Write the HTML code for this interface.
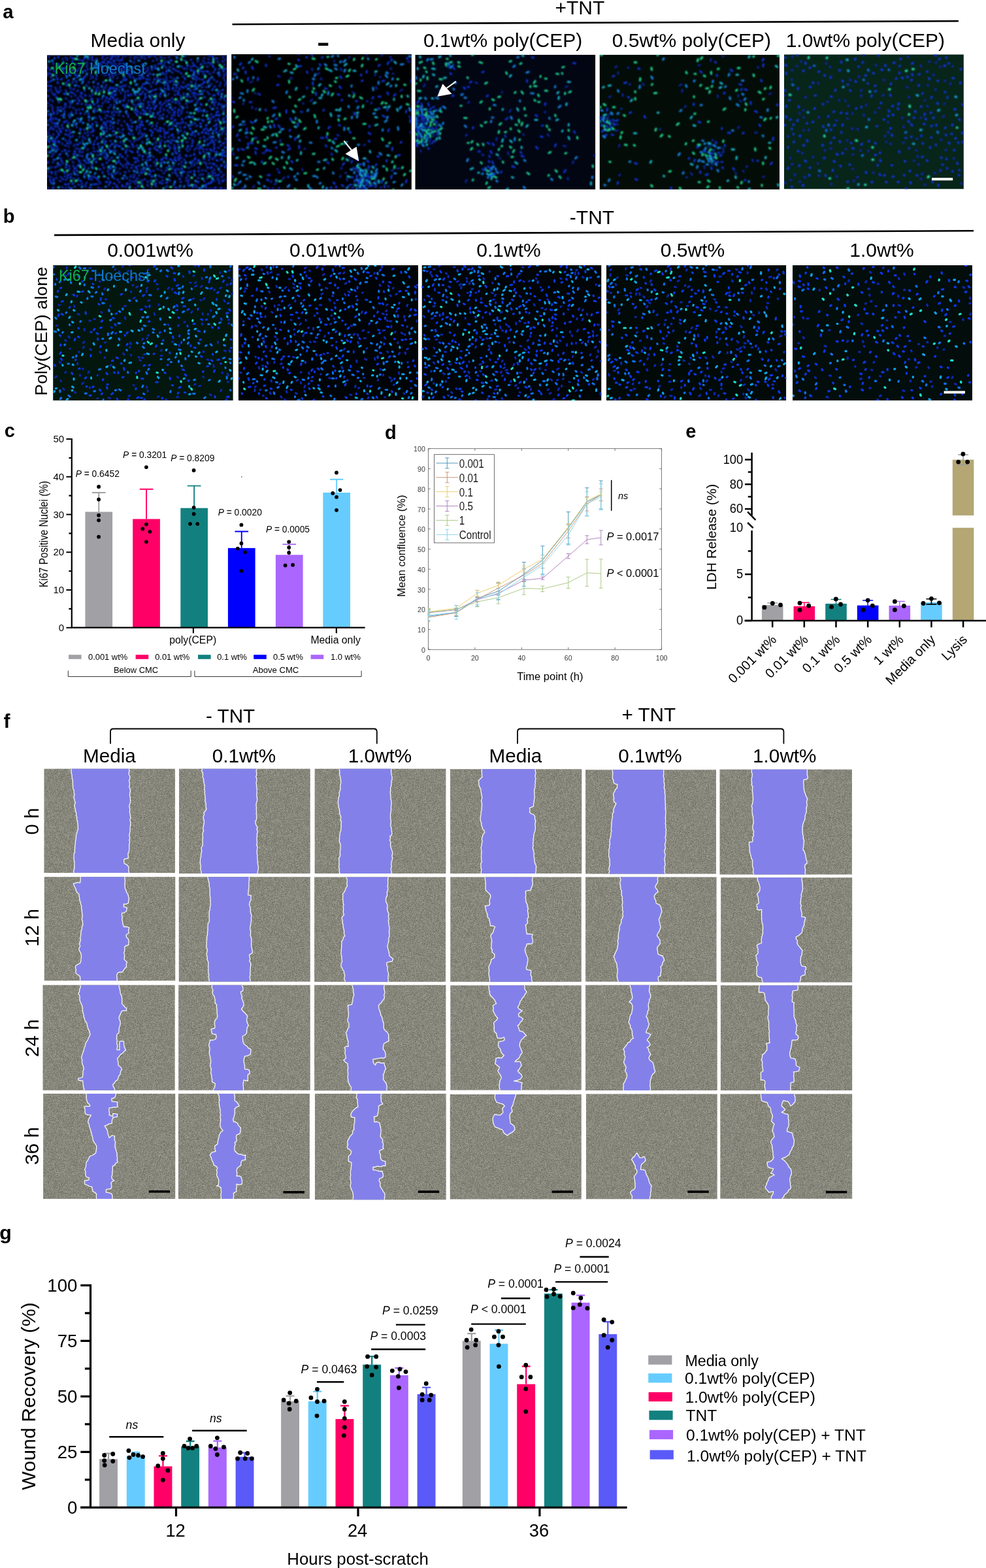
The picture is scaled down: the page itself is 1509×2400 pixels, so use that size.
<!DOCTYPE html>
<html lang="en"><head><meta charset="utf-8"><title>Figure</title>
<style>
html,body{margin:0;padding:0;background:#fff;}
body{width:1509px;height:2400px;overflow:hidden;}
svg{display:block;font-family:"Liberation Sans", Arial, Helvetica, sans-serif;fill:#000;}
</style></head><body>
<svg width="1509" height="2400" viewBox="0 0 1509 2400">
<defs>
<filter id="bl" x="-5%" y="-5%" width="110%" height="110%"><feGaussianBlur stdDeviation="0.85"/></filter><filter id="bl2" x="-5%" y="-5%" width="110%" height="110%"><feGaussianBlur stdDeviation="0.72"/></filter>
<clipPath id="mc0"><rect x="72" y="84.3" width="275.3" height="205.6"/></clipPath>
<clipPath id="mc1"><rect x="354.1" y="83" width="275.8" height="207.3"/></clipPath>
<clipPath id="mc2"><rect x="635.3" y="83.7" width="276" height="206.2"/></clipPath>
<clipPath id="mc3"><rect x="917.5" y="83.7" width="275.6" height="206.2"/></clipPath>
<clipPath id="mc4"><rect x="1199.9" y="83.3" width="275" height="206.2"/></clipPath>
<clipPath id="mc10"><rect x="81.1" y="405.9" width="275.7" height="207"/></clipPath>
<clipPath id="mc11"><rect x="364.7" y="405.9" width="275.3" height="207"/></clipPath>
<clipPath id="mc12"><rect x="645.5" y="405.9" width="275" height="207"/></clipPath>
<clipPath id="mc13"><rect x="928" y="405.9" width="275.3" height="207"/></clipPath>
<clipPath id="mc14"><rect x="1213" y="405.9" width="275.1" height="207"/></clipPath>
<filter id="nz" x="0" y="0" width="100%" height="100%" color-interpolation-filters="sRGB"><feTurbulence type="fractalNoise" baseFrequency="1.7" numOctaves="1" seed="3" result="t"/><feColorMatrix in="t" type="matrix" values="2.4 0 0 0 -0.7  2.4 0 0 0 -0.7  2.4 0 0 0 -0.74  0 0 0 0 1"/></filter>
<clipPath id="fc"><rect x="67.51" y="1176.68" width="200.4" height="159.2"/><rect x="274.04" y="1176.68" width="200.68" height="160.32"/><rect x="481.68" y="1176.68" width="200.68" height="160.32"/><rect x="689.04" y="1177.24" width="201.23" height="159.76"/><rect x="896.12" y="1178.35" width="199.84" height="159.2"/><rect x="1101.53" y="1177.79" width="202.35" height="160.6"/><rect x="67.79" y="1342.24" width="200.4" height="158.65"/><rect x="273.76" y="1342.24" width="200.95" height="160.32"/><rect x="481.12" y="1342.51" width="200.95" height="160.32"/><rect x="689.31" y="1342.51" width="200.4" height="160.32"/><rect x="896.12" y="1342.51" width="200.4" height="160.04"/><rect x="1103.2" y="1343.35" width="200.95" height="160.04"/><rect x="65.57" y="1507.79" width="202.07" height="160.87"/><rect x="273.2" y="1507.79" width="201.51" height="160.87"/><rect x="481.12" y="1507.79" width="201.23" height="161.43"/><rect x="689.31" y="1508.35" width="200.4" height="160.04"/><rect x="896.12" y="1507.79" width="201.51" height="161.15"/><rect x="1102.92" y="1508.35" width="201.23" height="160.6"/><rect x="66.12" y="1673.91" width="202.07" height="161.15"/><rect x="272.92" y="1673.91" width="200.95" height="161.15"/><rect x="481.96" y="1673.91" width="200.68" height="162.27"/><rect x="688.76" y="1675.02" width="200.95" height="160.6"/><rect x="896.96" y="1674.46" width="200.68" height="160.87"/><rect x="1102.37" y="1674.46" width="201.79" height="160.32"/></clipPath>
</defs>
<g id="p_ab">
<text x="4.2" y="28.2" font-size="29.3" font-weight="bold">a</text>
<text x="887.3" y="21.5" font-size="30" text-anchor="middle">+TNT</text>
<line x1="355.5" y1="37.2" x2="1467" y2="32.2" stroke="#000" stroke-width="2.6" />
<text x="211" y="72" font-size="30" text-anchor="middle">Media only</text>
<text transform="translate(494.7 76.7) scale(1.62 1)" font-size="37" font-weight="bold" text-anchor="middle">-</text>
<text x="769.6" y="72" font-size="30" text-anchor="middle">0.1wt% poly(CEP)</text>
<text x="1058.4" y="72" font-size="30" text-anchor="middle">0.5wt% poly(CEP)</text>
<text x="1324.4" y="72" font-size="30" text-anchor="middle">1.0wt% poly(CEP)</text>
<g clip-path="url(#mc0)">
<rect x="72" y="84.3" width="275.3" height="205.6" fill="#000308" />
<g filter="url(#bl)" stroke-linecap="round" fill="none" stroke-width="3.1">
<path d="M322.6 218.4l-1.3 .6M345.4 289.3l-2 .8M103.2 90.6l-.8 1.5M160.8 220.2l-.8 .7M147.6 281.4l1.7 .8M261.2 117.4l.5 1.1M179.2 91l-.7 .5M291.8 91.4l1.2 .4M310.7 266.5l-.2 1.1M176 230.3l1.8 .6M231.7 105.8l1.4 1.4M96.3 249.5l-.3 1.2M141.7 207.5l1 .1M263.5 257.2l-.3 1.7M141.6 251.5l-1.3 1.6M324.4 262.5l.4 1.6M254.9 260.8l-1.5 .8M309.7 133l-.9 .8M145.1 215.6l-.2 1.4M236.7 211.5l-1.2 .5M315.1 195.6l1.4 1.8M80.5 197.4l1.6 1.1M100.2 150.6l1.6 .6M150.8 276.3l-.4 .7M86.8 272.1l-1.1 .6M165.5 164.7l1.1 .6M211.6 213.2l-2 1.2M177.9 113.7l-2 .6M168.7 215.5l1 .4M299.6 127.1l-.3 1.3M250.9 157.5l1.7 .2M105.8 174.4l-.6 1.5M139.6 202.1l-.8 .7M340 203l-.3 2.4M198.5 116.7l.8 2.1M158.5 212.5l-.7 2M108.7 217.7l-.9 1.8M148.8 133.8l1.6 .5M198.3 215.4l.8 1.1M338.6 222.2l-1.4 .9M285.8 163.9l1 .6M91.8 138.8l1.5 .2M270.6 133.6l-1.1 1.1M285.2 179.7l-1.5 1.1M225.3 283l1.3 1.5M236.3 100.5l2.4 .3M290.6 211.2l-.9 .2M111.6 207.6l-1.1 1.7M237.5 253.1l1.2 1.3M75.8 106.5l1.4 1.1M122.1 209.3l-.7 .4M282.8 201.2l-.7 1.9M253.6 102.3l.9 1.6M157.2 156.7l0 1.9M254.6 121.7l.4 1.4M211.9 203.4l.1 1.7M161.1 133.1l.2 1.9M180 119.1l-.3 .8M238 197.2l-1.9 .5M261.8 214.3l1.7 .7M191.1 145.2l0 .8M331.3 268.6l-1.9 .4M272.7 172l-.4 1.4M319.6 95.7l-1.7 .8M194.1 229.4l-.9 .4M108 163.2l-2 .6M203.9 252.5l-2.3 .3M162.3 106.1l.8 .8M280 126l1 .9M153.6 288.7l1.2 0M308.7 121.5l1.9 .5M184.7 217.1l-.9 1M302.3 156.7l-1.5 1M159.3 256.2l-.5 1.6M122.7 98l-1.7 1.2M200.1 108.3l.6 .7M310.1 128.5l-1.2 .4M293.5 125.2l-1.7 .5M324.6 242.6l1.5 1.4M216.2 203.6l.4 1.1M163.8 201.1l-1.4 .1M243.9 146.9l1.4 .7M112.3 164.7l.1 1.1M114.1 221.5l-1 1.8M302.9 272.2l1.1 .3M166.1 265.4l.8 1.8M139.2 114.5l-.2 1M277 268.6l1.4 .8M240.4 90.2l0 1.9M228.9 160.3l-1.7 1.3M177.2 256.4l.1 1M79.4 161.2l-2.3 .1M79.7 187.4l.1 1.3M180.7 287.9l.7 .8M77.5 222.5l.2 .9M292.4 191.3l1.4 .3M275.7 278.4l2.1 .3M142.9 226.6l.9 .2M339.8 165.1l-.6 1.1M286.1 105l-.2 .9M179.6 171.6l-1.1 .3M122.6 146.2l.2 1.2M272.2 138.8l.6 1.1M232.6 145.1l1.3 1.4M312.5 277l.1 .8M301.2 226.3l-1.1 .2M188.7 96.3l0 2M121.1 167.4l0 .9M267.2 120.2l-1.8 .3M117.5 267l1.4 1.1M311.1 113.8l2 .9M332.3 164.7l.4 1.8M218.5 139.8l-.2 2.3M135.5 173.6l.1 2.4M295.9 146.4l1.5 .7M188.6 130.7l-1.2 1.2M108.1 243.6l-1 .7M284.6 85.2l-1.8 1M252 135l1.2 1.4M224.5 244.8l.7 1.4M199.6 86.6l0 .9M103.4 271.8l.7 .4M207.4 152.7l.6 .8M184.8 142l.1 1.1M315.9 234.5l-1.6 .4M323.1 181.6l-1.1 1.4M306.9 266.6l-.8 1.6M177 98.1l-1.8 .6M194.5 159l-1.4 1.7M193.8 255.2l.4 2.1M249.4 196.8l.9 .7M249.4 276.1l-1.4 .5M215.1 87.7l2 .9M182.5 138.2l.3 .8M174.8 159.8l-.1 1.9M218 280.8l-1.1 .6M238.9 143.6l-1.2 .1M313.9 248.3l-2.3 .2M326.6 275.6l1.6 1.5M120.4 273l-1 1M259.7 171.8l-.9 .9M145.1 179.3l1.6 1.7M171.6 113.1l-.1 .9M285.4 228l-.7 .5M96.2 90.1l-.3 1M274.7 250.5l-1.4 1.6M144.1 270.5l1.6 1.3M307.3 168.5l.8 1.6M331.6 253.5l-.7 1.3M273.4 239.3l-1 1.9M229.9 254l.9 .3M171.5 171.3l-.4 2.1M152.3 138.4l1.1 .2M177.2 221.7l2.1 .2M213.8 199.5l.5 .9M111.6 142l1.1 1.2M301.8 93.7l1.4 .5M156.5 87.7l.3 2.1M322.6 96.4l-.1 2.2M336 193.3l1 .6M225.2 277.5l1.7 1.4M221 204.5l-1.5 1.6M105 286l1.4 1.5M245.4 164.3l0 2.1M288.3 279.6l-.7 .4M253.2 204.6l-1.1 1.5M187.8 86.2l.5 .8M216.2 275.9l1.5 .7M207.8 100.6l-.7 .9M210 258.7l.5 1.4M312.1 148.4l1.8 .7M264.5 155.9l-1.4 .1M228 127.3l.8 1.2M135.5 154.5l-.9 .4M248.8 160.6l-1.7 .6M135.2 206.3l-1.4 1.8M93.5 164.1l-1.1 .2M78.3 194.1l.9 1.2M288.3 256.7l1.3 .1M188.8 253.2l.1 2.2M95.2 190.8l-.5 2.1M251.8 98.6l-1.2 1.1M317.7 212.4l-.3 1.7M83.6 192.7l1 1.8M226.5 107.4l.1 1M112 187.8l.6 1.4M177.2 265.8l-1.6 .5M192.5 251.4l1 .2M205.2 267.1l.9 .7M277.2 199.5l-.6 1M254.2 117.8l.8 .4M288 263.4l-.5 .8M210.1 87.1l.5 .7M92.9 271.2l1.1 .8M158.2 111.6l-1.4 1.5M293.9 214.6l1.9 .3M213.4 153.9l1.1 .3M122.1 238.3l.8 .1M71.5 161.9l1.6 1.8M107.4 209l-.1 2.3M172.4 287l-.1 2.1M113.4 261.8l-1.1 .5M295.4 218.1l-1.6 1.1M341.1 199.8l1.6 .8M329.1 264.3l-1.2 .8M160.9 180.2l.9 .8M234.3 260.9l1.2 .8M128 252.2l1.1 1.3M184.4 250.4l1.4 1.7M190.6 149.3l1.3 .5M86.3 100.8l1.6 1.5M250.5 166.5l.3 2.3M107 258l-1.3 1.4M126 214.6l.1 1.7M202.6 205.1l1.2 .7M200.8 268.7l-1.3 2M255.2 284.4l-.1 2.4M304.4 120.4l.9 .6M195.5 138.6l.5 1.8M278 247.4l.5 .6M312.8 96.2l1 .7M131.8 248.5l.9 1.2M347.1 217.4l-1 .2M142.3 117.1l.2 1.5M80.6 153.6l0 1.6M83.7 255.5l.7 1.2M319 204.6l1.3 1.1M126.3 238.2l0 1.8M330.7 184l-1.7 1.1M79 255.8l-.9 .6M240.5 258.9l2.3 .3M90.9 276.8l2.1 .8M167.7 244.5l-1 1.4M293.9 254.1l-.8 .1M183.6 202.2l-1 .1M235 138.1l-1.7 .4M174 273l1.2 .6M106 154.6l0 1.4M274.5 135.2l.8 1.9M164.3 88.1l-.8 .8M219.7 261.1l1.6 1.3M89.7 228.5l-2.1 .1M72.8 184.3l.3 2.1M119.8 131.5l1.3 1M206.9 287.8l1.2 .8M200.4 144.1l.9 1.4M203.6 224.4l.5 .9M173.4 206.5l1.6 .3M188.1 177.4l1 .9M210.2 241.7l-.1 1.2M203.5 159.8l2 0M132 130.2l1.3 1.4M181.7 278.6l1.7 .6M313.1 138.6l-2.1 .8M264.1 245.1l-.4 2M150.5 286.8l-.2 1.1M347.4 199l-.3 1.3M81.1 181.7l0 1.6M84 227.1l-.7 .4M210.5 120.8l-1.6 .3M99 169.8l-.2 1.6M185.3 191.9l1.2 .3M121 104.4l-.1 1M305.6 165.1l-1.9 .2M263.9 98.9l1.3 .4M269.1 144.8l-1.8 .5M260.8 102.6l-1.6 .5M273.5 289l.4 .7M265.3 210.1l.9 .3M258.1 143.5l-.1 1.2M134.1 105.1l.2 1.7M263.9 186.7l1.3 .1M294.2 142.1l.2 1M129.1 265.9l1.3 .2M247.5 214.6l-.2 .9M192.7 242.6l-1.2 1.3M281.8 243.8l.8 1.6M115.1 145.3l.5 1.2M169.2 160.4l-.1 1.8M200.8 183.1l-.9 1.4M263.5 123.6l1.8 1.6M107.8 86.7l.5 1.1M202.2 256.9l-2 .1M184.1 97.7l-2.2 .2M314.4 287.4l1.7 0M275.4 194.3l.8 .9M205.3 88.5l1.2 1.8M278.9 252.9l0 1.1M283.4 92.3l-.7 .8M237.9 217.9l1.2 .5M299.1 117.2l2.1 .6M146.4 186.6l1.7 1.1M100.1 214.1l.7 1.1M180.1 151.3l-1.8 .2M210.7 245.5l1.7 1.3M311.5 231.3l-.3 .9M250.6 121.1l-.6 .6M129.8 203.4l.4 1M140.6 195l1.3 1.8M100.8 138.1l.2 1.7M246.2 121.1l-2.1 1.1M132.6 159.4l-1.5 1.3M85.6 115l1.1 1.9M74.6 85.2l.4 2.3M192.4 285.8l-1 .4M180 188l.5 .9M122.7 250.1l1.5 .3M243.7 181.2l.2 1.5M315.2 228.7l1.9 .4M328.6 221.3l-1.3 1.4M92 242.1l1.8 .7M119.3 138.2l-1.4 1.8M163.2 194.8l.3 2.3M207.8 280.8l-.9 .4M101 126.5l1.1 .2M88.4 169.3l-1.1 .3M294 246l1.6 1.3M112.4 107.7l-1.4 1.6M276.8 146.3l-.3 1.3M117 242.5l1.9 1M167.8 116.7l.8 1.9M255.9 177.8l-.5 1.2M212.3 115.2l2.2 .4M289.1 274.8l-.2 1.6M176.1 85.2l.5 2M340.9 92.8l-.2 2.1M156.6 233.7l2 1.1M245.1 169.6l.4 1.3M315.8 250.5l-.7 1.5M319.7 265.2l-.9 1.6M223.6 109.5l-1.3 1.2M192.3 130.2l-.8 2M346.1 251.4l1.3 1.7M183.9 265.4l-.1 .8M175.1 175.6l-1.6 1.2M231.7 151.4l-1.1 0M279.4 218.8l-1.5 1.3M266.7 221.7l-.2 .9M343.9 194.6l.4 1.9M235.9 226.3l1.5 1.8M126.7 232.3l-.4 1.1M264.1 264.5l.8 0M224.5 138.2l.6 .9M73.5 287.2l.3 .8M302.1 102.9l-1 .3M171.1 265l-.7 2.1M139.3 119.6l-.7 .8M237.7 85.6l-.4 1.7M198.2 230.3l.9 .6M281.1 142.8l0 2.3M84.4 134.2l1.2 .8M292.3 237.6l-1.3 1.1M285.6 217.4l1.4 .2M240.8 199.2l.9 1.9M302.1 153l2.2 .2M90.5 196.5l1.4 1.2M319.6 143.6l1.1 .6M135.9 183.2l.7 1.7M165.8 260.5l-1.1 1.9M342.5 118.5l-.5 1.2M284.6 272.1l1.3 .2M337.4 126.4l.2 1M275.8 236.5l-.9 1.2M239.1 285.1l-.3 .8M133.1 279.2l-1.4 1.8M327.7 110l-1.1 1M290.4 147.5l.6 .9M99.1 222.5l2.2 .8M96.6 196l-.8 1.2M98.9 270.1l1 .2M100.9 287.7l-.1 1.4M327.2 121.4l.6 1M147.2 119.7l0 2.1M264.1 191.2l2.2 0M111.3 247.4l1.2 1.7M71.9 98.8l.9 .4M89.4 155.6l1.3 1.7M182.4 175.8l-.7 .4M212.8 211.2l2.2 .2M271 267.8l1 1.9M323.8 174.6l-1.1 1.6M332.9 94l.9 1.2M259.4 197.8l-.5 .7M191.1 110.6l1.3 .1M332.1 124.4l-.6 .9M73 137.6l.8 1.9M164.9 185.7l-1.6 .5M121.8 218.5l1.2 .7M95.5 231.6l-.8 .3M251.7 130.4l.9 0M221 153l-1.1 .8M100.6 87.4l0 1M196.3 224.2l1.4 .9M298.6 207.7l-.8 .4M218 244.4l1.3 .2M149 237.1l.8 .8M344.9 232l-.3 1.2M156.8 192.4l-1.7 .2M219.7 158.7l-.4 1.6M284.5 276.3l1.2 .6M190.6 185.3l-.5 .9M327.2 229.9l-.3 1.9M187.4 203.6l.5 1M325.6 267.8l-2 .9M345.6 160.7l1.8 1M292 262.3l-.6 1M245.3 134.6l0 2.2M166.5 282.1l.3 1.7M333.4 272.3l-.7 2.2M246.5 233.2l-2.1 .2M95.7 166.3l2 .2M169 95.8l1.7 .2M343.5 151.4l-.8 .7M116 172.8l1 .5M111.7 254l1 .5M139.8 270l1.2 .1M277.6 131.9l-1.2 .2M206.2 171.3l.9 1.5M267.8 164.6l.6 1.2M197.2 153.6l-.6 .9M220.6 89.6l1.8 .5M79.9 239.1l-1.2 .2M225.6 239.9l2 1.3M116.1 227l1.8 .5M99.5 162.4l.9 1.8M238.9 273.6l.8 2.2M160.2 170.6l-.6 1.6M92.1 132.9l-.3 1.8M109.3 266.2l-.9 .3M195 238.2l.6 1M130.4 211.7l-.2 1.2M273.6 202.2l-1.4 1.7M320.3 112.8l1.7 0M303.6 261.3l.4 1.4M220.4 288.6l-.3 1.8M306.8 108.7l2.3 .6M312.7 109.3l-1.1 .6M308.7 226.7l1.9 1.4M76.9 112.6l1.6 .7M149.5 106.6l-1.6 .4M292.5 102l-.5 .7M234.8 93.1l-1.1 .3M205.7 94.7l-1.7 1.1M296.6 137.4l1.7 .1M105.2 224.3l.1 .9M213.3 267.9l-.3 1.1M294 153.6l.3 1.5M146.8 242.5l.9 0M94.9 176.5l-1.4 .4M225.4 103.9l1.2 .2M88.7 254.1l-1.9 .8M218.1 163.2l1.6 .8M342.3 114.8l1.5 .4M190.4 105l.2 1.8M306.6 211l-.4 .9M173.2 230.3l-.5 .8M344.2 130.7l.4 .9M297.5 228.9l.3 .9M280.3 116.5l-.3 .8M72.5 111.1l1.8 .9M231 131.7l.5 1.4M132.7 95.1l.6 1.7M251.4 264.8l-1.5 .2M329.1 240.8l-.8 .4M102.5 130.3l-.9 .6M312.4 88.1l-.1 1.4M148.5 89.8l-1.6 1.1M106.1 281.2l-2.2 .8M302.2 192.4l-2.2 .4M321.6 162.4l-.4 1.2M222.2 274l-1.8 .8M149.5 169.1l-1.7 1.1M81.4 96.2l.4 1.9M275.1 157.6l-1.4 1.3M267.3 175.7l.2 .9M267.4 240.5l.8 1.4M240 223.3l-1.9 .7M252.2 88.6l-.7 .6M262.7 176.2l1.3 1.1M290.3 228l.8 .1M172.9 193.6l.3 2.2M284.8 147.5l1.7 .9M168 83.9l.3 1.2M109.7 158l-2.2 .9M247.7 271.3l1.3 0M262.9 110.4l1.2 .9M313.1 243.3l-1.8 .5M327.9 259.5l-.5 1M130.3 283.4l.6 2.3M342.8 168.5l-.7 1.7M119.7 282.3l1.4 1.1M338.6 271l1.6 .2M268.4 229.3l-.8 2.2M339 159.8l.1 2.1M189.7 219.2l-.9 1.2M215.8 172.9l-1.2 1.1M272.2 258.2l1.6 1.6M228.2 112.5l2.2 .4M161.4 153.4l0 2.2M170 178.5l-1.3 .1M105.4 205.8l-.5 1.5M201.7 113.9l-2.2 .2M253 93.8l-.5 1.5M181.8 92.2l1.6 1M320.3 250l1.6 .3M255.8 256.7l-1.3 .9M318.5 90.1l.9 .8M197.7 132.6l.8 .7M208 276l-.5 1.6M241.8 97.7l2.3 .1M125.7 102.8l-1.5 .2M125.5 148.7l.8 2.1M243.1 268.5l1.4 1.9M216 259.6l1 .3M247.8 227.5l-1.2 .9M86.6 200.2l1 1.5M188.8 197.5l-1.1 1.3M134.3 90.3l2 .8M205.1 215.1l.6 1.4M133.7 100.2l-1 1.8M292.3 138.3l-1.5 .8M337.1 262.8l2.1 .8M140.6 273.6l-.2 1.9M233.9 192.5l-1.5 1.2M164.2 248.3l-1.4 1.3M321 288.5l.9 1.3M136.9 146.7l1.2 .6M129.9 256.6l-.7 .5M135.8 125.4l-.1 1.4M298.7 282.8l-2 1.1M209.8 222.4l-1.2 1.1M347.2 274.1l-.9 .8M217.7 217.4l.9 1M153.2 278.9l0 2.1M141.3 144l.1 1.1M159.4 195.7l-1.1 0M213 253.1l-.1 1.4M335.2 276.2l1 .4M304.4 144l-1.8 1.3M126.8 208.3l.3 2M314.5 260.9l1 .9M335 210.4l1.2 1.5M106.2 231.1l-1.8 .2M268.2 83.8l.2 1.7M241.8 119.4l-2 .4M266.1 214.7l1 .6M169.8 252.8l.7 .9M251.8 200.4l-.4 1.9M229.2 121l-.3 1.3M257.2 168.8l-1.7 .3M235.1 158.8l-.3 1.9M276.1 241.4l1.6 .3M277.1 161.8l-1 .8M197 102.2l-.8 .4M180.8 184.4l1.7 .1M342.6 267.5l-1.1 .6M95.5 219.7l-.3 .9M299.5 149.5l-.6 1.3M336.4 151.6l.5 .8M73.1 269.2l1.1 .9M86.5 110.8l.9 .3M300.4 248.7l1.6 1.1M175.8 170.2l-1.2 .5M272.2 154.2l1 .6M116.8 193.8l.8 1.1M80.2 168.5l.6 1.4M125.5 280.5l-.4 1.7M194.8 246.9l-.2 1M272.5 125.8l.6 1.4M80.7 248.3l.6 .5M85 266.9l.6 .6M310.1 288.2l-.3 2.1M90.7 261l-.8 1.3M294.8 96l1 1.4M80.7 235.4l1.5 .7M336.6 130.6l-.5 1.3M336.9 199.6l-1.1 .9M101.6 184.5l.7 .7M234.5 239.7l.6 .8M327.2 192.5l.2 1M172.8 108.8l-1.1 1.5M190.4 263.3l2.1 .5M258.4 208.9l-.3 1.3M100 112.6l-.1 2M240.6 187.8l0 .8M76.3 207.1l1.1 .8M159.9 91.8l1.5 0M277.5 172l.4 2.1M222.6 170l-1.6 1.5M268.7 107.8l1.3 .4M346.2 111.7l.6 2.3M228.5 169.5l1.9 1.4M204.2 118l.7 2M154.2 208.6l.3 2.1M297 251.1l.9 1.9M329.5 131.8l-2 1.3M310.3 260.4l-1.2 .5M162.7 176.2l2 1M191.5 139.7l.1 1.9M77.4 136.7l.8 .8M169.4 222.4l-.7 1.6M81.6 205.1l.1 1.3M223.6 234.3l0 1.5M231.7 286.7l.1 1.2M311.7 208.9l1.3 1.9M116.1 167.7l.5 1.8M335 139.5l.8 .3M77 151.8l-.1 1.2M317.2 140.5l1 .2M104.3 238.2l-.4 1M76.7 196.7l-1.2 2M258.7 191.4l-.8 1.8M156.4 150.4l-.6 1.1M341.1 86.5l.6 2.1M259.3 275l1.2 1.7M303.2 256.5l1.9 .3M181.4 197.3l-1.1 .3M315.2 133.1l.9 .3M279.1 168.5l-1.4 1.4M266 254.3l-.9 .2M112.8 273l.7 .5M111 125.5l-.1 1.6M211 273.2l-1.4 .4M209.1 196.9l-.1 2.2M123.1 91.9l-2.3 .1M345.7 90.6l-1.1 1.4M118.6 149.7l.9 0M347 84.8l-.2 1.2M244.2 177.2l1.4 .4M154.6 162.5l1.6 .2M268.5 138.9l-1.1 .3M179.9 262.9l-.5 1.2M192 164.2l-.8 1M232.5 155.6l-.4 .9M300.7 121l-.8 1.9M300.9 285.3l-.6 1.6M323.4 128.7l-.6 1M302.1 221.3l.6 1.1M135.7 257.2l-.4 .9M162.8 129.7l-.2 .9M326 200.2l1.4 .3M276.4 111.3l1.7 1.5M244.8 207.3l1.3 2M343.7 98.6l-.4 .7M193 84.3l-.8 1.5M249.8 174.4l-.2 2.3M183.8 258.1l-.8 .3M298.7 188.4l-1.7 1M275.7 188.3l-.2 1.3M263.5 150l-.8 1.9M79.5 141.2l.4 1M134.7 201.7l-.7 .7M345.5 154.4l1.4 1M234.7 125.5l-1 1.5M284 188.6l1.3 .1M96 109.1l2 .6M85.8 137.9l1.2 1.1M251.7 189.5l.2 1.2M176.8 106.2l-1.4 1.5M251.4 209.5l1.2 1.5M253.9 154l1.9 .9M106 253.6l-.1 .9M171.9 241.1l-1.5 .7M95.6 274.4l2.1 .1M249.3 280.9l-1.9 .1M343.6 122.8l1.2 .9M266.1 128.5l-.3 1.4M125.1 158.4l0 1.6M325.6 288.8l1.1 .6M214.7 194.6l-1.3 1.1M155.7 170.1l-1 1.8M120.9 228.3l1.6 .3M161.5 115.1l-.7 .4M196.3 177.4l.4 2.1M91.7 251.7l.7 1.9M316.7 272.3l.4 .8M329.5 213.9l.8 1.1M327.8 159.7l.5 2.2M277.6 101.7l1.5 .7M74.3 263l-.7 .7M231.7 276.1l-1.4 .3M157.9 136.3l.5 .8M140.9 91.7l2 .8M197.5 261.2l.1 1.3M85.7 212.8l-2.3 .6M194.5 174.1l1.1 .7M287.1 230.9l.8 1M330.4 155.9l-1.4 1.3M168.7 191.1l.3 1.5M199 275.7l-.5 .6M152.2 178.1l.9 1.3M255.2 126.9l1.5 1.7M206.3 83.9l.7 2.2M202.9 277.8l1.5 .1M295.9 286l-1 1.6M334.6 279.7l1.5 1.5M212.9 183.6l-.7 .6M88.3 172.7l-.8 1.6M239.3 191.8l.4 1.7M317 170.6l-1 .5M284.5 158.6l1.3 .5M250.9 241.4l-1.4 .3M305.7 226.9l-1.5 1.5M113.6 136.2l-2 .5M77.5 178.6l1.4 1.2M95.4 286.1l1 1.3M253.1 113.7l1.3 0M235.3 248.2l.7 .9M273.6 109.1l-1.1 .4M293.7 115.9l-.2 2.4M143.5 131.9l.4 1.9M159.3 239.4l.6 1.4M286.8 268.4l2.1 .8M199.2 280.1l-1 1.9M130.1 173l-.1 1.5M108.9 147.2l.4 1.2M168 197l.9 .3M172.7 116.8l.7 2.3M245.7 125.4l1 1.1M162.1 98.8l1.3 .2M208.9 162.7l-1.8 .4M311.3 93.1l-.9 .1M145.3 231.6l-2.2 0M218.7 208.4l-2.2 .9M101.8 275l-.9 .6M107.3 134.6l.6 1.2M145.5 165.7l-.7 1.4M115.5 153.3l-1.9 .6M107 198.9l-1.3 .7M285.7 171.7l1.6 .3M156.7 105.5l.2 .8M105.4 215.1l1.2 .1M74 202.2l-.7 2.3M128.5 197.9l.4 .9M319.3 153.4l.2 1M179 274.3l1.6 1.1M78.3 271.1l-1 .2M105.6 187.9l-1.4 1.1M72.7 232.1l0 1.2M176.5 152.9l-1.5 1.8M80.8 164.2l-.5 1.8M134.8 228.8l-.9 .7M184.4 111.8l-1.5 1.2M272.7 221.3l.7 1.4M317.8 101.9l-1.3 .2M320.1 244.3l-1 .8M259.2 86.4l-1.3 1M247.6 260.7l-1 .3M88.4 192.3l-.3 2M129.2 137.2l.4 2.3M82.2 108.2l1.2 1M85.7 262.7l-.9 .9M115.6 124.4l1.9 1.2M333.6 226l1.5 .4M151.9 224.4l-.2 2.3M78.6 117.9l-1.1 .2" stroke="#0a25a8"/>
<path d="M186.6 239.4l1.1 1.1M229.6 261l.7 1.5M80 215.3l1.4 1.1M328 226l.2 1M143.6 159.2l.7 1M260.9 91.6l1.8 1.1M264.8 134.4l-.7 1.9M99.4 186.6l-1.7 .4M344.9 254.4l-.7 2.2M108.8 202.9l-.9 .4M138.7 287.1l-1.9 .2M173.2 149.9l.3 .7M338.9 288.1l-2.1 .2M328.4 145.8l-2.3 .4M209.2 174.7l.7 1.8M82.4 172.6l-.1 1.7M239.6 244.1l-.2 1.7M292 106.9l.9 1.3M123.5 173.3l-.7 .9M324.8 214.2l-1.1 .9M282.2 104.8l-.6 .7M245 218.3l.5 2.2M229.4 86.9l-2.1 0M159.4 187.4l-.8 1.3M228.1 174.3l.9 .8M213 106.2l.3 1.7M229.1 189.9l-.6 .7M297.4 142.2l1.7 1.1M336.1 114.2l-.8 2.2M331.5 190l-1 2.1M136.7 247.7l-.8 1.5M237 164.9l-.6 2.3M251.6 141.2l1 .5M303 278.1l.5 .8M283.2 193.9l-1 1.2M345.9 204.9l2.1 1M331.4 89l.6 .5M149.5 151.8l.5 1.3M273.2 176.9l.9 .2M202.9 187.3l-.4 .8M127.5 120.3l-.3 2.3M219 128.8l2.1 0M162.6 149.1l.9 .8M331 202.4l.8 1M184 236.2l-1.2 .8M333.6 170.9l-2.1 1.1M81.9 244.3l2 .3M117.9 221.2l1.4 .4M73.3 247.5l-.4 2.2M119 181.2l.9 .8M292 205.6l1.7 .9M280 262.6l2.2 .5M218.4 238.6l-.1 1.6M245.2 156.4l-.7 2.1M214.8 189.9l-.7 1.4M88.4 164.6l.3 1.1M245.6 87.4l1.3 0M273.8 243.7l.2 1.1M232 206.6l-.3 1M236.4 121l-.5 .8M325.7 136.7l-.9 1M331.5 196.2l-1 2.1M169.8 147l1.5 .5M130.1 117.4l-1.3 .6M326.1 250.4l1.9 1.2M115.8 257.3l-2.1 .8M287.8 223.4l-.7 1.5M344.6 238.2l1.1 .8M237.3 104.6l1.8 .4M135.5 272.6l1 1.6M242.1 172.1l-.9 2.1M335.2 158.7l-.7 1.2M306.1 223.9l1.2 .2M284.7 131.7l-.3 1M336.2 175.7l-1.7 1.1M244.9 278.8l-.4 .8M294.5 201.6l1.2 2M197 204l1.4 1.4M227.3 156l-1 .7M225.7 115.5l1.2 .9M347.7 177.3l-1 1.8M247.1 248.8l-1 .6M257.1 131.7l.5 1.2M101.3 256l-.8 .3M320.7 120.6l-.4 2M221.3 84.4l.6 .8M166.7 228.5l1.5 1.4M161.9 216.1l-.7 1.5M325.6 85.8l-.2 1.5M165.2 272.6l.6 1.1M246.6 143l-1.4 .7M268.8 234l2.1 .5M268.3 183.4l-1.2 .3M112 280.9l-1.1 .3M149.3 156l-.5 1.2M106 178.8l1.3 .9M88.5 97.7l1.3 .9M130.5 145.4l.3 1.2M258 222.9l-1 .3M99.6 103.9l-.3 1M107 106.1l.7 1.1M98.2 143.4l1.2 .8M307.4 159.2l1.2 1.5M238.5 280.7l-1.3 1.9M108 141.1l.8 .2M121.1 245.8l.1 1.4M201 193.6l.8 .4M194.1 189.9l1.3 .8M139.8 97.1l.5 1M238.7 151.4l1 .6M75.1 216.1l.2 1.7M226.1 165.3l-1.3 .1M342.4 181l-.7 2.1M174.3 280.7l.9 .4M190.9 101.4l-1.5 1.1M233.2 270l-1.2 .4M338.8 237.8l2.2 .3M98.9 229.6l1 1.2M73.4 125.7l-2.1 .2M282.9 119.6l.2 1.7M84.2 144.3l-2.1 .8M154.6 182.1l1 1.6M321.8 228.5l1.4 1.9M118 158.5l1.5 .1M195.9 145.7l1.7 .6M196.8 250.2l.6 .9M168.6 151.3l-1.3 .3M196.3 193.6l.5 .7M287.7 129.6l1.3 .8M202.1 220l.9 1.8M100.1 205.6l1 .5M106.5 110.2l-.7 2.1M147.4 137.2l.4 2.1M143.4 199.5l-1.2 1.7M272.4 142.5l.8 2M264.4 205.8l-1.9 1.5M82.2 273.9l-.5 2.3M316.1 191.5l-.9 .3M99.2 158.6l1.4 1M84.3 216.9l.3 1.9M228.1 266.2l1.5 1.1M310 201.9l-.7 1.3M164 170.3l2 .9M323.9 277.3l-.4 2.3M239.8 229.1l1.7 1.4M229.8 227.4l-1.4 1.8M229.5 199.3l1.4 .4M209.8 193.3l.5 .8M222.3 143.5l-.2 1.3M324.3 255.9l-2 1.1M339.6 233.9l1.8 .4M188.2 160.8l1.5 1.1M196.9 197.5l2.1 .4M141.1 86.4l-.3 2.2M128.4 245.4l1.8 .3M143.8 220.6l-1 1.2M187.6 283.2l-.4 2.3M166 155.7l-.6 .7M72.8 114.9l-1.5 1M148.2 115.3l-.2 .8M299 242.2l-1 1.9M279.6 133.9l1.5 .2M72.2 102.6l1.1 1.5M147.5 247.5l-.5 1M109.4 171.9l0 1.1M120.6 153.3l.9 1.2M244.7 195.8l1 .4M246.4 244.2l2 .4M104.3 123.3l1 0M210.2 170.2l1 .4M259 153.3l-.2 1M297.5 235.7l-.4 1.4M78.4 123.6l-.9 .8M187.2 90.7l-1.3 1.2M211.9 284.4l-.9 .6M219.3 174.5l1.6 .3M206.8 144.3l.8 1M178.5 209l.2 1M311.8 198.3l1.1 .2M118 116.6l.2 1.8M111.7 89.1l.2 1.5M115 112.5l.1 2.2M104.8 267.3l-1.3 1M255.2 161.7l-.5 .8M195.8 112.3l.1 1.5M247.3 96.7l-1 .5M172 85.6l-.3 1.7M218.7 98.5l-1.2 .2M115.8 97.7l-.4 .7M77.2 131.3l1.2 .8M89.9 204.6l.3 2.2M331.4 245.3l1.5 .6M87.4 223.8l-.6 1M268.5 157l.9 .2M186.1 105.1l-1.2 .4M284.2 237.7l1.8 1.3M329.5 105.7l-.4 .9M302.6 168.6l1.1 2M128.8 88.6l.6 1M158.3 125.8l-.6 .7M166.7 137.6l-.8 2.2M130.1 108l.7 .5M224.5 121.5l.7 .5M150 127.5l.1 1.8M307.4 189l-.9 .4M168.6 133.7l.1 1.9M261 218.3l1 .5M341.3 137.3l-1 .9M114 231.2l1 .7M269.4 287.2l-.6 1.2M157.6 84.2l1 1M238.9 136.9l-1.2 .3M192.4 232.4l-.1 1.7M120.1 252.5l-1.3 1.6M268.8 259.1l-.7 2.2M174.6 200.3l-1.8 .9M73.8 131.5l-1.4 .2M239.9 127.5l-1 .9M254.4 241l.4 1.9M339.6 252.5l-1.3 1.6M117.8 108.2l.9 .4M278.4 182.1l.2 .9M189.5 118.3l1 .1M218.3 118.9l1.8 .4M331.6 175.8l-1.4 .7M291.4 155.4l-1.7 .6M213.6 119.5l1.3 1.8M347.2 186.2l-1.3 .2M92.4 200.6l1.2 1.8M114.4 235l-1.8 1.2M344.9 212.2l1.3 .5M102.7 97.8l.3 2M178.6 284.1l-.1 1.7M194.5 280.2l-.4 2.2M123.8 141.8l1.6 1.7M305.3 233l1.2 2.1M103 218.7l1.1 1.1M88.8 86l.5 1.7M108.3 270.8l-.3 1.1M126.6 92.7l-.6 .8M156.6 251.5l.6 1.2M277.5 257.8l.9 1.4M325.8 179.1l1.3 0M325.6 100.4l.9 2M215.7 144.2l-2.2 .3M259.8 124.5l.3 1M254.4 279.4l1.4 0M261.1 243.9l-.9 0M326.4 217.4l.9 .9M117.5 261l.4 .7M208.1 248l-1.5 .2M308.1 98l-.9 .9M126.3 166.6l.2 1.4M334.3 182l.1 2.2M161.8 189.8l-.2 2.2M181.5 223.7l2.4 .4M171.3 220.3l1.9 .2M270.3 188.6l1.7 .6M148.6 210.4l-.3 2.2M314.5 202.9l1.1 1.2M148 273l.3 1M265.7 282.5l.6 1M94.6 120.6l-1.1 1M215.6 264l2 .5M172.1 124l.1 1.6M316.4 109.4l2.1 .1M152.8 258.8l.5 .9M76.8 182.1l.2 2.2M342.5 219.2l-1.3 .4M298.1 100.3l-2.2 .7M318.3 199.6l1.2 .5M274.9 273.3l.5 .9M81.9 287l-1.3 1.8M288.1 100.3l-1.5 .6M181.8 245.9l0 2M172.2 134.8l2.2 .2M78.7 263l.7 2.2M319.8 84.7l1.4 .7M234.2 83.9l-1.1 .9M315.6 282.2l-1.1 2.1M319.2 239.3l1.8 1.3M178.9 135.7l-1 .5M219.5 105l1.4 .1M194 272.2l.6 .7M253 216.8l-.5 .9M341.4 107.7l.8 1.8M256.9 202.9l-2.1 .4M296.7 108.5l.8 2.2M320.7 280.4l-1.7 .5M88.2 141.3l1.8 .2M269 264.5l.2 1M313.2 125.4l-1.3 1.2M305.1 245.3l-2 .3M99.3 281.9l1.4 .5M208.7 254.9l-.9 1.9M257.1 136.3l1.5 .6M86.1 148.3l-.1 1.2M288.1 283.7l1.9 .8M267.7 244.8l1.8 1.5M98.7 263.2l.2 2.1M294.1 222.9l-.9 1M224.9 252.1l.2 2.2M174.5 92.3l-.3 2M317.3 255.8l1 1M236.1 178.9l1.4 .5M322 210l-.9 .6M342 275.9l-1.5 1.7M123.6 185.6l-1.6 .8M239.7 161.7l-1.1 1.3M141.8 189.7l-1.1 1.1M264.8 105.3l1.3 .3M333.4 142.3l.8 2.2M343.9 225.6l1.8 .3M218.1 191.2l.6 .6M73.4 213.4l-.8 .5M262.9 167.7l1.5 .2M83.5 88.3l0 1.3M205.1 241.6l1.9 1.2M74.4 175.5l-.8 .1M336.1 104.9l-.5 .9M170.5 89.9l-1.2 .6M162.2 242.1l.5 1.1M172 99.7l-.8 .8M101 199l.5 1.1M76.5 275.1l.3 .8M201.6 232.2l1.3 .9M181.7 84.8l-.8 2.1M223.2 148.1l-1 1.5M141.1 150.8l-1.9 1.2M162.2 234.4l.7 .9M85.2 181l.8 1.2M244.5 199.6l1.6 1M267.5 171l-1.4 1.8M138 160.8l-1.6 .2M163.9 278.5l-1.7 .1M166.3 94.3l-1.3 1.7M130 223.8l-.4 2.3M150.8 162.1l-.6 .9M290.2 196.1l1.6 1.7M346.6 126.8l-.9 .9M156.9 94.9l2 .8M306.2 104.7l-1.3 .9M184.5 133l-1.4 .2M177.2 144.4l-1.9 1.4M153.5 96.9l.6 2M280 186.8l-.9 .8M193.5 121.2l-.7 1.5M122.7 197.2l.7 2.1M110.5 94.7l1.1 .5M339.9 243.6l-2 .7M94 245.8l.5 .9M138.7 234.5l1.3 1.2M263.1 181.1l-1.2 .4M121.7 232l.7 .8M230.1 165.8l1.5 0M260.3 225.8l-.6 2.1M169.8 257.6l-.9 .8M87.7 209.4l-.8 .4M345.5 105.1l-1.4 .5M149.5 231l.7 1M295.6 178.8l-.9 .9M87.6 120.4l.7 1.1M268.2 225.7l-1.6 1.3M122 276.4l2.1 .7M249.5 111.4l-.1 1.7M180 101.8l-1.4 .3M190.1 153.6l-1.8 .5M92.3 235.8l-1.7 1.6M87.9 126.4l1.1 .6M78.1 278.8l.6 2M328 151.8l.9 .3M331.7 232.6l-1.1 .2M168.6 278.3l.1 1.7M150.4 219.4l-.8 1.8M218 168.3l1.5 .2M168.5 185.5l1.8 1.6M274.2 167.5l-1 1.4M303.4 204.1l.8 1.5M263.9 196.7l-1.2 .9M296.9 261.6l1.3 .7M230.8 244.1l-2 .9M205.2 271.2l-1.1 .1M172 141.5l-.2 1.5M212.8 237.4l1.1 .4M216.1 185.6l1.3 1.5M309.4 183.7l2.1 1.1M89 216.4l2.1 1.2M83.7 188.4l.5 1M114.1 285.3l.9 .4M72 146.5l2.2 .8M156.9 263.8l.4 .9M330 286.8l-.1 1.4M221.1 135.3l1.4 .7M188.6 122.5l1.4 0M72.4 156.4l.7 1.7M167.5 113l-1.2 .9M334.7 267.2l-.8 .7M221.1 197.1l1.3 .1M318.5 220.4l-.8 1.9M233 202.1l.7 .7M80 226.1l-.8 .6M211.6 159l-.2 1.4M217.2 132.3l-.4 2M254.9 108.4l0 1.7M303.2 111.6l.2 1.8M210.7 231.1l0 2.3M143.7 282l1.6 .1" stroke="#0a34e4"/>
<path d="M216.1 158.7l-1.1 .3M158.4 146.5l-1.1 1M185.8 125.6l-1 .3M101.6 250.8l-.2 1.5M209.8 263.5l.6 .6M318.3 124.2l-.5 2.2M273.5 210.3l-.3 1.3M273.9 230.4l.3 .9M226.1 185l-1.7 .7M299 276.5l.9 1.1M204.5 110l1.3 .9M97 211.9l-1 .7M143.2 169.5l.4 2M134.4 235.9l-1.2 1.7M342.3 186.2l.3 1.4M324.8 209.1l1.8 .6M174.8 164.6l-.6 .9M230.5 140l-2.1 1.2M310.5 176.2l-.1 .8M96.3 104.6l-1.3 1.4M251 248.4l1.6 .5M156.3 101.4l-.3 1.2M334.5 257.9l.3 1.7M218 113.4l-1.1 2M193.8 98l-1.6 .4M235.5 113.6l-1 .8M187.5 136.2l.3 2M133.1 112.7l-.5 1.6M157.2 200.4l1.5 .7M342.7 162.4l-.3 1.3M312.9 215.3l.3 1.1M174.8 187.4l-1.5 1.3M143.8 243.3l-.5 1.7M223.5 126.3l1.6 .7M178.6 156l.4 2M234.8 173.2l-.6 1.1M338.6 148l.8 .8M109.8 288.5l-1.8 1.3M126.2 109.4l.3 1.9M101.5 234.7l.4 .8M304.8 288.4l1.8 .1M82.7 121.7l-1.2 .2M256.8 215.8l.8 .5M135.6 179.1l1.4 0M258.8 253.8l1 .5M107.5 115.3l-1.1 .2M326.5 166.8l-2.3 .1M88.4 187.9l-.8 1.4M296.4 120.2l-.9 0M297.2 266.5l.8 2.1M88.4 249.3l0 1.2M211.6 92.7l1.7 .1M160.9 230.2l-1.1 .6M267.8 277.5l-.5 2.3M91.7 169l2 1.1M146 264.8l-.8 1.1M324.5 117.9l-.7 .6M325.2 155.1l-.6 2.1M281.9 284.9l-.1 1M300 135l1.7 .6M247.8 181.1l1.6 .3M149.9 102.5l-1 .5M233.8 220.7l-1.1 .1M204.7 261.5l1.5 .8M189.9 268.9l1.1 .1M184.4 170.5l-1.2 .7M85.8 231l-.8 1.3M186.8 272.9l2 .3M217.1 83.9l.1 .9M288.8 178.5l2.2 .7M284.8 248.6l-.9 1M193.3 169.9l-.7 2M277.1 150.8l.6 1.4M336.6 216.7l-1.3 .2M231.6 101.7l1 1.4M78.1 174.3l-.1 1.6M231 238.3l-2 .1M236.7 154.1l-.6 2.2M137.3 243.5l-1.9 .8M325.3 203.9l.7 .6M77.2 231.8l-1.1 1.6M290.6 248.5l1.8 1.3M172.7 181.4l.2 1M289.1 135.7l-1.6 .2M312.3 168.3l-.3 1.9M276 284.5l-.6 .8M138 193.4l-.8 2M98.2 179.7l-.9 .1M126.7 125.2l-1 2.2M187.1 227.7l1.3 .4M174.6 139.5l2.1 .1M72.7 191.2l1.2 0M90.7 183.3l-.1 1.2M127.8 188l-.9 .1M288.5 191.8l1 .2M307.7 193.5l-.6 .6M117.5 188.8l-1.3 1.5M199.3 92.8l.7 .8M296.7 112.7l-.4 2.3M102.3 116.6l-.2 1.8M207.9 167.2l-.9 .5M98.4 174.7l-.6 1.3M342.7 247.3l.4 .9M257.4 94.6l1.6 1.6M268.8 193l.9 .2M155.6 131.6l.3 1.2M335.1 110.8l-1.6 1.4M279.3 164.3l1.2 .8M186.9 109.3l-1.3 .3M138.3 217.1l-.7 1.5M125.8 285.7l-.9 1M80.6 92.7l-1.5 .3M258.3 107.3l1.2 1.1M175.8 224.7l-.3 .8M118.4 236.9l-.4 1.4M177.9 248.9l-.1 1.2M298.9 131.4l-2.3 .8M270.7 87.6l.2 1.4M144.7 101.1l.5 .9M226.7 212.9l-1.9 1M129 269.7l.4 1.8M114 265.4l.3 1.3M271 119.2l1.1 .2M304.3 182.4l-1.9 .9M322.7 196.8l-.2 1.7M320 131.2l-.4 1.8M82.6 279.8l-.5 1.8M171.9 269l.2 1.7M113.8 120.3l-1.5 1M305.8 130.5l-2.1 1.1M116.1 130.5l-1.6 .6M261.4 164.3l-1.6 .2M258.4 159.4l1.8 .7M183.4 209.3l1.5 1.3M339.7 143.4l-.4 1.4M139.8 282.8l-1 0M132.8 239.6l.3 2.1M156.7 225.1l-.4 2.4M164 237.5l.8 1.9M164.2 208.7l-1.7 .3M319 180.8l-.9 1.6M220.7 257l-1 .3M209.9 129.3l-2.1 .5M264 235.4l-.1 .8M73.8 169.7l-1.3 1.4M162 285.6l-.7 .5M153.6 236.1l.8 .3M195.9 107.1l-1.1 .9M269.1 129.6l1.4 .5M309.5 143.7l-2.3 .3M140.8 256.1l1.1 1.2M340.5 229.7l1.1 0M143.3 125.3l-.6 .8M228.5 146.7l1 1.7M183.6 154.9l-.3 1.7M201.3 199.5l-.2 .8" stroke="#0c6ae8"/>
<path d="M179.5 166.1l1 .5M207.2 140l-1.3 1.7M135 268l1.4 1.7M151 270.2l.3 1M271.3 197.9l.8 1.6M202.1 153.8l-.1 2.3M252.1 145.1l1 2.1M212.5 135.4l1.3 1.5M109.8 191.5l1.1 .9M247.9 138.1l1.5 1.6M309.4 273.4l1.2 .4M218.1 251.4l-.4 1.4M110.6 154.6l.3 .8M342 173.5l-.1 1.2M189.6 207.4l-1.8 1.4M168.2 121.7l.2 2.1M292.1 186l.7 1.5M222.5 96.9l.7 .7M173.7 254.5l-.1 1.5M258.8 267.6l.6 1.6M97.1 95.6l-1 1.1M324.5 273l1.1 .1M331.9 137.3l-1.1 .7M136.9 134.7l-.5 .8M82 220.8l1.5 1.8M192.3 212.3l1.7 .8M88.7 241.8l-1 .9M248.3 102.2l-.6 1.7M320.7 186.7l-1.3 1.3M214 226.4l-2.1 .6M225.1 218.6l-.5 1.7M113.1 202l-1.1 .1M300 200.6l-.8 .4M114.8 184.1l-1.9 1.5M274.9 225.9l-1.2 .3M124.1 121.1l-1.9 1.1M140.5 137.9l.2 2.1M102.9 143.2l1.3 1.2M174.5 260.3l-.3 2.2M198.7 286.1l-.5 2M306.9 139.3l-1.4 .1M121.5 114.9l.1 1.4M134.9 86.9l-2 .1M124.8 181l-1.2 1.8M166.8 254.9l-.9 1.1M142.1 180.6l-.6 1.8M177.9 130.2l1.9 .1M146.8 97.4l1.8 1.4M90.3 286.8l-1.2 .1M155.3 195.6l-.9 1.6M74.7 93.7l.5 .8M345.5 146.5l-1.1 1.2M250.6 288.1l-1 .8M246.7 252.9l-.2 2M280.2 207.4l-1.1 0M167.3 206.7l1.7 .9M169.8 232.1l-1.4 1.4M227 258.6l-2.4 .4M302.9 88.9l-.3 .9M148.3 191.9l0 .9M326.9 90.1l-.7 1.7M134.4 190l.1 1.5M276.5 264l1.4 .8M252.2 125.5l-1.6 1.3M334.9 205.9l-.6 1.4M312.6 222l-1.9 .3M117.6 214.2l-1.1 .2M292.4 173.1l-1.1 .1M319 234.5l1.4 1.3M79.5 211.1l-2.1 .9M71.5 209.1l1.1 .1M81.3 230.1l-.8 .1M136.7 212.6l-.3 2.3M222.8 249l.6 .9M311 284.2l-1.4 .9M207.8 186.4l-1.1 .6M130.3 83.6l.4 2.4M331.6 236.6l-1.5 .6M242 104.8l.6 2.1M257.4 248.4l-.6 .6M159 269.8l1.1 .3M270.3 216.2l2.1 .7M211.4 139.5l-1.5 1.3M238.1 267.8l-.9 1.6M73.8 257.1l-.1 1.6M156.2 216.8l-.3 1.3M245.2 113.1l-.4 1.2M242.3 123.9l-1.2 .5M298.2 160.8l1 .3M218.6 226.9l-.3 2.3M159.2 204l-1.3 1.4M148.5 93.6l-1.4 1.2M203.5 136.4l.6 2.1M264.9 249.9l1.2 .1M224.4 207.3l-.7 1.4M128 219.8l1.1 1.6M206.5 123.2l-.1 2M336.6 235.7l-1 1M245.2 223.7l-1.5 1.2M138.5 263.3l-1 .4M176.1 215.5l1 1.1M121.3 203.8l.9 .2M179.2 241.1l1.7 0M286.6 144l1.1 .2M273.9 101.4l-2.1 .5M174.6 234.4l1.3 1.4M133.8 219.5l-1.3 .3M165.5 102.2l1.2 1.6M300.7 166.5l-1.6 1.6M118.9 84.1l-.7 1.5M201.7 103.3l-1.5 .1M133 261.5l-.3 1.8M229.3 233.5l-.8 1M111.3 176.2l-1.7 .1M255 274.1l1.4 .8M134 169.7l-1.1 .7" stroke="#12a8e8"/>
<path d="M231.7 187.8l1 .2M194.8 163.3l2.2 .6M92.2 151.1l1.5 1.8M262 286.2l-1.4 .1M269.2 124l.5 .8M224 265.5l-1.4 .9M138.6 163.7l.6 1.5M269.5 151.7l-1.5 .5M115.5 90.1l2.3 .3M317.1 176.3l-.9 1.3M190.4 215l-.9 .7M175.3 246.2l-2.1 .5M277.3 90l.4 1.7M297.7 182.5l1.8 0M154 243l-1.4 .1M146.6 109.8l-.2 2.2M72.8 238.2l-.6 .9M310.1 102.2l-1.4 1.5M134.2 164.6l1.6 .7M146.7 257.2l1.3 1.6M316.3 159.5l-.6 .9M285.6 95.4l.1 1.5M293.6 130.7l-.4 1.5M142.3 237.6l-.3 2.3M154.4 204.3l-.1 1.1M232.3 280.9l.2 1.5M114.1 240.3l-2.1 1M94.2 259.5l1.7 1.6M153.7 229.8l.7 1.4M241.2 114.4l-.4 .8M102.2 246.5l.8 1M340.2 196.7l-.9 .2M269.1 94.3l1.9 .3M293.9 282.8l-.7 .6M314.6 116.7l-.8 1.7M306.5 249.2l.4 1.7M133.7 195.8l-.4 1.4M146.3 142.4l.1 1.4M282.3 210.4l1.7 1.4M81.5 114.6l-.3 .9M260 258.6l-1 .8M152.1 142.9l-.8 1.6M117.2 276.5l-1.7 .6M280.7 149.5l.8 .3M192.5 222.8l.5 1.3M201.3 165.7l.6 1.8M319.5 270.2l2.1 .1M286.8 204.1l-.2 1.4M242 212.2l-.5 2M213.7 179.6l1 .5M128.5 133.8l.3 1.1M289.5 116.3l-1.5 .2M168.4 142.2l-1.8 1.2M152.3 167.3l1 1.1M102.8 261.1l.1 1M159.3 140.3l-.3 1.3M188.7 113.7l.4 1.2M139.8 104.6l1.7 .7M112.9 102.8l.2 1.7M285.9 112l-1.2 1M257.4 185.9l-2.1 .6M261.6 188.2l-1 1.6M221.4 230.9l-.9 1.8M109.5 276.7l-.9 .3M163.3 223.2l.7 1.7M293.1 271.7l.7 .6M247.7 92.8l-.9 .3M257.1 230.6l.2 .8M228.4 217.5l1.2 1M200 125.7l.2 2.1M140.3 247.5l.1 .8M216.8 285.1l1.2 .7M163 123l-1.4 .3M241.2 249.7l-.8 .8M103.3 192.5l.7 1.8M305.6 216.8l-.5 1.4M122.9 254.3l.6 2M326.7 94.6l-.1 1M122.1 263.5l2 .1M96.3 127.6l.8 .8M211.9 149.7l-1.3 .3M254 236.5l.5 .7M204.1 210.9l1.9 .3M127.5 259.7l-.7 .9M214.5 162.7l.1 1M282.5 254.8l.8 .8M128.3 97.2l-1.2 1.3M215.3 222.6l1 1.6M296.9 173.1l1 .2M339.1 102.1l1 1.5M211.8 279l2 .5M302.8 108.1l-.2 .9M106 129.4l.2 1.5M224.2 174.7l.7 .4M335.9 99.4l1.2 .9M238.3 147.3l-1.7 .9M337 186.8l.8 2.1M178.5 202.9l-.8 .8M130.4 153.4l1 1.8M141.4 155.2l.1 1M79.4 104.1l1.7 0M308.2 150.3l-1.8 .1M279.8 214.4l-1.8 1.4M285.3 153.6l1.2 .7M232.7 177.7l-2.1 .9M235.3 276.5l-.6 1.2M90.9 102.6l.7 .7M278.6 85.5l1 .5M252.2 222.8l0 1M312.9 238.3l-1.1 1.9M322.4 150.6l1.3 .8M73.7 224.4l-.7 .9M88.6 151.4l.8 .6M126 226.3l.7 .8M279.6 223.3l-.2 .8" stroke="#24e4b4"/>
</g></g>
<g clip-path="url(#mc1)">
<rect x="354.1" y="83" width="275.8" height="207.3" fill="#000102" />
<g filter="url(#bl)" stroke-linecap="round" fill="none" stroke-width="3">
<path d="M550 265.8l-.5 2.4M515.8 206.4l3.1 1.2M563.6 278.2l-2.6 1.1M462.6 258.6l0 1.6M429.3 214l-.5 2.7M411.7 84.7l1 2.1M530 264.3l-1.7 .6M425.3 116.1l3.2 1.4M375.2 190.4l-2.1 1M561.3 82.8l-.1 1.5M575.1 133.1l2.1 2.6M545.1 258.4l2.7 1.7M444.3 119.2l2.6 1M597.9 103.9l.4 2.1M356 234.4l1.9 2.8M424.1 258.2l.9 1.4M477.3 104.9l.9 2.5M563.3 256.4l1.2 3M582.9 286.2l-.3 1.6M570.5 265.3l3.7 1M595 285.1l-1.6 .2M389.3 284.3l-2.3 2.4M456.1 82.6l1.5 .7M530.7 273.3l.7 3.2M478.2 152.5l-3.2 2.4M415.6 277l-1 1.9M535 87.3l-1 1.4M467.2 227.6l-1.6 .3M435.4 271.1l-2.7 3M521.5 104.8l.9 3M575.9 276.3l-1.4 3.6M627.9 202.4l3.4 .8M390 142.5l1.3 .6M422.6 281.3l-2.7 .6M597.2 86.4l.4 2M600.7 112.5l1.6 .6M585.6 83.3l-2 1.7M372.8 158.9l-1.4 .3M392 166.1l-.5 1.3M557.1 277.6l.4 2.2M601.6 260.6l-2.5 .7M385.7 163.6l.3 2.1M401.6 234l2.9 .7M488.2 112.1l-2.6 1.7M535.5 240.3l1.6 1M611 257.7l-3.5 .2M511.7 92.2l0 1.7M573.8 113.7l.6 1.7M539.4 141l3 1.9M354 149.5l1.3 .4M521.4 268.8l-.8 2.5M547.6 280.8l-.6 3.9M558.6 221.5l-1.7 1M469.6 132.9l.5 3.3M540.9 286.4l-2.8 2.7M376.7 209.4l1.7 1.6M615.7 137l-3.1 2M463.6 157.6l.9 1.2M623.8 93.8l3.3 1M386.3 124.9l-3.5 1.2M523.2 256.7l-1.6 1.9M490.7 119.7l1.5 1.8M569 156.9l-1.3 1.6M563.9 265.8l-1 .9M582.2 117.1l-1 1.3M560.9 154.8l2 .3M626.1 178l2.7 2.6M418.4 287.7l-2.4 2.4" stroke="#0a2090"/>
<path d="M561.5 281.3l.1 1.7M510.2 279.4l2 1.8M599.4 268.9l-.8 3.9M547.7 261.6l1.7 .9M563.5 271.2l3.8 .2M506.5 286.5l.1 2.7M628 183.4l0 3.9M561.4 108.6l-.3 2.6M498.5 222.5l1.2 1.8M385.8 101.9l1.2 3.6M505.1 193.8l-2.5 2.6M564.2 254.1l1.2 1.2M400.8 246.8l0 1.6M561.8 245.9l2.1 2.1M406.1 167.7l.8 1.4M549.2 279.1l-1 1.1M519.4 132.2l2.3 2.6M565.8 192.5l-.6 1.8M629.9 121.7l-.5 3.3M426.3 192l1.6 2.6M514.4 285.5l.2 2M588 283.9l.7 2.8M593.1 167l-.7 2.1M523.7 152.5l-.7 1.4M390.4 226.9l2.7 1.3M446 246.3l1.5 2.3M419.4 190.8l.6 3.9M395.6 143.4l2.2 1.8M457.6 223.1l.3 3.8M548.2 242.1l-2.4 2.8M564.6 285l1.4 .1M408.5 228.8l-2 3M592.7 141.6l1.5 2.7M599.9 91.1l-1.3 2.2M483.1 141.6l.8 3.8M558.2 287.2l-2.6 1.5M591.8 245l-.2 2.2M585.6 176.7l3.1 1.9M554.9 123.1l-1.3 1.2M375.8 109.1l.2 3.1M422.2 225.7l1.5 .6M422.3 164.5l-3.9 1M552.3 287.2l-2.8 1.8M542.6 276l.3 2.2M579 165.6l2 1.1M526.7 249.6l-2.1 2.6M494.2 87.7l-1.6 .3M571.3 148.7l-1.5 2M552.7 113.8l-.1 2M409.7 287.8l2.7 2.9M426.7 129.7l-2.7 .6M538.8 246.4l-1.1 2.5M563.6 269.2l-2.6 .5M594.5 95.2l-1.4 2.9M499.2 209l1.3 2.1M570.3 283.9l-2 .4M588 123.5l-2.8 .8M444.1 227.2l-3.2 2.1M559.9 270.4l-2.7 .6M364.7 281.7l-1.5 1.2M520.8 116.8l1.9 2.8M460.5 170.8l1.8 .7M501.2 248.9l1.8 .3M614.3 217l-1.2 1.5M455.7 188.7l.4 3.9M622.2 89.1l1.9 .6M438.4 168.8l-.3 3.8M357 193.2l-2 2.2M469.6 109.4l.7 2.1M378 196.7l-.8 2.5M452.4 210.9l-1 3.5M456.4 91.3l1.3 .9M369.1 96.9l-2.1 2.2M478.7 125.8l0 3.6M621.5 169.6l.1 2.5M549.7 276.1l3.7 1.7M491.3 210.9l3.6 .4M460.7 101l-3.3 .7M611.9 237.3l-3.6 .8M563.6 275.8l2.1 1.3M411.2 230.2l3 .9M576 251.3l-1 2M360.9 113l-2.8 .4M383.3 218.4l3.3 1.3M507 235.5l1.2 1.1M600.6 226.1l-.5 3.8M577.5 239.2l2 .9M469.9 87.8l-1.5 0M359.7 252.9l3.8 .2M564.2 203.2l2.8 2.2M546.5 154.7l-1.8 .3M541.8 172.6l1 2.7M384.9 156.2l-2.9 0M605.3 144.2l-2.4 2.1M582.4 147.7l-3.2 .2M369.9 289l2.5 0M369.5 228.1l3.9 1.2M585.3 276.4l-1.5 3.3M581.3 99l-2.1 1.8M540.9 256.9l2.7 1.7M622.4 275.7l-1.3 3.4M390.7 232.5l.8 2.9M364.1 227.8l.8 2.6M427.3 287.8l-.9 1.1M356.3 269.3l-.9 1.8M537.7 282.7l-3.6 .9M380.2 119.1l-.8 3.4M365.7 213.9l1.6 1.2M516.8 144.1l2.7 1.2M406.9 98.9l.4 2.2M477.1 83.5l1.3 1.5M495.6 167.8l-.8 1.5M564.2 215.3l1.4 1.5M355.5 155.6l3.2 .8M408.4 274.9l2.7 1.4M497.2 135.1l2.8 .7M595.5 197.9l-1.4 2.8M441.3 270.1l-.4 1.3M555.8 264.8l.1 2.6M412.9 267.7l-3.3 .6M426.9 263l.6 1.5M444.3 198.6l-1.4 1.6M518.7 191.4l1.7 .7M540.1 271.3l-1.7 .3M395.1 119.3l-.7 3.5M364.3 205.7l-1.8 2.7M444.3 181.3l1.8 3.2M514.7 212.6l-2.7 .1M392.3 210.9l-2.7 .7M534.9 201.8l1.6 1.2M383.5 186.2l3 2.2M545.7 268.4l.7 3.7M575.8 285l-1.5 .9M523.1 283.3l2.4 1.5M372.6 103.1l-1.1 1.7M550.6 251.4l2.5 .1M439.8 221.9l2.4 1.7M551.5 273.3l-1.4 1.2M424.1 181.6l-2.4 .7M379.5 219.4l.7 2.7M489 98.1l1.5 2" stroke="#0e30d0"/>
<path d="M368.2 149.1l-1.7 .9M545.7 275.2l2 1.4M527 195.2l-.1 3.9M538.2 130.8l-.4 1.7M482.3 269.4l-3 .1M571.7 279.8l3.5 1.9M593.4 178.8l-1.1 1.8M606.1 265.2l-2.6 .2M471.7 167.9l-1.1 2M370.3 252.5l1.5 .7M497.2 98.3l2.2 2.1M474.2 218.3l2.5 .1M617.1 98.2l-3.9 .5M433.6 197.4l-3.3 .5M404.1 284.7l1.2 .7M373.7 186l-2.6 .2M604.2 278.2l-2.1 .9M382.5 94.8l-1.6 1.4M368 263.8l-2.4 1M439.1 139.8l-.9 2.8M575.9 269l-3.4 1M455 265.7l1.4 .1M616 282l-1.5 2.3M442.8 283.4l-2.4 2.5M378.4 273.7l-1.6 .2M381.9 269.9l1.9 1.2M585.7 198l-.2 2.1M428.7 89.6l-2.4 .6M590.2 114.8l2.4 3.2M482.3 113.8l-.7 2.7M542.8 263.2l-.8 1.7M490.6 280.1l-1.4 .9M510 85.2l-2.1 1.6M548.6 163l-1.6 2.9M478.7 120.5l2.2 .7M626.5 165.4l1.1 3.9M512.8 104.8l2.6 1.4M373 152.6l.1 1.9M502.6 140.7l-.4 3.7M451.6 269.4l-1.3 1.3M420.2 175.4l-2.7 2.6M545.6 288.7l.3 2.5M443.8 208.5l1.6 1.1M387.7 118l0 1.7M500.2 287.5l-1.3 3.4M376.2 267.5l-3.6 .3M507.6 226.1l.8 1.3M599 131l-1.5 1.2M591.2 110.8l2.6 1.3M549.4 221.5l-1.7 .2M568.4 269.3l1.2 .8M552 261.8l-1 3.3M580.8 234.2l2.7 2.5M512 99.2l3.2 .7M577 258.9l-1.6 3.2M375.2 283.9l-.2 2.7M487.7 104.2l-.9 1.7M562.9 89.4l1 1.2M485 184.5l-.1 3.2M392.3 183.6l-2.2 2.3M431.9 232.4l2.7 1.3M488.9 247.7l-2.1 .1M379.9 225.9l-1.9 .1M422 217.7l-3.3 .3M601.2 119.9l-.9 1.8M474 287.8l2.8 1.9M509.5 264.1l1 1.6M533.2 162.3l.7 1.8M413 192.7l1.3 2.4M614 163.1l-2.2 2.9M452.5 180.1l-.1 2.5M560.2 275l1.5 1.7M358.6 86.8l.3 1.5M573.7 173.5l-2.4 .4M528.7 91.9l-2.7 2.9M570.7 134.3l.6 3.8M368.3 277.6l-1.6 1.6M591.2 223.3l2.8 .4M609 194.6l.5 3.9M577 265l-3.1 2.3M547 176.2l-.7 3.7M517.4 177.5l2.2 .1M357 120.5l-1 1.1M422.9 275.1l-.4 2.1M452.5 274.7l1.9 .8M521.9 93.8l-1.4 1.6M417 154.4l1.7 1.8M362.8 117.4l-.2 2.1M551.4 280.2l2 .7M592 184.2l-2.9 2.4M374 246l-1.8 1.6M556.4 260.6l-.2 2M532.1 286.4l-1.7 2M369.4 190.6l-2.8 .5M538.7 178.8l-.4 2.2M554.7 273.7l1.4 .2M561.7 288.9l-1.5 .2M395.1 278.9l1.9 2.3M556.8 249.3l.2 3.9M517 84.7l.7 1.2M485 270.7l.9 1.3M368.6 142.6l3.2 1.1M536.5 259.2l2.4 .8M579.4 125.3l-.2 3M626 85.9l3.7 .9M378.9 203l-3.3 .8M378.9 138l-.4 2.7M554.6 283.8l3.5 .7M528.3 106.6l-1.3 2.8" stroke="#1480e0"/>
<path d="M559.5 265.3l-.7 2.9M593 237.5l2.6 .6M542.6 282.7l2.6 1.5M573.9 272.1l-1.5 1.8M451 193.6l2.2 1.1M453.9 134.4l-1.3 2.9M548.2 172.2l-2.1 .8M494.4 285l-.6 2.9M465.6 147.5l-2.1 1.3M551.9 267.2l2.2 2.9M591 163.7l-3.4 .8M355.9 227.2l-1.8 3M482.9 156.8l-2.8 1.5M530.3 217.3l-2 2.6M594.5 127.1l-2.6 2.3M504.3 107.4l3.1 1.5M457.4 207.5l-1.4 2.5M471.6 283.2l.5 2.9M559.3 242.4l-2.9 .2M403.9 194l3.4 1.2M357.8 281.8l1.5 1.4M606.3 130l-.2 1.9M418.9 205.6l-2.5 1.7M607.7 166.7l.8 2.9M574.1 179.2l2.9 .6M429.3 201.5l-2.1 1.2M576.5 109.2l-2.2 .5M603.8 94.4l2.1 2.5M448.2 169.5l1.9 2.5M491.5 150.1l-2.8 0M530.3 97.7l-2.9 2.5M455.3 244.7l-1.1 1.1M444.9 110.9l2.9 .7M443.9 257.6l3 2M453.1 99.9l1.4 2.4M438.2 107.5l-3.2 1.7M573.8 168l2.5 .2M403 223.6l2.9 .7M577.6 190.6l-3.3 1.3M551.6 283.4l-1 2.1M555.3 275.3l-1.4 3.3M623.6 146.6l.9 1.3M534 145.8l1 1.1M591.4 279.3l-1 1M354.2 287.4l1.8 .3M566 231l.7 2.3M513.1 229.6l2.7 2.5M559.8 259.9l1.4 3.1M570.1 255l1.6 2.2M533 196l.1 1.9M509.2 216.7l2.2 2.6M490.3 128.9l-2.1 2.2M499.3 244.4l-3.5 .9M579.7 276.1l0 3.6M551.5 259.2l2.1 1.8M603 151.1l0 1.9M596.1 162.2l-1.1 2M363.5 106.3l1.1 2.1M521.2 166.1l-1.5 3.2M493.3 144.5l-.8 2M541.1 108.2l3 .3M386.6 89.8l-1.2 1.7M568.8 262l-.3 2.3M496.3 256.7l-.6 1.5M363.8 241.1l-2.1 1.1M586.4 254.6l1.6 .1M514.1 168.2l2.7 0M398 166.8l-.7 1.8M442.3 239.5l-.7 3.2M547.9 252l-1.4 1.9M368.8 198.6l-2.4 1.5M431.6 240.3l-.3 1.7M459.8 215.2l-1.2 1.6M546.3 255.2l3.5 1.4M389 249.6l1.3 2M530.1 243.9l2.6 1.5M460.7 232.8l-.2 3.1M487.7 194.8l-.4 1.8M532.1 269.8l3.3 1.1M565.3 278.7l1.5 2.6M505.9 173.7l1.1 3.9" stroke="#18b0c8"/>
<path d="M361.2 273.5l-1.9 3.5M479.9 134.8l.8 1.4M388.7 136.1l-1.9 2.8M434.6 255.8l1.1 1.6M358.3 168l.4 3.4M525.1 241.5l-1.3 2.3M540.6 211.6l2.1 .2M505.5 214.7l-2.4 .3M533.4 115.7l-3.1 1.6M410.4 185.7l-.4 1.6M429.8 277.3l-3.2 .2M589.8 157.8l1.6 .5M363.8 178.4l-2.1 1.4M442.3 123.4l.4 3.1M400.3 198.2l3.4 0M478.2 139.7l.7 2M369.4 122.8l1.4 2.2M551.1 148.9l3 1.9M529 181.4l-1.8 1M559.4 189.4l-3.4 .3M386.4 195.1l2.1 2.3M554.8 99l-1.2 2.6M504.5 130.6l1.9 1M478.2 89.5l3.3 .7M591.7 257.8l.6 3.1M409.5 210.1l0 1.8M404.9 214.1l1.4 0M386 248.4l-3.7 .7M618.8 129.5l1.7 .6M422.4 204.8l1.8 3.5M452.1 105l-2.5 1.1M576.6 90.5l-1.2 .6M410 180.4l-.9 1.2M502.4 86.9l-1.3 .4M501.1 203.4l0 2.7M614.6 146.4l.1 2.3M508.5 243.2l1.2 1.6M427.8 174.1l.3 3.2M585.8 156.3l-1.9 2.6M457.6 183.5l2.3 3.2M512.5 124.6l1.5 1M422.3 242.8l2.7 1.8M379.4 240.1l2.3 1.3M394.6 216.8l.2 1.5M570.5 273.2l-1.4 .6M391.2 93.4l3.1 1.9M417.1 249.3l2.1 1.8M395.1 288.7l3.7 .3M605.5 239.1l-.1 2M398 269.9l1.8 1.2M555.9 161.4l-.9 2.7M517.8 182.6l.8 2M535.7 106.5l-1.6 2.4M629.7 260.8l-2 1.1M486.8 259.4l-1.8 .6M406.7 249l-2.8 1.8M467.7 195.9l-2.4 2M616.4 255.6l-.9 1.9M481.4 235.2l-2.6 .5M555.5 88.5l-1.1 1.7M602.5 290l-1.4 .6M432.8 221l-3.1 .3M441.5 97.5l1.6 .5M542.2 89.9l-.7 2M442.9 147.9l.9 1.3M584.6 211.7l1.5 2.8M495.2 139.2l2.1 2.2M524.8 220l-2.7 .5M451.8 161.7l1.3 1.5M415.3 185.5l1.7 .6M468.7 265l-2.8 .3M604.1 253.7l-.8 3.3M518.8 223l-3.3 1.5M622.4 159.4l2.8 .9M542 145.9l-1.4 2.8M386.8 212.2l-.9 3.2M448 187l3.1 .7M383.9 203l1.6 1.7M516.1 119.1l-1.9 .4M438.3 247.8l1.3 2.4M459.6 151.8l-2.3 1.3M597 218.4l-1.5 .8M481.2 176.1l1.2 3.4M415 239.9l-2.5 2.6M608 121.1l1.7 .1M498.7 104.8l2.8 1.3M619.8 266.3l-1.5 1.9M509.8 143l-2.2 3.1M587.4 273l-.5 1.4M451 289.2l1.7 1.3M600.9 247.1l-.8 1.4" stroke="#1ed090"/>
</g></g>
<g clip-path="url(#mc2)">
<rect x="635.3" y="83.7" width="276" height="206.2" fill="#010612" />
<g filter="url(#bl)" stroke-linecap="round" fill="none" stroke-width="3">
<path d="M661.9 219.2l-2.4 .8M714.1 275.4l-1.3 3.1M727.6 126.2l2.8 .9M667.1 196.3l2.5 1.5M640.9 179.3l-2.7 1.1M868.8 272l.6 2.9M687.8 100.9l-2.3 2.2M643.6 230.3l.9 1.9M648.4 201.7l-2.7 1.8M877.7 246.7l-1.3 3.3M862.3 223l3.5 1.1M738.1 235.9l1.6 2.3M714.8 206.1l-1.9 1.4M838.2 205.5l1.7 2.6M834.2 170.4l0 2M694.3 98.9l-1.1 1.3M718 155.7l-1.7 2M655 169.3l1.6 2.1M663.7 205.8l-.3 2.8M668.4 192l-.2 2.3M635.4 199.4l1.3 .2M768.1 140.3l.6 1.4M665.3 186.3l-2.2 .7M764 242.2l2 .4M777.2 232.8l1.1 3.6M781.8 167.9l-2.1 3.4M640.7 189.1l-2.2 1.8M760.2 210.9l-.6 3.9M637.8 194l-.1 3.8M912.3 236.4l-3.1 1.9M657.3 211.1l.8 1.7M648.9 217.2l-2.4 2.6M868.1 132.3l-2.3 .8M650.2 129.4l-1.8 3.1M658.3 214.7l-1.3 2.2M800.6 205.1l1.1 1.5M645.1 184.9l.2 3.6" stroke="#0a2090"/>
<path d="M827.5 208.8l3 .9M664.4 163.5l-1.5 .7M667.2 185.7l1.5 1.5M659.9 166l-2 .8M877.5 96.6l3 .4M638.3 218.6l-1.1 1.2M784 254.3l3.4 1.8M639.2 167l3.4 .6M638.2 183.2l2 1.9M655 195l2 .4M738.4 259l2.5 1.7M648.3 183.7l.9 1.8M820.4 224.7l2.5 2.8M748.9 238.6l.5 1.7M757.1 265.6l-2.8 2.1M754.1 219.5l1.5 2.8M746.7 254.8l3.3 2.2M767.5 262.3l-.7 1.9M734.4 231.8l-2.5 .3M878.5 201l1.3 2.1M640.8 154.6l-2.4 2.9M773.1 207.6l.8 1.6M776.8 180.6l-2.7 2.4M748.2 246.4l.6 1.8M797.8 239l3.6 .3M850.7 220.8l-1.5 3.1M746.3 218.5l2.5 1.5M650.1 194.1l1.2 1.4M717.6 133l-1.7 .3M694.3 104.4l1.1 1.1M814.2 87.7l2.1 .6M646.3 180.3l-1 1.8M750.7 231.2l1.8 3.1M709.7 133.6l1.8 2.4M669.5 203.6l.1 2.8M662.1 195.7l1.2 1.4M649.4 189.6l-3.1 .8M748.1 268.6l3.4 1.3M655.3 158.3l.8 3M806.4 122.5l.4 2.7M752.1 261.3l-2 .9M665.8 216.3l-3 .3M654.8 206.3l-1.2 1.6M644.9 158.7l1.3 3.7M655.2 227l1.3 .8M740.2 109.6l-2.1 1.2M819.7 176.3l2.5 1.4M641 197.3l-1.6 2.8M831 192.2l-1.7 .1M642.9 176.6l-1.9 .3M724 194.6l-.2 2M796.7 232.4l1.3 2.1M834.6 158l-.6 2.8M636.9 222.3l1.8 1.6M694.1 146.1l-1.9 1M653.4 185.5l2.7 .1M648.5 180.4l2.7 .6M865.8 260.4l-2.5 3.1M689.1 112.2l1.5 1.4M753.4 247.4l1.3 2.9M746.8 146.1l-1.9 1.3M640.3 208.3l-1.3 3.8M668.5 168l.9 1.6M721.4 124.9l-1.9 1.4M648.3 175.6l-2.8 2.1" stroke="#0e30d0"/>
<path d="M664.2 178.8l1.4 .9M640.6 201.2l.3 2.6M654 210.7l-.9 2.5M906.5 270.6l-.1 1.8M674.1 165.8l-.1 1.6M672 190.9l2.9 2.3M646.2 168l-1.1 1.4M635.8 185.1l1.4 3.6M678.4 187.8l-.7 2.1M840.6 180.1l.5 1.8M812.6 142.8l4 .2M742.9 257.1l.7 2.2M644.6 197.1l.8 1.9M693.9 135.6l1.3 1.6M756.3 254.9l-2.8 .6M781.9 178.9l1.4 3M646.2 209l-1.7 1.2M758.3 257.8l.9 2.3M843.4 273.5l1.8 1.9M663.4 174.5l-2.9 .8M642.8 204.8l1.5 2.7M645.9 171.2l.2 3.3M809.1 110l-3.3 1.2M716.2 243.5l-1.4 3M685.1 96.6l2 2.3M636.8 168.7l-1.5 1M759.8 276.4l1.3 1.5M645.1 163.2l-.3 2.2M755.7 160.5l2.5 .6M667.5 149.7l3.2 1.1M645.8 193.7l1.8 .5M661.2 179.5l-3 .4M673.6 138.6l-.2 2M801.4 286l2.2 2.4M646.3 221.4l2.1 2.2M710.8 149.4l2.6 .4M793.4 87.6l-1.8 .1M658.8 199.1l1.5 .1M760.4 263.2l1.8 1.4M751.9 184.9l-.7 2.2M636.2 190.8l-.4 3.2M753.2 179.8l1.5 .2M643 193.2l-3 2M692 101.1l-2.6 2.7M650.5 149.7l1.5 2M635.4 116.8l1.9 3.5M787.9 211.2l-.2 3.5M746.9 270.9l-.1 1.4M753.6 257.8l-2.1 .8M655 90.4l-1.3 2.4M695.4 126.2l2.2 1.1M678.3 163.1l3.2 2.4M711.4 192.2l2.1 2.3M662.1 90.6l-3.4 .3M795.5 153.8l.5 1.3M655.1 176.6l2.6 1.4M849.8 131.9l-.5 1.8M738.9 265.7l-1.2 .8M787.9 100.4l-2.1 2M882.7 240.3l-2 2.1M708.2 144.1l-2.3 1.3M670.2 200.3l1.3 1.2M802.3 244.9l1.6 1.6M857.9 161.9l-2.9 2.4M659.2 170.9l.3 1.9" stroke="#1480e0"/>
<path d="M644.8 190.3l-1.3 1.5M745.3 265.7l1.9 1.4M807.6 191.6l-2 2.5M904.4 278.9l.1 3.7M652.9 188.6l-.1 1.4M780.9 215.1l2.4 2.4M635.1 178.7l.5 3.9M788.6 248.1l3.1 2.5M870.5 190.1l-.3 1.9M769.6 166.7l-.5 1.6M649.6 210.3l-.1 2.2M654.8 180.4l.1 2.6M653.9 221.1l-1 1M791.5 165.9l1.6 3.3M854.8 140.8l-1.9 2M674.2 86.5l-2.4 1M647.8 198.6l3.4 .9M723.7 257.4l-3.4 1.6M668.8 211.5l-.9 2.2M669.2 131.9l-1.6 1.1M638.9 104.2l.5 1.8M769.6 213.3l-1.1 3.7M777.5 288.6l-2.7 2.1M753.1 270.7l-1.2 3.6M652.1 167.3l-3.1 .2M782.1 115l-1.8 2.2M644.2 217.4l-3.4 1.8M731.8 264.3l1.4 .1M855.3 148.2l-.4 3.4M682.4 119.1l-3 .2M661.9 202.1l-1.6 1.2M869.9 209.6l1.5 3.4M861 199.8l-.8 1.4M642.4 86.3l1 1.6M656.8 203.6l.8 1.5M661 150.4l1.7 .4M644.6 150l-2.8 .7M783.4 271l2 1M867.2 158.2l-.6 2.6M665.4 169.7l-2 1.2M753.3 265.4l-2.9 1.4M661.4 104.9l3.9 .7M688.9 84.2l.5 1.3M798 224.7l.4 2.1M648.6 115.8l-1.1 2.7M869.1 125.3l3.2 .3M652.9 214.9l-1.2 3M672.5 210.1l.5 2.5M799.4 85l1.6 .6M759.8 236.1l2.3 1.5M662.6 113.9l2.1 1.3M818.9 183.5l3.2 .1M853.8 182.8l-2.3 1.2" stroke="#18b0c8"/>
<path d="M866.7 234l-1.7 .9M701.5 101.3l2.2 .9M730.4 220.3l1.5 1.9M769.4 247.4l.7 1.6M817.5 131.8l3.7 .3M798.2 140l2.1 3.2M655.7 198.9l-1.4 .7M789.1 190.6l2 .9M639.4 138.9l4 .4M840.2 267.8l-1 1.2M781.5 196.5l.3 1.6M774.6 201.9l-2 .5M652.2 109.4l.9 1.1M834.3 120.2l2.2 .4M724.1 274.8l-.9 1.4M668.5 177.4l1.2 2M662.5 95.7l1.2 2.3M735.9 248.4l1.3 1.8M827.3 116.3l-.2 1.5M849.6 175.8l.7 2.1M737.3 155.1l-2.1 2M763.8 200.5l-.8 3M870 198.6l.5 1.6M636.8 215.3l3.6 .1M823.7 144.7l.9 2.4M765.4 147.8l-2.9 .8M649 103.3l2.1 1M785 240l-2.4 .3M836.8 192.3l.5 2M842.6 232.6l-2.8 1.6M659 190.4l-.3 2.3M643.9 121.6l-.4 1.9M806.9 264.6l3.1 2.1M717.3 218.7l-1.6 0M672.7 120.9l3.6 .6M663.5 182.9l-2.8 .3M739.1 220l.8 2.2M650.4 206l.1 2.1M745.1 261.3l2.8 .4M873.6 139.9l-2.6 1.6M749.5 165.8l0 1.7M767.1 188.5l-2.7 2.4M682.2 96.9l.6 3.5M722.8 226.6l-2.3 2.3M794 183.3l.6 4M749.8 286.3l-2.6 1.7M851.6 112.7l2.9 .7M639.8 171.1l-.3 3.4M805.1 176.8l-1.4 .1M723.1 216.2l-1.6 1.9M802.6 165.3l.4 2.3M652.2 171.9l.7 2.4M636.4 204.5l1.6 1.9M650.3 175.7l2.5 2.1M745.3 279.1l-1.1 2.3M683.7 90.1l1.6 .1M636.4 172.6l-.9 2.9M665.2 190.1l-1.2 .7M793.4 199.6l1.8 2.3M856 269.8l2.1 2.6M834.3 138.8l3.2 .3M850.2 260.5l2.1 2.5M691.3 95l-2.5 .5M733.9 95.1l3.8 1.3M652.5 202l1.5 2.3M782.4 93.3l-2.4 1M763.9 227.7l-.8 2M840.1 197.6l1.2 1.6M768.7 223.1l-1.4 .7M756.2 270l3.6 1.8M666.2 200.7l-2.3 .7M710.6 180.6l3.7 .1M638.2 162.5l2.7 .5M798.1 96.7l-2.1 1.1M654.1 118.1l.1 3.4M637.2 127.6l-3 1.2M676.3 196.3l-3.2 2M774.7 110.6l1 2.6M780.4 224.5l2.1 1.6M883.3 209.6l.5 2.5M724.1 83.6l-1.7 .7M825.8 156l-2.1 0M860 111.7l.7 1.2M715.3 118.4l.7 1.2M701.3 95.1l1.7 1M736 191.6l1.5 1.5M658.3 207.2l.6 1.9M673.9 203.7l-.5 1.7M863.1 102.4l-2.5 .7M645.6 94.5l-3.5 1.7M753.4 152.1l2.5 1.3M789.1 140.8l-1.3 1.3M811.8 131.7l-.2 1.5M799.5 187.9l-1.5 3.8M787 229.8l-1.9 3.2M673.1 169.6l2.6 1.7M745.3 126.3l-2.7 1.8M864.9 141.9l-.3 2.1M795.6 213.2l-.7 1.3M907 253.2l.5 2.5M660.7 186.7l-1.7 .8M819.2 123.9l-2.1 3.2M817.9 152.9l1.3 1.4M645.9 213.6l-1 2.9M744.2 186.9l-2.2 .7M706.2 161.8l-1.4 .2" stroke="#1ed090"/>
</g></g>
<g clip-path="url(#mc3)">
<rect x="917.5" y="83.7" width="275.6" height="206.2" fill="#030c06" />
<g filter="url(#bl)" stroke-linecap="round" fill="none" stroke-width="3.2">
<path d="M1132.2 153.7l1.9 1.6M949.1 266.9l-1.7 1.6M1158.5 203l-3.2 .1M951.6 166.4l-1.7 .1M1129.7 145.5l-.1 2.2M1151.4 243.9l1.2 3.3M1106.6 85.1l0 1.7M1057.6 264.8l1.5 3.1M936.3 198.2l-2.1 1.6M945.3 199.5l-3.2 .6M1143.6 254.3l-1.4 1.4M1093.5 245.6l-.2 1.4M964.5 128.7l-1.4 .6M984.2 127.8l1 2.3M1044.4 137.5l-.7 3.1M1084.1 221.4l1.2 3M1131.1 194l-1.8 2.2M952.6 143.8l.7 3M1169.3 270.5l-1.7 .2M947.8 221.7l-.4 2.6M1090.3 214.1l.5 1.4M1042.9 129.1l-2.8 1.7M934.5 147.4l-2.1 1.4M1159.9 102.2l.3 1.7M943.8 101.6l-2.4 1.5M1179.9 143l-2.5 1M1088.4 221.2l1.2 1.2M1049.5 162.3l-1.4 1.8M1106.5 226.7l.8 2.7M1098.2 145.8l.4 2.7M1010.5 197.2l-.2 1.5M942.4 189.8l3.3 .9M1051.8 271.5l-1.6 .2M945.7 110.7l.7 2.4M933.9 174.7l-1.9 1.1M1107.7 232.8l-2.5 .3M1137.2 261.3l.9 1.3M1126.1 264.2l.5 1.5M1070.9 99.5l-2.2 .7M1089.1 251.3l1.9 .6M1077.6 254.1l.6 3.5M960.6 103l1.5 1.3M1088.3 90.1l-1 3.4" stroke="#0a2090"/>
<path d="M1088.3 256.4l.9 2.1M971.6 249.6l3.1 1.1M1114.1 203.3l3.4 .1M1096.8 114.8l.9 1.3M1090.7 234.7l-3.2 1.1M920.6 190.6l-.4 2.1M929.4 166.1l-.4 3.5M1054.9 241.9l-.9 1.2M938.3 183.4l1 1.1M961.1 148.4l1.5 .6M933.6 184.3l.4 1.6M1098.8 247.8l-1.1 .9M1061.8 158.6l-.2 2.2M1027 287.1l-.1 3M965.7 171.8l-2 1.2M1104.7 196.1l.1 1.4M945.6 278.9l-.5 2.4M1139.9 136.8l2.9 .7M1070 224.2l-3.1 1.5M1105.6 256.1l.9 1.4M919 179.6l1.4 2.8M1099.5 233.4l1.1 1.1M1168.3 98.4l-.6 3.3M1094.3 94.6l1.5 1.3M1092.4 229.3l-.3 1.4M936.2 206l2 .5M1148.6 156l.6 3.1M928.4 206.2l-2.1 1.2M976.6 104.9l2.3 .3M1109.1 141.8l-1.1 1.3M924 200l-3 1.4M1083.2 266.5l-3.1 1.4M1076.3 231l3.2 1.1M1071.5 262.2l.5 2.5M1131.7 128.8l2.6 .9M986.1 177.6l1.4 2.4M1168.5 90.3l-1.4 2.3M1069.1 186.2l2.6 1.3M972.6 274l2.3 1.4M938.3 188.8l2.3 2.2M1190.3 159.7l-.8 1.6M924.9 186.7l1.8 .9M945.6 183.8l-2.7 1.2M1118 106.9l2.9 1.8M1104.1 247.8l1.3 .2M1104 237.3l-2 1.5M1155.4 169.9l3 1.5M1138 203.1l-1 1.2M1089.4 241l3.5 0M1162.1 190.6l1.3 2.3M940 116.2l-2.2 .8M1108.8 222l.9 1.5M1159.1 245.8l1.1 .6M1071.7 109.3l2.1 1.5M928.2 192.6l1.6 2M1095.5 217.4l.9 1.4M930.4 180.4l-2 .8M1122.1 257.3l1.3 2.4M1135 136.1l-.9 1.5M934.5 193l1.3 2.2M1164.7 122.5l.9 1.9M958.5 126.1l-2.9 1.2M1181.4 249l-2 2.4M1140.4 275.1l-.2 1.2M1183.5 210.9l-.8 3.2M1063.3 244.3l-.7 2.5" stroke="#0e30d0"/>
<path d="M1079.6 219.6l-1.7 .6M1084.2 233.2l2.1 .8M1120.7 199.6l1.3 .3M1049.8 130.5l1 2.3M1074 246.7l3.2 .9M1090.3 246.9l-1.1 .8M1067.5 254.2l-.9 2.7M1140.8 150.7l-1.5 2.2M1063 123.3l-.9 1.2M1080.2 226.4l-1.2 2.1M1072.2 232.7l1.8 .9M1098.1 260.2l1 1.9M1135.7 123.4l1.9 0M1073.9 160.6l-1.6 .4M1136 143.8l1.6 1M1145.9 277.3l.2 1.3M1127.6 159.5l2.8 2.3M996.8 117.3l1.8 3M1167.4 207.3l.7 1.4M932.8 274.6l-1.3 2.5M1070.4 244.8l-1.4 2.1M1116 113.2l-.9 2.6M919.8 168.7l2.3 .8M924 178.4l.1 3.4M1101.7 226l-3.1 .6M1042.8 168.4l-1.9 1.7M1040.3 234.8l-2 2.7M1082.2 242.2l2 1.2M1092.5 222l2.4 2.1M964.5 247.1l-1.2 .6M923.2 208.1l2.4 2.2M1175 167.4l-.4 2.2M1081.5 251.3l2 .7M923.6 182.8l-.4 2M1075 215.1l1.4 .6M946.6 172.9l-1.6 1.3M1084.3 246.4l1 .9M1164 179.4l1.6 .3M1116.8 149l.9 2.7M935.4 172.1l1.8 2.7M925 283l1.3 .7M1110.7 132.1l-1.1 1M1091.2 123.6l-.6 2.2M1046 263.9l-.9 1.6M1015.9 89.4l-1.2 1.9M945.6 138.2l1.1 2M1095.1 250.3l1.5 2.4M979.2 131.4l-.5 3.4" stroke="#1480e0"/>
<path d="M1120 228.7l3.5 .1M1058.7 178.7l-1.5 2.3M1189.7 179l-1.1 1.1M1147.1 86l-1.2 1.9M1171.9 240.2l-.4 2M1129.4 114.4l-2.3 .1M1085 238.3l2.4 1.3M1015.8 269l.7 1M1178.7 218.5l-1.7 .2M927.3 175.4l-3.1 .8M1057.4 250.8l2.4 1.3M1094.7 235.2l1.1 3.1M967.2 152.8l-1.8 2M970.5 203.9l3.2 .1M1125.6 270.2l.6 2.1M925.3 197.2l2.1 1.9M1061.4 191.7l2.5 .9M1102.7 126.6l2.3 1.7M1084.4 218.6l2.4 1.1M1087.4 242.8l1.8 1.7M996.7 246.6l-1.4 2.3M1187.3 100.9l2.4 1.6M932.4 188.5l1.1 1.1M1007.9 172.4l-1.6 .2M1114.5 276.2l-1.1 .8M934.5 130.7l-3.1 .6M1190.7 282.2l.6 1.8M924.2 133l-1.4 1.1M1103.7 133.5l-2.5 .9M918.1 185.7l-.9 .8M1147.3 288.9l-1.7 1M1127.5 240l-.5 3.3" stroke="#18b0c8"/>
<path d="M1083.7 135.1l-2.9 .3M1072.9 129.9l-1.2 1.4M1062.9 113l1.8 .1M929.3 185.4l.6 2.2M1080 237.1l1.2 1.7M1069.3 278.7l1.7 .3M1107.2 215.2l-.6 1.9M918.9 163.9l-2.8 .3M1166 282.8l0 1.6M1064.1 173.7l-1.4 .7M1167.7 248.9l.2 2.2M979.9 119.8l-.4 3.5M1061.5 215l-1.1 .8M998.4 128.7l-.9 1.2M1068.2 90.5l-.7 3.2M1068.1 221.4l3.2 0M1101.6 286.5l0 2M1192.8 85.3l-2.4 .3M1140.7 167.1l-.1 1.9M932.7 197.7l-2.4 2M1128.1 137.4l-1.5 1.5M1168.9 151.1l-1.1 1M971.9 140l.5 1.2M1050.1 110.1l.9 1.9M1180.1 180.5l-.9 1M921.4 84l-1.7 .6M1177.5 226.3l1.5 1.2M1171.5 135l-1.1 1.1M1099.9 105l-1.3 .9M924.4 192.4l.4 1.5M1038.7 188.7l-2.7 2.4M972.1 150.2l.2 2.1M1135.2 278.4l-.8 2.2M1141.4 158.3l1 2.3M937.8 196.3l1.4 1.3M1077.3 115.6l1.8 1.2M924 159.3l2.5 1.8M1004 197.1l-.9 2.7M1074.7 87.7l-2.2 2.4M1129.2 104.2l2.8 0M1004.7 142.3l-3.4 .3M1062.1 147.4l0 1.6M1088.3 110.2l.2 2.9M1006.8 83.4l-.5 1.2M1128.7 286.3l1 1.1M970.2 222l1.4 1M1094.8 240.6l1.9 1.7M932.8 247.5l1.4 .3M1109.9 165.9l-2.6 2M1023.7 208.3l1.2 1M1083.4 276.2l2.5 1.9M1050 219.3l-.6 1.7M1084.8 185.9l-1.4 .5M1060.6 233.6l1.6 1.8M996.5 283.5l1.8 1.8M1171.9 181.4l-2.2 2.6M971.3 95.3l2.5 .3M952.1 202.3l-1.1 1.4M1088 228.4l-2 2.1M956.5 221.5l2.6 .6M1161.2 140.5l2.7 1.6M941 164l-2.6 .1M1076.2 236.1l-1.4 1.4M1013.5 206.3l-2.4 2.6M1179.8 132.7l-.9 2.4M1153.9 86.3l-1.1 .6M954.8 176.3l1.6 .9M1090 131.5l-.9 1.3M1040.2 287.5l2 2.8M1026.5 261.8l-2.4 .9M996.9 103.9l.6 3.1M1153.1 114.1l.8 2.3M1086.5 139.5l-.9 2.5M1084.3 285.2l-1.9 1.5M949.9 208.7l-.4 2.9M1155.6 227l.4 3.1" stroke="#1ed090"/>
</g></g>
<g clip-path="url(#mc4)">
<rect x="1199.9" y="83.3" width="275" height="206.2" fill="#08251a" />
<g filter="url(#bl)" stroke-linecap="round" fill="none" stroke-width="3.4">
<path d="M1382 218.4l1 .1M1457.8 101l.5 1M1244.5 239.9l-.7 .6M1411.8 265.2l-.8 1.4M1433 95.5l-1 .5M1445.5 158.6l-.6 .5M1264.3 96.7l.5 .5M1271.7 281.8l1.1 .2M1212.7 85.9l.2 1.7M1280 269.8l1.1 1.1M1267.1 155.7l-1.3 .4M1419.9 130l.1 1.3M1279.5 184.1l1.5 .7M1328.9 230.7l-.2 .6M1223.4 173.3l.6 .4M1454.5 127.3l-.1 1.6M1270.1 102.3l1 .6M1322.4 83.9l-1.5 .1M1304.4 258.5l.8 .3M1351.8 122l1.1 .7M1298.5 161.5l.4 .7M1312.1 197.2l.9 1.1M1293.5 153.7l.4 .7M1305.6 236.3l-.8 .2M1294.4 228l.9 .2M1205.5 208.6l1.4 .4M1421.5 94.3l1.4 .1M1312.9 270.9l-1.4 .8M1391.4 148.4l-.9 .9M1352.3 145.1l-1.2 1.3M1252.3 127l.4 .7M1229.6 179.5l.9 .8M1316.3 229.8l.9 .8M1304.6 173.4l0 .8M1387.9 133.3l1.1 .6M1300.4 121.9l1.5 .6M1429.2 114l-.9 1.1M1448 229.2l-.9 .7M1314 116.6l.9 1.2M1272.4 227.2l-1.3 .3M1252.8 268.2l1 1.1M1262.4 229.8l.2 1.3M1251.8 249.6l-.2 1.1M1470.8 280.8l1.3 .6M1211.8 121.1l.2 1.1M1213.1 251l-1.5 .4M1410 180.2l-1 .3M1296.6 214.5l.1 1.1M1307.1 276.5l-.8 .4M1253.4 178.7l-.7 1.6M1358.7 201.7l.8 1.3M1401.7 230.2l1.2 .2M1226 93.7l-.4 .6M1399.3 245.9l-.9 0M1414.6 153.4l.6 .3M1362.4 220.2l1.2 0M1355.9 217l.6 .2M1237.6 198.2l-.2 .9M1297.5 181.4l-.7 .4M1211.9 107.2l1.2 .5M1444.5 177.6l-1.2 1M1229.8 199.1l.7 .2M1409 273.7l1.5 .6M1201.1 278.9l.4 1.7M1431.7 136.4l.1 1.4M1441.2 214l-1.5 .2M1210.1 275.4l.6 .5M1340.1 99.5l1 .9M1303.5 196.7l1.4 .2M1404.3 238.7l-.1 1.3M1382.7 193.4l.5 1.5M1200.1 145.6l.8 .8M1230.2 168.6l-.5 .6M1438.9 102.2l-.2 .6M1459.2 242l1 .8M1317.7 145.9l.2 1.3M1429.6 264.8l1.7 .3M1336.2 264.2l.7 .2M1406.4 251.4l-.9 .5M1325.7 160.3l-.3 1.1M1223.6 278.3l1.2 .2M1419 162.4l.9 .5M1389.7 86.6l-.2 .9M1414.9 282.6l1.5 0M1318.8 138l-1.5 .7M1283.6 153l.9 .2M1321.9 175.5l.3 1.6M1344.6 165.2l1.1 .3M1227.7 233.9l.5 1.1M1338.9 171.7l1.1 .7M1445.9 123.4l.6 1M1404.2 212.2l-1.5 .1M1355 207.9l-.9 .9M1231.1 270.7l1.4 1.1M1209.6 241.6l-.1 1M1233.6 148.8l-1.7 .3M1215.9 267.3l1.1 .4M1409.1 100.2l.3 1.6M1380.5 180.4l1 .1M1220.1 101l-.9 .2M1359 186.4l0 .8" stroke="#0a25a8"/>
<path d="M1397.1 96.6l-1.4 .8M1211.6 285.8l.7 .3M1295.4 173.6l1.2 .2M1373.9 166.1l.7 .6M1320.6 95.1l-.4 .5M1286 253.8l.7 .7M1367.5 270.1l-1.2 .7M1328 127.5l.3 .5M1223.5 252.9l-.5 1M1380.2 118.9l1.2 .6M1348 157.3l.7 .7M1447.7 206.1l.3 .9M1377.3 101l-.6 .3M1376.6 111.2l-.3 1M1467.9 260.3l.6 0M1267.7 177.6l-.5 .8M1384.6 246.6l.8 .3M1432.3 221.4l.3 .7M1276.6 170.7l-1.1 .5M1435.6 123.5l-.8 .4M1325.2 263.3l.3 1.4M1362.5 145.1l.3 1.4M1449.7 257.3l-.4 .6M1386.8 288.6l.8 1.5M1390.1 185.3l1 1.4M1406.7 130.4l-1 .7M1470.9 105.5l-.6 .9M1391.3 226.5l.2 .6M1466.6 218.1l.3 .8M1271.6 218.2l-.3 .7M1440.1 241l.8 .7M1247 165.7l-.4 1M1238.7 267.5l-.5 1.3M1271.8 147.5l.8 .7M1451.8 96.6l.4 .5M1302.2 218.9l.8 .2M1410.1 207.2l-.1 1.2M1346.8 233.6l-.2 .8M1354.5 99.7l.9 1.2M1395.3 122.1l-.5 1M1430.9 83.7l1.5 .9M1301.1 138.2l.2 .8M1339.9 131.1l-.8 .2M1325.5 115.3l-1.4 .1M1427.3 277.9l.1 .8M1276.7 210.7l-.8 .2M1375.6 278.6l-1.7 0M1287.7 172.5l-1.2 .5M1258.4 221.8l1 1.2M1415.1 174l-.1 1.7M1467.9 267.9l-.7 .3M1278.7 137.6l-.6 1M1446.5 100.5l-1.7 .3M1470 126.4l-.6 1.1M1400.7 169.9l.3 1.7M1297.8 278.1l-.9 .4M1215.4 217.2l-.8 .1M1429.2 180.1l-1.3 .5M1304.9 226.7l1.5 .8M1447.9 87.9l.7 .4M1463.1 211.7l-1.4 .2M1290 190.6l-.7 1.6M1285.2 216.3l.2 1.3M1366.2 175.3l.9 1.1M1221.3 134.9l-.4 1.2M1253.6 109.7l-1.1 .2M1460.5 167.3l1.7 0M1232.7 96l.3 1.5M1472.6 202.9l.1 1.1M1392.9 261.1l-.6 1M1287.4 202.3l.5 .5M1395.9 113.6l.5 1.4M1398.2 180.1l.9 .1M1411.9 142.8l0 .8M1248.4 146l-1.1 .1M1403.2 268l.4 .7M1341.7 193.2l.6 .1M1206.5 256.7l-.9 1.5M1418.6 245.5l.7 .7M1446.6 140.8l-.6 .3M1393.6 278.9l.2 1.6M1244.5 186.4l-.8 .6M1202.3 99.2l.9 1.3M1459.9 229.6l.6 .4M1355.9 278.6l.9 .1M1425.1 172l-.7 .9M1275.9 246.8l1.3 .6M1376 231.5l.5 1.6M1230 108.2l-.9 .5M1452.1 218.5l.9 1.1M1271.8 117.7l-1 1.1M1318.3 163.4l.1 1M1439.4 260.5l-.2 .8M1450 148.6l-.1 1.1M1277.7 191.3l-1.3 .9M1214.8 190.8l-.7 .2M1219.4 83.8l.5 .3M1339.2 218.8l1.2 .7M1201.4 88l.7 .2M1467.9 182.5l.8 .9M1473.2 159.7l.5 .7M1263.3 268.2l.1 1M1344.5 84.2l0 .7M1261.6 115.1l.9 .7M1383.7 267.9l.1 .6M1211.9 196.9l-.1 1M1206 225.1l0 .9M1229.8 283.8l-1.6 .2M1389.3 117.8l-1 .2M1239.9 103.3l-.7 .6M1309.3 89.9l-.8 1.4M1335.1 278.4l-1.2 .5M1222.2 162.7l.5 1.5M1334.1 146.4l-.5 1.1M1395.1 209.4l-.7 .2M1412.3 219.2l-.4 .6M1339.1 237l1.4 .4M1377.7 90.1l.7 .3M1309.3 124.3l.9 1M1394.7 190.6l1.3 1.1M1457.8 119.6l1.7 .2M1346.1 266.7l1.1 1.2M1425.9 148.4l-.7 1.4M1438.3 89.6l-.8 1.1M1271.3 198.2l.8 .9M1465 249.4l.3 1.1M1409.9 162.6l-.4 .6M1203.1 111.6l.4 1.5M1416.6 181.7l.7 1M1349 106.4l1.5 .9M1360.1 169.3l.8 1.4M1434.3 157.5l.9 1.3M1353.2 182.8l-.8 .3M1457.8 190.6l-.4 1.5M1259.6 193.1l.6 1.2M1347.1 245l.3 1.7M1330 215.9l-.5 .6M1336.1 111.6l1.2 .7M1435.8 282.9l.3 1.2M1385.8 211.2l.6 .3M1202.9 178.1l.6 1.7M1203.8 161.9l-.7 1.3M1274.6 260.1l-.3 1.3M1235.2 214.8l.5 1.5M1259.2 159.2l.4 .4M1297.1 129.2l.8 .6M1300.2 251.6l.6 .4M1375.6 158.3l-.7 1.5M1418.6 109.5l.6 .4M1240.7 133.1l-1.2 .1M1364.6 206.2l.9 1.4M1239.4 256.7l.7 .2M1354 268l-.8 .7M1232.1 246.2l1.6 .7M1407.3 113.5l-1.1 .5M1224.6 207.3l-.5 1.6M1456.1 204.6l.7 .7M1366.7 162.1l-1.1 .7M1371.7 119.9l-.2 .8M1261.9 241.7l-1 .4M1343.2 252.4l.1 .8M1423.4 225.3l.5 .8M1365.6 252.9l-1.4 .2M1359.3 177.1l.5 .7M1289 234.2l1 .8M1369.3 96l-1.7 .1M1243.9 126.7l.9 0M1426.2 192.8l-1.1 .2M1314.6 101.9l-1 0M1289.4 123.6l.6 1.1M1220.9 183.6l-.5 1.4M1412.2 240.1l-1.3 .2M1310.6 165.7l-.7 .7M1474.5 217.4l-1.5 .2M1214.4 205l-.3 .6M1210.2 182.9l-1 .4M1457.4 262.1l.8 .1M1442.1 252.1l.9 0M1207.5 153l1.1 .5M1340.6 139.1l-1.3 .8M1235.2 188.5l-.3 .6M1414 189.6l.9 .5M1287.5 94.1l.2 1.8M1221.3 231l.5 .6M1363.4 127.6l.1 1.4M1363.5 196.2l-1.1 .4M1280.7 235.6l1.2 1M1448.8 243.1l-.3 .5M1425.5 210l-.3 .7M1229.2 222.5l1.5 0M1201.1 137.8l.5 .9M1433.1 191l-.2 1.3M1446.9 195.3l-.5 .7M1421.7 119.8l.7 1.5M1319.3 220l-1 1.4M1284.3 107.3l1.4 .6M1201.6 191.5l-1.4 0" stroke="#0a34e4"/>
<path d="M1245.6 100.6l1.2 0M1320.3 237.5l-.8 .9M1328.6 106.7l.5 1.1M1264.3 199.2l.5 1.3M1253.7 261.1l1 .9M1268 190.8l.2 1.3M1329.9 182.2l0 1.3M1321.4 122l.7 .4M1386.8 202.4l-1.1 .4M1360.2 106.6l.4 .6M1212.6 129.3l1.3 1M1434.7 201.8l.8 1.4" stroke="#0c6ae8"/>
<path d="M1295.8 91.5l1.5 .2M1399 220.1l-1.7 0M1326.8 194.4l-1.2 .2M1297.9 107.8l.5 1M1437.2 168.3l-1.4 1M1236.2 171.8l.7 .4M1409.9 198.7l-1.4 .4M1330.8 140l.8 .4M1462.1 147.9l1.4 .6M1464.5 175.8l-1 .6M1403.2 145.5l1.5 .9M1313.9 282l-.3 .7M1290.8 133l-.6 .4" stroke="#12a8e8"/>
<path d="M1391.2 174.6l-.1 1M1361.7 136.7l-1 .2M1392 161.8l.4 1.7M1465 195.4l-.7 0M1335 225.2l.8 .5M1265.7 88.2l-.5 .7M1298.3 288.4l-1.1 .3M1398.1 105.7l-1.3 .1M1335.1 244.4l1.2 .1M1324.6 282.8l-.7 .1M1261.5 207.6l.4 1.2M1208.4 145l1.5 .3M1387.7 108.3l-1.3 .3M1309.9 214.9l1.5 .5M1421.4 270l-1.2 1.2M1237.7 87.7l-.3 1M1270.5 273l-.9 .1" stroke="#24e4b4"/>
</g></g>
<text x="83.6" y="112.8" font-size="23.4"><tspan fill="#12aa4e">Ki67</tspan> <tspan fill="#0e78c8">Hoechst</tspan></text>
<rect x="1426" y="272.2" width="32.2" height="4" fill="#fff" />
<g fill="#fff" stroke="#fff"><line x1="526.4" y1="215.6" x2="539" y2="231" stroke-width="2.1"/><path d="M549.3 246.7L528.5 235.6L545.6 224.6Z" stroke="none"/>
<line x1="698" y1="124.6" x2="682" y2="136" stroke-width="2.1"/><path d="M669.2 147.8L677.5 128.2L691.5 143.8Z" stroke="none"/></g>
<text x="4.8" y="340.7" font-size="29" font-weight="bold">b</text>
<text x="906" y="343" font-size="30" text-anchor="middle">-TNT</text>
<line x1="83" y1="359.9" x2="1490" y2="353.2" stroke="#000" stroke-width="2.6" />
<text x="230" y="393" font-size="30" text-anchor="middle">0.001wt%</text>
<text x="500.5" y="393" font-size="30" text-anchor="middle">0.01wt%</text>
<text x="778.5" y="393" font-size="30" text-anchor="middle">0.1wt%</text>
<text x="1060" y="393" font-size="30" text-anchor="middle">0.5wt%</text>
<text x="1349.5" y="393" font-size="30" text-anchor="middle">1.0wt%</text>
<text font-size="26.7" text-anchor="middle" transform="translate(72.2 507) rotate(-90)">Poly(CEP) alone</text>
<g clip-path="url(#mc10)">
<rect x="81.1" y="405.9" width="275.7" height="207" fill="#03170f" />
<g filter="url(#bl2)" stroke-linecap="round" fill="none" stroke-width="3.1">
<path d="M161.2 457.9l1.7 .3M213.8 551.4l1.7 .4M170.3 558.7l-1.6 .9M166.1 608.8l2.3 1.1M217.2 547.1l1.7 .6M99.8 520.5l1.3 1.5M161.6 523.8l-1.1 .5M199.3 524.6l1.2 2M136.3 568.6l-1.2 2.1M211.8 546.3l1.6 1.5M89.7 466.9l2.2 .1M301 437.1l-2.4 1.2M199.1 531.1l-.3 1M355.9 427.8l-1.1 1.3M152.9 538.5l1.1 1.5M338.5 440l-1.5 1.3M129 523.2l-1.5 1.7M87.7 497.9l-1.6 .7M191.3 485.5l.4 2.5M100.6 569.2l-.7 1.2M349.3 584.2l-.9 .7M317.2 550l1.6 .8M296.7 456.9l-1.2 .6M357.1 448.9l-2.1 .9M139.1 410.1l-2.3 .4M204 436.3l-1.2 .5M326.9 559l.3 2.5M198.7 605.2l-1.7 1.5M210.6 438.5l-2 1.4M222.1 542.3l-1.7 .4M192.4 468.1l-1.8 .6M308.7 425.3l.7 1.9M128.9 503.4l.3 2.5M225.6 440.3l-1.4 1.5M351.8 413.6l-1.6 .7M310.9 576.7l.7 1M128.4 531l-1.2 1.3M127.4 585.8l-1.9 1.8M170 500.9l1.5 .6M122.4 573.9l.3 1.1M309.1 437.6l-1.7 1.6M106.6 533.8l.9 0M348 572.1l1.2 2.2M257 496.4l.8 1.1M137.8 534.3l1.6 1.2M310.9 538.2l1.3 .3M225.9 597.6l.3 1.7M182.4 415.5l1.1 2.3M350.9 536.3l1.4 2.1M136.8 490.8l1.9 .2M160.7 547.1l-.7 .7M309.2 495l.5 1.8M263.5 523.1l1.2 .1M343.2 536.6l2 1M227.5 512.9l-1 .8M92.8 582.6l.5 .8M204.1 589.3l1.1 .7M247.1 535.5l-.3 1.5M196.4 414.7l-1.1 .9M224.6 445.1l-.2 1.9M271.2 576.6l1.6 1.6M333.6 523.4l-.2 1.5M155.3 477.5l.5 1M99.2 421.2l2.2 1.3M306.5 590.5l-1.8 .4M176.5 412.1l-.5 .9M242.1 442.1l-.8 .5M149 609.7l.9 0M318.3 480.3l0 1.4M96.6 594.6l1.5 1.9M188.8 540.9l1 1.8M137 592.7l.7 1.1M299.8 431.9l-1.4 1M294.1 476.7l-1.4 1.9M309.9 479.8l.6 1.7M149.7 574.2l-.7 .6M272.7 607.4l-1.9 .5M102.4 408.6l-.1 2.6M225.3 517.6l-.6 .8M342.9 459.4l1 1.9M200.3 446.1l.4 .9M219 518.4l-1.5 1.6M306.6 459.2l1.2 .8M349.9 424.9l1.6 .5M263.7 441.9l-.4 1.5M118.4 452.3l-.9 1.7M351 494.8l-1.2 .5M118.8 556l-.2 1.5M338.9 596.6l-1.1 1.9M322.6 474.7l.3 1.1M151.9 418.7l0 2.5M337 416.9l-.2 1M283.1 492.7l-1.2 .5M299.4 406.2l-1 1M321.2 603.5l1.8 1.4M236 479.6l.8 2.4M297.2 421.8l-1.3 .5M224.7 591.7l.2 1.8M312.9 456.4l-1.3 2M86.7 575.9l-1.9 1.8M243 606.5l-1.6 .9M206.1 455.3l-1.7 1.5M274.1 528l.3 1.6M114.4 600.1l1.1 1.1M239.4 434.7l2 .5M258.5 440.3l-1.4 1.5M105 515l1.3 1.7M200.5 543.2l.3 .9M226.8 412.6l-.7 .7M273.8 497.5l-1.5 1.5M145.4 488.4l-1.9 .1M120.7 538.3l.2 .9M113.3 467.6l.8 2.1M340 570l.5 1.1M350.6 489.1l-1.2 .6M119 480.5l2.3 .9M246 544.3l2 .2M152.2 430.6l1.3 .1M127.1 564.3l-.6 .8M290.7 432.5l1.2 .4M228.6 459.5l-1.9 .9M243 465.7l-.1 1.5M91.5 553.7l1.3 2.1M280.3 422.5l.5 1.4M328.8 443.1l-1.2 .8M348.7 435.4l-1.7 .8M222.5 469l2.2 1M168.8 467.7l.2 1M188.3 406.7l-.8 1.4M299 587.9l-1.4 .9M161.1 441.2l-1.5 1.7" stroke="#0a25a8"/>
<path d="M304.9 405.3l-1 2M221.3 611.3l-1.3 1.3M279.4 565.6l2.1 .8M89 445.2l-.5 1.4M286.9 498.3l.1 1.5M149.7 518.2l0 1.8M259.8 539.6l.1 1.4M87 427l-.1 1.2M303 472.6l-.2 1M217.4 473.5l-2.1 .5M163.9 588.3l1.5 0M200.7 424.1l2.5 .9M175.9 496.2l1.1 1.6M173 551.8l-1.6 .6M208.1 594.1l-.2 1.7M188.6 426.6l.3 .9M354 532.1l-.7 .6M298.1 495.6l-2.1 .2M334.1 446.9l-1.4 1.5M141.9 434.5l.8 .5M93.1 527.4l-.5 1.7M307.4 519.7l-1.6 .5M178.6 479.7l-1.3 .6M289.1 582.2l-1.1 1M338.4 487.6l.6 1.9M281.1 455.9l-2.3 1.1M350 607.4l-2.4 .2M274.8 513.2l-.4 1.8M106 418.1l-1.6 1.7M251.6 570.3l1.7 .7M297 531.9l2.2 .5M220.5 451.4l-1.7 1.6M154.1 529.6l-.5 1.7M93.7 440.6l-1.4 .4M93.1 415.7l1.2 .2M213.9 425.5l.1 1M139.2 605.2l-2.1 .2M112.2 451l1.3 1.2M126.7 430.5l-.8 .6M94.4 480.5l1.9 1.3M241.3 585l-2.6 0M325.5 541.9l.1 1M127.2 446l-2.1 .4M352.9 519.3l1.3 .7M162.7 571l1.8 1.8M163.6 592.6l.5 2.1M156.7 490.7l-1.5 1.7M237.7 429l-1.3 1.6M151.5 438.7l-.6 .7M346.7 612l-1.2 .7M307.8 488.6l1.8 1M154.3 456.6l0 2.3M179.1 610.3l.9 1.6M138.3 426.6l2.3 .1M227.5 491.9l1.5 0M216.6 579.5l2.6 .3M221.6 559.1l-1.7 .6M115 518.7l-.9 2.1M115.9 550.3l-.3 1M155.3 501.2l-1.9 .7M334.4 501.4l.4 1.1M152.5 596.3l1.4 1.7M131 477.9l.3 2.5M273.1 486.2l1.3 .3M177.6 509.9l-.9 .3M254 611.8l.7 1.8M199.2 405.7l-1 .6M255 422.5l1.3 .8M350.6 473.5l1.8 1.9M324.2 440.9l-2 .9M250 520.5l-.6 .9M328.5 566.8l-.9 2.4M174.7 570l.8 .7M248.4 609.1l-.2 1.1M150.8 465.2l1.5 1M172.7 601.8l-2.1 1.6M138.9 543.2l0 2.2M267.1 427.2l.6 2.2M307.5 545.2l1.5 .9M208.3 570.2l-.2 1M144.9 503.3l-1.6 1.9M245.2 508.4l-.9 1.1M157.8 580.5l-.6 1.2M312.4 412.2l.1 2.3M289.7 415.3l.5 2.6M266 418.1l1.9 .3M283.2 573.1l1.7 1.8M257 558.5l-.9 .2M96.4 461l-2.2 .4M226.9 430.5l-1.3 .5M303 506.5l2.4 .7M323.4 551.4l1.6 .9M277.9 523.3l-.6 1.8M212.7 567.3l.1 1.2M195.3 508.7l-1.4 1.5M119.3 515.5l1.9 .5M331.6 457.9l.1 1M188.8 577l-1.3 .7M196.5 611.6l-1.2 .9M353.8 433.4l-.5 1.3M348.8 478.8l-2.3 .7M143.3 591.6l-1.4 1M83.7 558.7l.9 1.1M212.1 607.8l-2.1 1.5M337.6 556.6l1 .2M270.3 466.9l1.4 1.8M148.3 510l1.6 1.1M185.3 556l.7 .9M262 408.9l1.7 2M237.3 407.2l-1.7 1.1M107 470l-.9 1.1M271.7 474.5l-2.1 .2M335.2 550.3l-2.3 .6M229.3 558.4l-1.2 .7M276.3 592.5l-2.2 1.1M282.4 600.7l1.4 .3M272.8 601l-.5 1.1M191.1 512.7l.2 1.1M264.4 515l.8 2.4M259.8 578.1l.8 2.2M289.1 473l-2.1 1.4M320.4 429.8l-.5 2.4M93.4 549.1l1.3 1.8M91.5 513l1.1 1.1M350.1 464l-1.7 .2M239.3 528.8l-.7 1.9M122.1 564l-1.3 .3M138.9 508.1l1 .5M133.9 414l.1 1.7M120.1 502l.3 .9M90.2 481.3l-1.2 2.3M221.9 418.4l1 .4M93.4 539.4l-1.7 1.9M180.8 569.6l.1 1.9M186.5 450.2l-1.5 .7M119.4 421.4l.6 1.8M156.5 602.1l-1.2 1.4M328.9 606.5l.3 1.7M132.9 591.3l-.8 .6M189.6 563.3l.6 2.6M316.8 489.1l-1.7 .2M217.2 609l-1.5 .1M131.7 577.6l-1.4 1.5M324.5 500.7l.8 .8M172.6 486.6l1.6 .7M178.1 547.3l2.3 .9M272.5 436.1l-1.8 1.6M283.4 468.8l-2.6 .1M236 541.2l-.9 .8M311.2 568.3l-.7 .9M263.1 589.7l1.6 .1M291.9 528.5l0 1.3M109.8 570.7l1.1 1.8M318.5 560.4l-1.4 .3M195.2 526.5l-1.2 1.5M229.1 467.8l-.5 1.8M267.5 447.6l2.3 1.4M342.6 429.5l-1.1 1.8" stroke="#0a36e2"/>
<path d="M84.7 434.6l-.1 1.4M281.5 476.6l-1.9 1.2M227.8 564.6l-1 1.1M139.9 453.7l1.9 .3M208.5 459.8l.8 1.1M228.6 451.5l2.3 .4M147.7 447l-1.4 1.1M195.5 569.4l.4 1.1M181.9 518.2l1 1.9M246 549.7l1.1 .1M233.9 508.9l1.2 .1M173.7 407.9l-.8 .7M316.6 424.2l-1.3 .3M314.3 608l-1.8 1.4M170.1 424.4l.9 .7M219.6 602.5l1.1 .8M141.5 414.5l1.9 .1M226.9 485.1l-2.2 .6M218.7 530.7l1.6 1.7M261.3 554l1 .2M215.4 444.9l-1.2 1.6M156.8 427.6l2.1 1.2M273.5 552.2l-.1 2M303.5 524.8l1.4 1.2M256.4 455.7l-1.5 1.2M153.8 565.1l-2.2 .5M352.3 555.1l.5 .8M322.5 527l1.5 1.8M193.8 535.5l.5 .8M273.7 535l2.6 .7M166.6 474.2l.5 2.3M327.9 483.7l-2.1 1.6M354.4 496.8l1.5 1.7M266.9 468.8l-1.2 1.9M105 605.4l1.9 1.6M316 528.7l-1.4 .6M82.8 420.1l-.9 .2M99.5 527.4l-.7 .7M298.1 602.5l-2.5 .1M108.4 431.9l.5 1.4M313.2 506.9l-.2 1.4M116.9 544.3l-.3 1.5M289.2 516.5l-1.8 1.4M182.3 476.3l1.4 1M217.4 502.7l.4 2M274.1 447.5l-.5 2.6M337.1 493.7l-1.5 .7M344.9 562.5l.3 .9M351.2 549.2l1.8 .6M85.2 453.9l2.5 .7M320.1 496.2l-1.5 0M234 503.3l1.8 1.2M245.1 487.4l.5 1.8M293.1 441.7l.4 .9M170 489.5l-1.5 .7M352.4 596.8l.6 .8M220.9 525.3l-1 .4M220.3 498.3l2.3 .6M277.6 559.5l.8 1M197.7 459.6l1.3 .8M246.7 413.9l-1.2 1.3M224 569.9l1.1 2.2M92 430.9l-.6 1M84.7 486.2l1.4 1.5M156.4 449l.6 1.8M288.3 524.3l-.8 1.7M103.9 556.8l1.6 0M140 439.5l2.4 1M194.9 430.7l1.1 1.1M240.3 411.4l-.9 .6M156.6 518.5l1.1 .1M187.7 472.2l.3 1.5M321 581.4l-1.3 .8M315.6 440.6l2.3 .8M298.6 581.1l-1.9 .6M252.9 496.7l-1.4 .1M347.1 576.9l-.1 2.5M289.3 544.2l-.7 1.1M321.9 424.9l-.9 2.3M342.7 528.2l1.8 .8M112.2 546.5l-.8 .7M130.6 410.6l-2.2 .2M129.4 424.2l.6 1.1M181.1 494.8l2.2 .1M275.6 441.2l-2.3 .4M96.3 508.3l-.8 .9M269.1 546.1l-.6 1.3M353.4 405.9l-.8 2.5M321.7 407.4l.4 1.6M93.6 609l-1.5 1.9M133.9 456.1l-.2 1.4M261.1 598.5l-.4 1.8M156.6 463.9l2.6 .2M158.2 611.7l-.7 1.6M219.2 485.5l-1.6 .3M129.2 435.3l0 1.3M339.7 422.6l1 .4M283.7 548.2l.3 1.8M165.3 510.4l0 2.4M259 549.8l-1.8 .6M218.9 590.2l-1.1 2.1M280 438.1l-.8 1.6M287.9 510.1l1.3 1.5M182.5 596.1l2.2 1.4M106.3 496.6l.4 1.1M91.8 597.5l.2 2.3M82.2 408.5l-1.2 1.6M101.7 478.2l-.6 .7M209.4 524.5l1.1 1M289.5 505.3l-1.5 1.1M123.7 491.6l-.8 .8M121.4 409.2l1.7 1.9M177.6 597l-1.2 .5M343.5 547.6l-2 .8M100.2 427.6l-1.9 .6M255.4 413.5l1.8 1.5M172.3 508.4l-1.7 2.1M83.2 507.2l2.5 .7M252.1 505.7l.1 1.3M132.2 602.1l-2.1 .1M145.4 598.5l-1.5 .5M291.8 458.8l-2.5 .9" stroke="#0c6ee6"/>
<path d="M118.8 446.3l2.7 .5M162.5 535.6l.5 1.4M173.4 561.5l1.4 1.3M106.9 485l-1 1.5M103.6 610.7l-1.6 1M248.7 566l.9 .4M201.1 505.9l2.1 1.2M354.9 578.8l-.9 1.3M299.8 503.4l-1.7 .4M185.5 507.9l-2 0M110.5 591.7l1.8 1.4M274.1 406.9l-1.2 .4M192.7 442.8l-.3 1.6M216.7 436l-.4 1.4M241.5 577l1.3 1.5M105.6 427.9l-1.4 .7M259.9 502.7l.9 1.1M291 603.1l-1.5 .5M257.6 472.6l1.2 1.8M347.5 483.9l.6 1.4M241.1 513.4l.9 2.1M165.5 443l-.7 1.2M135.4 445.7l1.7 1.8M345.8 452.1l-.3 1.1M169.9 517l-2.1 1.4M95.6 558.6l.4 1M260.2 509.2l1.6 .5M299.5 545.6l1 .3M330.3 466.6l1.1 1.2M351.4 453l-.8 1.9M336.4 582.7l-1.4 1.6M347.2 444.6l1.5 1.2M174.5 437.5l-.2 1.1M343.9 415.4l1.7 .8M88.8 504.2l.8 1.3M247.1 452.6l-.8 1.1M293.1 538.2l.9 .5M289.6 590.7l.2 1.9M102.2 450.3l-1 1.5M139.5 577.8l.1 1.7M200.5 554.9l-2.5 .5M112.7 474.6l1.2 .7M229.1 421l-1.6 .1M332.1 538.2l-1.3 .9M299.7 514l.7 1M270.6 541.1l-.2 .9M83.4 598.6l-.6 1.2M278.2 462.7l1.2 .3M252.2 446.9l-.2 1.3M111.1 558l1 .6M123.9 462.7l1.1 .5M110.9 597.6l-1 .1M325.1 463.5l1.7 2M303.8 555.6l1.6 .6M280.9 446.6l-.6 1.8M88.4 474.4l1.1 .9M254.8 535.1l-.6 1.1M250.4 469.6l-.3 1.3M225.2 541.2l2.5 .7M247.4 526l1.1 .2M267.4 526.8l2.1 .7M274.2 418.5l-1.2 1.6M305.3 539.3l-1.3 1.4M181.4 528l-.7 .8M110.5 492.7l1.3 .9M351.7 566.2l1.2 1.1M86.4 594.3l-1.1 .3M113 579.4l0 1.6M126.5 541.5l-1 2.2M346.5 512.2l-.7 1.9M298.5 466.2l.4 1.1M330.8 477.6l.7 2M336.1 472.5l-2 .7M320.3 556l1 1M309.1 447.5l-1.5 2.2M170.7 480.3l.2 .9M143.2 525.3l.9 2.1M164.6 560.7l-1.8 1.2M212 505.3l1.4 .8M109.6 461.2l-.6 1.4M111 508.6l-1.6 .2M281.5 519.6l0 1M190.9 551l-.6 1.4M282 579.2l-.9 .6" stroke="#10a2e6"/>
<path d="M215.6 490.4l-.7 2.1M115.8 408.1l-1.2 1.8M226.1 523.2l1.6 1.4M245.8 472.6l-1.8 .6M209.7 576.8l.3 1.7M275.9 540.1l.5 1.7M152.2 483.7l1.4 .6M239.9 570.2l1.5 .4M295 490.2l-.3 1M264.1 477.7l2 1.4M259.6 485.7l1 .5M122.4 433.5l-.1 1.4M221.7 477.4l1.2 1M276.9 583.2l.3 1.5M222.9 424.2l2 .8M232.4 525.5l-1.9 1.3M343 519.1l-.6 1.4M198 479l1 2.5M296.1 415.3l1.2 .7M327.9 495.5l1.6 1.6M292.5 594.7l1.2 1.6M333.7 425.9l-2.2 .6M327.6 421.6l1.2 1.8M95.8 544.3l1.2 .1M345.7 554.2l-.9 .1" stroke="#1cdcc4"/>
</g></g>
<g clip-path="url(#mc11)">
<rect x="364.7" y="405.9" width="275.3" height="207" fill="#010406" />
<g filter="url(#bl2)" stroke-linecap="round" fill="none" stroke-width="3.1">
<path d="M449.1 440.3l1.8 .7M561.8 532.8l-.8 .7M582.1 565.2l1.3 .3M494.6 405.6l2.6 .7M537 498.7l1.7 .2M427 420.3l-2.6 .1M445 489.7l1.2 .4M450.6 511.3l.2 1.2M415.8 477.2l1.3 1.5M469 421.5l-.2 1.7M468 489.4l.2 1.5M452.4 601.7l2 .8M547.3 458.7l-.5 1.5M414.7 582l.8 2.2M600.1 581.7l-1.2 1.8M555.5 447.8l-1 .4M406.1 483.8l-.1 1.6M530.2 433l-1.9 1.5M387.1 515.9l-1.2 .2M609.1 523.7l-.3 1.6M596.1 577.4l1.7 1.4M588.7 607.8l1 .4M441.9 426.9l1.8 .5M611.7 540.2l-1.5 2.1M468.3 409.2l-1.9 1.7M480.3 522.7l2.5 .7M507.8 482.6l-.7 .6M603.6 588.6l-1.3 .5M558.7 549.2l1.9 1.4M544.1 590.2l-.4 2.5M607.2 476.1l-.8 1.1M511.2 487.1l.6 1.4M497.3 514.1l-.9 .9M592.3 481.1l-1 .8M556.6 578.2l1.6 .3M533.1 446.1l2.2 1.3M415.7 416.3l-2.1 1.1M472.3 570.4l1.1 2M402.5 605.5l1 .4M491.3 572.5l-.7 .6M396.2 561.7l.5 2.6M418.4 406.8l.1 2.3M508.3 452.8l1.5 .5M435.2 611.6l2 .7M411.8 445.9l.7 1.9M473.5 414.2l1.2 .6M636.2 457.3l.1 1.2M547.7 523.4l.8 2.5M526.9 416.8l-1.1 1.6M390.1 596.1l-.2 2.4M585.2 479.9l2.1 1.1M543 511.2l-1.9 1.4M465.9 598.4l.6 1.2M390.9 498.4l1.9 .9M599.1 498.9l-.5 2.3M429.7 606.6l1.2 1.9M594.1 437.4l1.6 1.8M493.6 449.5l-1.6 1.1M573.7 417.6l-1.2 1.2M623 499.5l.3 1.1M428.7 587.5l-1 .6M624.3 533.6l-1.7 1M391.4 591.5l-1.1 .7M588.6 505.4l-2.4 .7M367.3 570.3l1.8 .4M592.8 537.8l.9 1.3M557.1 517.8l2.4 0M638.6 490.9l-.8 1.3M461 569.5l-1 .7M522.9 561.7l1.1 1.9M456 581.3l-1.8 1.4M422.7 437.6l1.6 2.1M511.6 463.3l.5 1.1M578.5 581.1l-.2 1.2M554.2 476.8l-.9 2.3M623.7 466.3l-1 2.3M491.8 466.9l-2.4 0M399.1 596.3l-1.2 .6M370.5 528.5l.9 2.1M431.4 556.5l-2 .7M472.5 501.5l-.8 .6M597 451.9l1.3 1.2M420.2 467.6l.1 1.9M628.7 594.1l.9 .2M614.3 509.2l1.8 1.8M619.9 539.4l.8 2.1M573.4 548l.5 2.5M413.6 536.7l.9 1M437.6 439.4l-1.7 2M479.6 502l-.1 2.4M588.4 516.2l1.1 2.1M460.2 585l.6 1.9M564 608l-.9 2M581.1 435.7l1 1.8M376.8 426.2l-.8 1.4M460.6 495l-1.9 1.9M390.9 545.8l.5 1M420.3 553.5l-.7 2M466.7 590.5l-.9 2.5M515.1 522.9l-.4 .8M545.7 551.8l.3 2.5M610.3 570l.3 2.4M503.8 457.9l1.5 2.2M607.6 449.9l-1.9 .7M408.5 408l-.7 1.3M448.3 546.5l2.3 .2M605.1 507.6l-.5 .9M424.9 519.2l-1.3 1.2M474.1 522.9l1.2 1M452 459.9l-.1 1.8M514.8 406.1l-1.8 1.5M527.8 533.6l-1.7 2M496.2 419.7l-1.7 1.5M564.4 508.6l-1 0M624.3 554.2l-.8 .4M503.7 578.5l1.8 .4M495.5 541.4l.8 .9M541.4 537.2l-.2 2.5M401.4 559.5l1 .4M618.1 601.8l.8 1.1M593.1 466.1l-1.5 1.1M464.6 512l-.6 2.6M413 600.7l1.3 2.2M430.7 473.4l-1.1 1M598.7 491.5l-2.2 .3M438.5 598.5l.5 2.2M592 475.2l-1.3 1.2M372.7 491.4l0 1.2M420.7 514.9l1.3 1.5M586.6 573.2l0 1.4M535.8 604l1.8 .5M375.4 441l1.9 .7M602.1 440.5l-.5 1.1M556.7 505.5l-1.6 .9M527.9 449.9l.9 2M427.2 466.9l-1.4 .1M400.4 468.3l.4 1.5M448.6 434.1l1.3 1.4M618.5 483.7l.5 2.1M547.2 511.8l.6 2.1M498.5 440.8l2.3 .6M482.1 482.6l-1.1 1M443.4 466.4l-1.9 1.6M374.9 444.9l-1 1.9M619.7 511.7l.2 .9M506.8 495.6l-1.1 .5M592.1 490.4l1.3 .8M549.6 593.7l-1.1 .7M450.8 504l-1.1 .4M400.2 411.9l1.1 1.7" stroke="#0a25a8"/>
<path d="M527.9 513.1l-.1 1.7M406.7 544.7l1.2 1.2M523.6 490.9l.9 0M502.9 509.2l.1 1.2M416.2 530l-.2 1.6M632.8 551.5l-.8 1.3M444.8 521.2l.6 2M379 408.8l-2 1.5M517.6 440.3l-.8 .7M406.8 471.1l-.5 1.4M429.1 482.1l.7 1.8M483.7 542.1l1.2 1.6M491.8 542.8l-2 1.3M635.5 446.5l-.2 2.6M483.6 472l2 .8M366.5 548.5l-.6 .9M447.5 481.7l-2.6 0M380 487.3l1.9 1.1M575.3 425.2l1.1 1.2M513 470l.3 1.8M629.3 518.3l-1.7 .8M629.3 473l-1.1 1.6M531.9 581.8l-.7 .8M578.8 504.9l1.5 .4M467.1 554l.4 1.2M513.1 435.4l-.4 1.8M584.3 407.5l.1 1.6M613.1 445.4l-2.2 .8M405.3 580.2l-.9 1M440 565.1l.6 1.7M529.2 587.6l-1.2 2.1M469.3 509.4l-2.4 .3M509.8 560l.8 1.3M537 559.9l-.3 1.9M388.1 586.1l-.8 .6M546.8 568.2l1.9 .7M562 602.4l.9 .7M596.9 545.2l-1.6 1.6M507.4 421.3l-1.4 1.6M477.9 565.3l-1.2 2.1M519.7 426.2l1 1.5M509.4 412.4l.2 2.1M568.3 422l-1.8 .5M568.5 590.9l-1.9 1M407.2 609.4l1.2 .5M444 570.8l-1.6 .4M447.9 421.7l.4 1.9M528.9 607.8l1.5 1.2M529.1 496l-.5 1.1M589.5 486.1l-.1 2.1M534.1 430.4l.9 .9M634.8 474l1.6 1.5M578.8 556.7l-1.6 1.1M512.9 566.9l.2 1.2M602.5 411.3l-2.2 .9M560.5 478l-1.8 1.7M530.9 520.7l1.5 1.5M561.8 417.1l2.6 .1M629.9 583.2l-1.5 .3M453.2 478.2l1.8 .6M506.4 433l-2.2 .4M533.6 451.2l-.1 1M615.2 497.7l1.4 .6M528.8 473.3l-1.2 .2M430.1 492.7l.4 .9M385.9 499.6l-.8 1.9M489 487.4l.5 2.3M436.2 517.6l-1.2 .9M526.3 409.7l-2 .5M461.1 556l-.4 2.4M542.4 443.8l1.5 1.7M592.4 500l2.3 .4M395.5 547.6l.4 .9M476.6 583l1.1 .2M406.6 529.5l.6 2M611.2 463.4l-.4 1.2M545.1 484l-1.5 1.5M545.4 602.3l-.1 1.1M507 474.1l1.4 1M403.3 517.8l-1.8 .1M367 539.1l2.2 .5M579 454.6l0 2.3M366.5 411.9l-2.6 .6M473.2 594.3l.6 1.3M620.6 519.6l.9 .2M380.1 579l.9 2.4M373.6 563.1l-.2 1.6M478.5 576.8l-1.1 .7M393.2 478.9l1.2 0M432.2 460.7l-.9 .7M545.8 453.4l-.9 .4M580.2 487.8l2 1.1M603.5 579.4l.5 .8M542.9 426.7l2.1 1.5M393.1 554.8l-1.5 1.9M405.8 590l-1.7 .5M409.1 554.5l.6 2.1M462 609.6l.5 1M638 579l.9 1.1M539.1 468.1l1.4 2.2M497.7 496.9l2.4 .1M525.3 543.9l-1.1 1.7M516.8 459.3l-1.2 .2M369.5 511.4l-.6 2.6M559.7 458.7l2.1 .4M640.6 435.8l-2 .5M572.5 483.3l.1 .9M481.5 568.6l-.1 1.1M432.3 411.5l-.9 .1M595.6 431.7l2.4 .8M581.5 509.3l-.9 1.1M576.3 607.1l.9 1.6M578 545.5l0 2.4M603.3 518.7l1.3 .4M375.2 524.4l-1 1.4M534.1 501.5l-2 1.7M399.2 484.7l1.2 .5M457 486.9l.9 .2M414.1 594.7l1.5 .6M635.2 438.5l1.6 1.7M609 482.6l-.2 2.3M465.7 458.8l-1.1 1M610.6 472.1l-2.2 .5M619.9 489.5l.1 1.2M404.2 538l-.9 .7M395.6 530l1.4 1.1M547.2 439.2l-.2 2.4M428.7 504.8l1.3 .3M514.7 531.5l1 2.4M393.3 441.6l-.5 2.6M587.9 525.9l0 1M502.1 540.3l-1 .1M487 589.7l1.2 .4M440.3 524.8l-.1 2.2M373.6 412.6l-1.2 2M493.8 606.8l1.3 .3M409.3 416.6l.6 2.3M634.7 559.7l.5 1.2M486.1 408.2l-1.3 1.7M403.7 521.9l.2 2.2M472.5 425.6l1.9 .4M488.8 435l.3 1.9M431.6 549.2l-1.1 1.2M383.2 592.1l-2.6 .5M463 477.9l-1 1.4M433.3 561.9l.1 1.2M625.4 561.7l-.9 .4M613.8 415.9l.4 1.9M441.3 545.5l1.4 0M480.4 611.8l-1.4 1.7M445.1 596.3l1.1 .6M467 416.5l-.8 .7M621 444.8l1.3 .6M458.2 433.5l2.2 .4M434.8 545.3l-1.3 1.1M483.4 516.8l1.8 .3M473 586.8l-.6 1M537.1 522.2l-.7 1.6M562.1 590l.1 1.5M396.3 601.8l0 1.1M489.7 505.1l.1 1.3M578.2 477l-.5 1.5M527.1 576.3l-.6 1.3M452.5 522l.4 1.5M626 423.1l.9 1.6M365.6 579l-.1 1.2M406.5 560.6l.9 1.2M565.6 494.7l-.7 1.4M486.1 564l2.1 1.5M586.6 430.8l-.5 1M374.5 421l1.5 .7M370.3 601.9l.4 .9M441.9 443.8l.3 1.4M475.1 467.5l-1.7 .5M599.6 598.7l.7 1.2M549.8 517.4l1.2 1.7M508.7 528.7l-.9 .3M455.8 452.3l2.1 1.2M421.7 502.2l0 1.1M385.4 452.7l1.4 .1M617 520.2l-2.3 .2M585.4 464l1.1 2M580.2 464.1l1.6 .6M514.6 507.4l-1 .9M582.8 412.7l-1.8 1.8M459.6 439.9l.6 1.6M401.3 549.5l-.2 1.3M587.4 445.9l.4 1.2M581.5 540l1.8 .5M477 429.4l-1.1 1.7M520.4 417.8l-1.7 1.1M485.3 479.4l.9 .1M518.5 548l1.9 1M636.7 481.5l-2.4 .7M493.9 411.1l-1 1.8M469.8 536.2l-.2 1.6M503.5 591l-1.4 .5M514.9 578.6l-.5 .9" stroke="#0a36e2"/>
<path d="M470 530.6l2.1 1.2M393.1 583.5l.6 .7M449.1 406.8l-.5 1.3M614.8 555.6l-.1 1.4M582.9 523.6l.8 .7M514 492.8l-1.6 .9M579.8 444.8l0 1.9M463.1 580.9l2.3 .7M519.8 406.2l.4 1.4M491.5 492.7l-.6 1.1M525.6 426.8l1.1 .1M580.9 593.6l-1.5 1.3M491.8 563.7l1.5 1.7M417.3 424.2l-.4 1.3M539.1 573.5l2.2 .7M475.7 510.2l1.4 .2M432 444.6l1 .3M462.3 531.6l1.4 1.7M587.2 554.9l0 2.3M487.1 511.3l-1.1 1.2M627.7 483.1l-1.3 1.5M399.7 445.7l2.1 .4M495.9 552.1l2.3 0M418.6 497.2l-1 .1M398.6 511.2l-1.3 2.4M426.4 592.3l-1.7 1.1M534.8 469l-1.7 1.5M501.6 572.7l-1.8 1.1M577.4 526.6l-.7 1.3M535.3 512.3l-2 .7M379.8 570.9l-1.8 1.7M372.8 497.1l-.7 .6M600.2 538.1l1 .5M416.7 549.1l2.6 .5M396.2 492.5l1.8 1.8M547.3 417.4l.8 1.8M625.6 438.9l-2 .5M459.8 420l1 .9M556.9 415l-.8 1.6M577.1 493l-1.6 1.7M501.8 487.3l1.2 2M369.2 427.1l-1.1 1.4M512.1 610.3l-1.1 2.2M408.1 597.5l-1.5 .1M507.8 548.8l-1.1 1.2M524.4 456.8l.2 1.4M533.7 538.1l-1.8 .2M435.2 453.5l1.8 0M554.7 610.8l-1.7 .6M509.3 569.6l.3 2.4M419.1 600.6l.8 2.3M403.8 500.7l-1 .8M366.2 421.7l.5 .9M374.9 518.5l1.1 1.5M416.4 456.9l-.8 .6M463.1 523l2 1.2M508.4 517.3l-1.9 .4M582.2 573.4l-1 .1M406.6 514.4l.8 .6M393.4 487.3l1.4 .7M620.1 415.9l1.8 1.2M403.2 418.9l1 .7M602.7 545.1l1.7 .7M590.2 596.5l2.5 .3M551.6 432.7l-.6 1.8M389.7 580.2l-2.6 .3M441.4 506l.3 1.2M561.1 425.4l1.2 .3M525.3 567.5l-.5 1.5M398.7 479.1l.1 1.9M630.8 525.3l-2.3 1M566 462l1.5 .2M605.2 553.4l-.7 .8M629.9 601.5l-1 .9M592.9 553.6l-1.8 .2M638.5 570.2l.4 1M427.2 535l1.4 .6M422.2 585l2.3 .2M386.9 413.8l.8 .6M435.7 492.2l-.5 2M451.6 606.9l-.1 1M513.5 590.1l-.1 1.5M577.7 417.7l.4 1.9M393.4 458.2l-.9 2.5M555.7 572l0 1M570.3 608.1l1.3 1.6M425 472.6l0 2.1M522.8 521l.9 .7M548.6 578.3l-1.2 0M561.8 431.7l-2.6 .2M623 598.3l-1 2.1M635 589.2l1.7 1.5M533.8 566.4l1.7 .7M378.4 435l0 2.7M491.4 455.9l-1.6 1.3M571.2 470l1 1.7M457.6 506.1l-1.9 1.8M477.9 548.6l-.2 2.1M459.7 542.4l.3 1M545.2 465.3l.9 .7M472 578l-.3 1.4M567.6 525.1l1.5 .7M406.2 455.9l1 .8M472.6 435.7l1 1.4M585.3 420.7l2.2 1M380.7 539l0 1.9M541.4 496.8l2.5 .3M509.7 447.4l.4 1.6M574.4 536.3l2.5 .7M492.4 443.3l-.7 .7M430.1 454l-2 .8M461.2 463.7l-.3 1M522.9 536.3l-2.4 .8M626.5 508.9l.3 2.2M625.8 607.7l-.5 1.5M458.3 612.1l-2.6 .1M390.3 468.7l.3 1.4M526.7 463.1l.5 .8M494.2 554.3l-1.8 1.7M457.5 527l-1.6 1.4M383.8 411.3l-2.4 .9M383.8 482.4l1.5 .9M506 605.5l.7 .8M553.2 410.1l.3 1.6M581.8 530l-1.1 2.4M630.6 501.9l-1.1 1.3M508.6 579.1l2.1 .2M399.9 458.2l.3 1.2M464.2 467.7l-1.3 1.8M537 422.8l1.3 .4M423.9 408.4l-.8 .5" stroke="#0c6ee6"/>
<path d="M449 455.6l-1.1 .9M414.3 409.3l.3 2.6M573.6 406.7l1.3 .1M606.9 491.9l.8 .9M628 570.1l-.8 .6M446.7 552.6l-1.5 1.9M622.2 578.3l-.1 1.1M422.9 483.9l-.6 1.1M611.6 530.8l.3 1.6M440.1 591.4l-1.2 2.4M479.9 537.2l1.5 .1M368.8 440.9l-.8 1.3M374 480.5l1 1.4M563.3 405.8l.4 1.4M451.5 428.6l.3 1.5M441.6 557l1.7 .9M518.4 485.4l.9 1M423 571.2l.8 .6M368.9 452.4l1.6 .4M398.9 574.2l2.3 .2M500.1 522.9l-.5 1.2M427.9 440.4l1.1 .1M380.4 528.2l.2 1.9M487.5 500.5l-1.4 .5M523.4 554.6l-1.8 1.3M400.6 525.8l.1 2.1M546.3 473.4l-.9 1M588.8 565.6l-2.2 .8M409.4 567.3l-1.6 2M608.4 585l-1.4 1.4M520.4 568l-1.2 .4M444.7 514.3l.4 1.6M584 600.2l-.3 2.6M395.5 429.1l2.5 .1M551.6 583l.5 .8M556.8 537.9l.1 1.9M487.3 594.2l2 1.8M634.8 507.6l.8 1.1M491.4 548.1l.4 1.5M455.9 444.1l-2.2 1.4M368.9 554.6l-1.7 1M466 473.5l1.8 .5M463.1 424.8l.9 2.4M630.2 458.3l-.1 1.3M536.1 414.2l1.3 1.9M616.5 454.6l1.8 .4M570.9 574.4l-1.6 .2M577.3 575.2l-.2 1.2M530.5 551.2l1.2 .2M455.7 546.8l-1.5 1.1M450.8 576.6l1.9 1M479.8 593.8l.7 .8M388 420.3l-2.4 .3M618.1 572.7l-2.6 0M463.9 552.2l-2 0M417.9 577.5l2.1 1.2M521.2 574.9l-.6 1.4M445.6 470.9l-1.1 1M605.8 601.9l.1 2.5M410.8 502.5l-1 2.2M425 538.4l-.8 1.5M625 449l.8 1.8M467.3 604.4l.7 .7M521.2 474.8l-.9 1.3M557.3 597.2l.2 1.8M422.4 509.5l1.5 .7M472.4 450.7l.9 1.6M450.9 495.4l1.5 1.4M372.5 584.6l.3 1.1M435.2 470.8l0 1.2M549.7 488.8l.8 1.7M420.7 524.4l1.1 2.2M537.3 442.9l1.3 .8M568 491l1.1 .2M549.5 480.5l0 1.5M371.3 476l-1.1 2.4M402.3 564.1l-.3 1.7M603.7 421.8l-1.5 .6M489.5 580.5l-.1 1.7M511.1 418.9l.9 .3M612.5 578.3l.1 1.6M603.2 482.5l1.1 2M423 532.1l-.3 1.4M374.1 464.4l2.4 .6M561.8 410.2l-1.9 1.3M553.6 562.5l.7 .7M611.6 594.7l-1.3 .8M599.7 470.3l1.8 .4M542.4 412.7l1.5 .8M514.7 423.4l.7 1.6M495 520.8l.8 .6M389.1 476.1l.1 2.3M611.2 560.8l-.1 2M594.4 443.4l.4 1.8M515 544.4l-1 .6M571.8 513.8l-1 .9M454.6 535.3l-1.8 .7M393.7 506.8l0 1M409.6 440.2l1.2 .5M394.7 519.1l0 1.3M376.3 546.9l.9 2.1M511.1 504.3l-1.7 .7M527.7 583.8l-2.3 1M469.1 478.4l-.8 1.2M482.8 458.2l-1 1.1M537.5 516.4l.9 .3M589.9 456.7l.3 1.4M446.9 584.5l-.9 1.5M423.6 425.8l0 1.8M434.1 583.9l-.6 2.2M497.8 427l-1.7 1.1M617 431.8l1.4 2.1M454.7 438l.7 .7M490.9 600.5l1.6 .6M626.1 410.4l-1.4 2.2M499 473l1.4 1M544.2 608.6l2.2 .6M597 526l1.4 1.9M603 466.6l1.1 0M552.1 529.4l-2.3 1M519.9 510.4l-.2 2.1" stroke="#10a2e6"/>
<path d="M373.6 594.8l1.1 1M512.3 479.6l.8 .6M404.7 464.2l.9 .7M400.4 424.6l-2.6 .6M566.6 598.2l-.3 1.2M599.9 509.7l-1.1 2.1M421 567.7l-2.3 .4M447.3 415l.8 2.4M609.2 553.6l1.6 1.7M439.2 416.2l.9 1.2M462.6 507.2l-1.1 .7M635.6 523.5l.2 1M389.6 407.1l-.8 1.6M570.8 566.5l.9 .5M586.5 547.9l-2 .7M631.7 608.2l-.6 1.7M615.5 609.8l1.2 .2M596.5 603.4l-.6 1.8M527.8 524.5l-2 .8M407.1 434.5l1.2 2" stroke="#1cdcc4"/>
</g></g>
<g clip-path="url(#mc12)">
<rect x="645.5" y="405.9" width="275" height="207" fill="#010507" />
<g filter="url(#bl2)" stroke-linecap="round" fill="none" stroke-width="3.1">
<path d="M857.6 426.1l1.3 .8M795.5 570.4l2.4 .1M698.3 594.1l.5 1.6M777.7 499l1.8 1.5M716.6 568.9l1.4 2M810.4 429.6l-.9 1.1M789.9 494l-.1 2.4M803.2 534.2l1.9 1.7M793.3 593.7l-1.2 .8M855 564.2l-2.4 1.1M752.7 511.9l-.9 .2M734.7 515.7l1.3 1.5M649.3 458.3l.6 1.2M765.3 499.8l.9 2.5M795.3 600.3l1 .6M915 536.6l.7 2.2M748.1 529.2l1.2 1.8M662.4 487.2l-2 .7M885.2 417.1l.2 2.6M845.4 498.7l-1.6 .7M876.8 545l-.4 1.4M834.5 566l.9 .4M706 439l-.3 2.6M705.4 434.8l-2.2 1.5M686.1 422.2l0 2M663.3 554.6l1.5 1.7M780 522.9l-.4 1.3M837.7 457.8l1.8 1.9M791.8 422.2l-.4 1.9M701.3 430.3l-1.8 .9M788.4 547.2l.9 1.5M759.8 595.8l-2.1 .7M660.5 420.9l.9 2.4M730.9 574.3l1.1 1.3M880.4 417.4l-.3 2.7M867.7 526.9l-.1 2.4M886.4 472l-.9 2.2M799.3 408.6l1.5 .8M806.1 579.8l-.3 1.7M665.3 468.4l-2.2 .6M648.2 483.5l1.6 2M913.9 513.1l-.9 .9M767.5 568.9l-.9 1.5M914.2 545.3l-1.1 1.7M881.8 524.3l-.3 1.6M663.9 586.3l-.1 1.1M663.8 544.6l2.5 .5M790 589.3l-1.4 1.4M804.7 494.3l-2.1 .2M843.4 580.7l1.2 1.8M757.8 495.8l.1 1.3M663.9 532.2l.8 1.1M852.2 502.3l.4 1.1M884.6 504.9l-1.2 2.3M704.8 537.5l1.9 .1M749.1 415.1l.2 1M659.5 416.2l-1.1 1.9M891.5 423.6l1.6 1.4M714.7 430.1l-.3 1.6M912.2 530.5l-1.8 1.7M914.4 496.9l1.9 .3M753.3 582.2l-1.9 .8M776.2 566.2l-2.3 .7M786.8 557.3l-1 1.9M855.4 594.4l-1 2.5M862.2 579.5l-.5 .9M758.7 462.5l-.1 1.8M892.3 523.7l-2 1.2M830.4 471.6l-1.9 .2M734.7 567.9l1.6 .5M718.3 576.7l.8 2.3M753.6 432.7l.5 .9M848.4 611l-2 .8M740 425.6l.9 2.3M812.8 594.9l-.5 2M919.2 552.5l1 .4M738.9 485.5l0 1.1M839.4 595.8l-1.1 1M685.5 604.9l1.3 .9M663.4 412l2 .3M772.3 557l-.2 1.1M800.8 430.5l1.4 .6M668.9 519.6l-2 .4M827.3 439.3l.7 .7M665.3 442.1l.3 2.6M774.4 496.1l.8 1.2M820.1 426.1l1.1 .5M811.5 514l.3 1.6M854.2 542.9l.2 1.1M769.3 574.9l-.9 .5M736.2 456.4l.2 1.6M723.3 442.4l-1.1 .4M660.2 567.5l-.5 1.5M752.2 447.8l2.3 1.2M892.4 487.8l-1.3 2.3M796.1 529.4l1.7 .8M713.9 425.6l.8 1M853.9 580.9l-1.5 1.2M682.5 583.1l-.1 1.6M769.2 551.8l-.9 1.7M856.7 521l1.1 1M749.3 549.7l1.3 1.6M898.3 480.4l.6 1.4M678.4 571.3l2.2 1.5M875 512.8l.7 1.8M836 472.8l-1.4 1.2M767.7 609.3l1 1.8M851.7 513.2l.5 1.8M869.2 473.3l.6 .8M825.8 563.7l.3 1.3M674.8 512.2l2.1 .1M883.4 487.2l-.6 1.4M736.5 557.3l-2.5 .6M686.7 438.6l2.2 1.2M764.4 524.2l-.9 .2M756.2 458.4l-2.2 .4M728.5 530.4l-.9 1.6M912.4 435l-.4 1.2M716.5 448l-1.4 .4M882.4 597.2l-1.3 1.4M648.1 606.8l-2 1.2M904 542.3l-1 1.5M673.9 405.8l-2.1 1.6M808.6 520.1l-1.3 1.6M852.3 522.8l1.1 2.2M688 557.8l2.3 .2M682.5 418l1.4 .9M758.7 450.9l-1.4 1.9M782.1 582.7l-.3 2.1M817 465.6l1.5 2M712 486.5l.2 1.4M795.1 452.8l1.9 1.5M871 584.5l1.3 .4M728.8 447.9l-1.1 .5M772.5 562.5l-1.8 1.1M859.8 590.2l-.5 1.4M768.4 505.8l1.6 .4M892.5 474l-1.1 1.4M872.4 507.1l0 1.9M696.4 408.5l-2 .5M744.7 517.7l1.3 .9M900.3 521.4l-.3 2.3M680.6 538.4l2 .4M859.1 468.9l-1.2 1M768.1 477.6l-1.9 .9M843 601.5l-1.8 1.1M690.6 600.1l1.4 1.6M871 550.6l-1.2 0M909 580.1l-1.5 1.2M717.9 553.3l.1 1M718.6 432.7l-.2 2.1M883.2 413.2l-1.5 .6M907.2 506.6l.8 2M889.1 569.1l1.7 1.6M683.4 454.2l1.3 1M919 601.6l.2 2.6" stroke="#0a25a8"/>
<path d="M804 591.9l2.2 1.6M808.7 531l1.2 2.1M840.2 488.5l.9 2.5M717.7 458.7l-1.5 1.3M684.6 563.1l1.4 1.8M709.7 553.6l-1.7 2M695.4 490.8l-1 1.7M714.8 574.7l-2.4 1.1M689.2 488.2l1.3 .8M731.9 475.9l2.6 .6M809 549.8l-.6 2.2M727.5 562.1l0 1.2M758 554.3l1.4 .3M796.4 468.4l-2 1.7M910 496.5l-.6 1.9M776 570.5l2.4 1.1M700.1 413.4l.3 2.1M762.1 590.8l-1.5 .6M793.3 605.7l1 .1M688.4 508.7l.6 .7M862.7 479.8l-.2 1.3M737.2 585.9l2.5 .3M915.3 478.2l-2.2 .6M829.2 536l-1.6 .8M840.4 439.1l-.7 .7M654.3 452.5l2.3 1.2M761.1 422.5l1.4 .1M735.6 462.9l2.1 .4M710.4 407.4l2 1.2M795.4 418.7l-1.6 .9M778.9 517.2l-1.4 .9M845.8 485.1l-.8 2M704.3 546.8l1.8 1.6M742.7 467.8l2.1 .9M823.1 430.8l-.2 2.1M859.4 406.8l-1.6 1.5M765.9 560.2l.6 1.8M663.4 435l-1.1 2.3M655.8 475.1l0 1.9M810.9 440.3l.9 .8M813.1 502l-1.6 1.7M702.7 611.3l1.4 .3M845.9 493.3l-.5 1M761 486l.1 2.6M666.3 514.8l-1.3 .2M751.2 539.1l.9 2.1M909.3 460.5l2.5 .9M842.3 473.9l2.5 .8M739.4 573l.9 1.1M749 606.3l-1.2 .5M905.8 551.3l-.7 .8M786.4 480.2l-.9 .4M818.1 453.3l.9 .5M862.7 539.9l-.8 1.4M826.8 483.3l1.8 .2M816.4 524.7l-.7 1.7M901.7 587.6l-.5 1.3M669.2 493.5l-1.1 1M786.8 430.6l-.2 1.9M696.5 522.9l1 1.2M772.5 528.1l.2 2.1M720 477.6l0 1.3M812.8 509l-.2 1.5M825.4 459.2l1.1 .3M705.3 563l1.9 1.3M872.2 459.3l-1.6 1M728.2 612.4l-.9 .5M796.5 428.9l-1.7 1.3M677.5 488.2l-.9 1M755.7 601.9l1.1 .6M820.6 542.9l.9 2.1M849.2 481.3l1.8 .6M885 581.5l.3 2M733.1 445l-.2 1.1M688 431.1l2.4 .6M742.8 437.3l1.6 2.2M908.1 452.2l.3 1.1M737.6 600.8l1.4 .9M728.1 458.8l.6 1.7M863.7 609.5l-1.6 .5M787.9 442.3l-1.2 2M864.6 494l0 1.4M718.5 412l-2.3 .6M758.7 612.1l.9 .6M665.1 463.4l.5 .9M778.1 422.5l-2.6 .4M865.1 415.8l-.8 .8M692.7 521l-.6 1.3M673 481.7l.1 1.6M816.7 500.7l1.7 1M749.5 479.5l.4 1.7M679 607.1l1.1 1.7M677 459.3l1.8 .6M746.2 560.6l-1.8 1.3M709.4 464.9l2 .8M796.9 584.6l-1.8 1.4M917.4 455.3l-1.4 .6M678.7 557.3l-1.7 1.3M719.6 470.8l-.4 2.4M783.6 435.8l-2.6 .4M890.4 540.1l-.9 .3M854.6 454.3l2 1.6M804.8 477.5l.7 .6M876.7 555.1l.5 2M697.2 555.1l1.7 .6M706.5 599l1.3 .3M738.7 553.3l1.2 1.8M716.6 495.8l2.5 .9M699.9 466.2l.5 2.1M653.8 600.9l1.3 .2M746.2 611.1l-.3 1.2M812.6 555.7l1.5 1.9M727.5 484.8l.5 1.1M845.2 465.7l-.9 1.3M666.3 504.7l.9 2.4M836.2 450.8l1 2.3M792 555.2l.7 2.3M687 578.4l-1 0M810.1 478.5l0 1.1M686.6 525.8l1.7 .7M663.6 607.5l-1.4 1.5M902.8 515.3l-1.7 1M650.7 562.3l2.6 .1M917.6 522.8l1.5 1.4M868.7 604.7l-1.2 1.3M876.5 483.1l1 1.7M904.5 424.8l-1.7 .3M708 411l-.2 1.7M806.3 462.2l-1.1 .7M822.1 420.3l1.3 .5M845.5 535.2l-.4 2.1M670.8 447.9l2 .1M672.6 524.1l1.1 .7M875 524.9l0 1.6M816.9 570.5l-.7 1.2M836.8 557.1l-.6 1.9M812.7 565.1l.7 1.2M782.1 471.8l.9 2M811.7 449.2l.7 1M899.8 509l1.4 .7M781.9 411.6l.1 1.4M859.3 549.4l-2.2 .3M895.8 414.7l.2 2.1M711.7 568.6l-1 .5M677.8 592.2l-.7 .7M905.9 481l-.6 1.6M824.7 520.7l1 1.1M748.8 534.7l-1 .6M894.2 405.8l0 1.4M723.2 410.5l-1.1 1.6M809.8 607.2l-2 1M841.8 525.9l1.3 .6M830.5 443.4l-1.5 1.5M846 504.7l-1.3 1.3M654.3 415l-1 .3M654.8 518.5l2.1 .7M783.5 458.7l1.6 .8M795.1 491.1l.8 .8M819.6 565l-2 1.2M855.2 603.9l-.8 1.2M873.8 492.4l-2.2 .5M811.3 407.7l-2 1.1M907.7 512.8l.1 2.1M714.5 559.3l.1 2.1M665.2 483.6l1.5 0M660.5 596.2l.8 .8M849.4 487.5l1.2 1.2M720 451.4l-.9 1.5M721.9 526.6l1.7 .2M673.9 415l1.2 2.1M861.3 515.5l1.2 .6M808.8 492.8l.4 1.4M701.7 451l1.2 1.3M651 532.3l1.5 1.2M810.6 459.2l-1.9 .3M866.5 426.7l1 1.5M848.4 428.7l.3 2.6M758.7 568.8l2.4 .6M827.6 601.7l1.1 1.7M729.4 581.4l1.8 .3M867.5 407.3l-.2 2.6M871.4 466.5l-1.4 1.7M678 479.4l.1 2.3M768.8 461.9l.5 2M740.1 519.6l-1.8 .9M772.8 579.8l-.4 2M774.7 506.1l-.5 2.4M679.8 426.2l-1.2 1.9M744.2 477.9l-1.6 .6M702.3 527l.2 1M734 421.9l-1.7 .6M736.8 547.8l-1.2 .1M660.7 456.8l.1 1.5M762.9 548.8l-.9 1.2M729.6 508.3l.1 2.5M789.6 447l0 2M824.3 598.1l1.4 .9M834.1 524.3l-1 1.7M728.9 519.4l-.9 2.4M645 438.8l2 .7M677.2 436.2l1.4 .2M860.7 431.9l-1.6 .6M854.6 552.3l.4 2.1M705.3 595.1l-2.5 .3M868.7 449.3l2.6 .2M667.9 421.3l1.7 1.6M808.8 538.9l.7 .7M649.2 512.6l1 1.3M895.2 503.4l-2.2 .5M652.5 588.4l-1.9 1.5M821.7 536.9l-.4 1.1M781.8 504.1l-.8 1.6M904.5 409.9l1.7 1.1M685.2 485.3l-2.1 .8M649.6 572.6l2 1.1M696.1 512.3l-1.3 1.5" stroke="#0a36e2"/>
<path d="M714 535.6l1.2 .2M760.4 514.7l2.1 .3M845.8 568.4l1.5 1.2M682.2 494.4l2.2 1.5M862.6 462.6l.4 1.1M833.8 583.3l-2.4 .1M800.5 460.1l-.4 1.3M713.5 543.6l-.9 .8M682.3 443.7l.7 1.8M826.2 588.7l.5 1.3M757.8 469.4l1 2M691.7 607.2l-1.5 1.2M889.8 481.6l-1 1M671.6 435.3l.2 1.6M805.8 472.1l-1.6 1.1M655.7 592.9l1.9 .8M757.8 523l1.4 .4M695 426.3l1.5 1.2M920.1 503.5l-.8 1.2M896 526.1l1 2.4M651.5 498.5l-1.5 .7M810.1 591l-.5 .8M744.8 501.3l.4 1.4M710.8 504.8l1.9 .3M823.6 406l-1.7 .5M755.1 607.8l2.4 .1M880.8 567.8l1.4 1.2M660.8 579.5l-.3 2.5M723.5 429l-1.9 1.2M690.9 534.7l-.8 2.2M897.6 445.5l1.7 1.1M697.3 608.9l-.9 .2M772.1 417.5l-1.3 1.9M749.6 592.5l1.1 .8M768.5 456.8l1.8 .6M869.6 420.7l-1.8 .3M805.7 448.8l.9 .6M891.5 546.6l-1.4 1.4M850.5 586.3l1.7 1.8M877.1 445.8l1.3 2.2M821.7 476.8l1.2 .4M887.1 605.6l.5 1.5M790.3 472.1l.9 .8M791.2 506.7l-1.5 1.4M829.9 570.9l1.1 1.5M667.4 563l2.4 .7M827.4 415.1l-.9 .6M761.6 601.2l-.1 1.3M779.9 589.2l-1.6 .2M674.2 588.2l-.2 1.6M677.5 543.8l-.1 2.3M719 529.4l-2.2 1.5M806.8 563l.2 1.6M907 586.7l2.2 1.4M775.8 535.5l-.8 1.7M877.3 440.2l-.8 1M656 559.3l1 .4M732.1 414.8l-.5 2.4M703.1 555.7l.8 1.1M678.7 451l-.8 2.3M915 572.8l.1 2.5M826.3 527.7l-2.5 .2M669.1 478.1l-1.4 .7M669 539l-1.1 .6M873.7 412.4l.8 .6M855.4 572.1l0 1.9M726.8 505.2l-1.4 .6M758.1 425.4l0 2M723.8 433.7l1 1.6M885 440.9l-.7 2.5M750.9 517.5l-1.3 .2M902.5 565l-1.9 1M733 408.7l2.4 .8M910.8 415.3l1.3 2M833.6 539.9l-1.1 .8M661.4 505.5l-1.2 .2M670.3 553l.4 1.5M884.3 587.8l.7 1.5M780.7 463.5l-.9 1.7M848.7 463.1l2.4 .6M754.6 572.5l1.5 1.5M665.4 567.5l-.9 .7M876.2 417.6l-1.5 .6M882.2 424.1l-.9 2.4M800.7 466.4l1.5 2M875.3 538.7l2.4 .1M744.5 544.8l.2 .9M698.1 569.2l-1.7 .1M667.5 427.4l-2.3 1.3M777 467l-1.1 1.5M717.8 539.8l.2 .9M893.6 577.6l.3 1.2M707.5 605l-.4 1.2M711 435.5l-2.2 .4M765.7 490.7l-2.7 .3M782.5 418.7l.2 1.8M648.4 414l1.4 .5M795.1 477.8l.3 1.9M749.5 465l1.5 2M791.5 570.4l.3 1.8M815.4 602l-2.2 .6M850.1 529.4l2.2 .9M849.8 447.6l-1.8 .2M826.5 513.6l.8 .4M728.7 569.5l-.7 .8M871.1 437.4l-.4 .9M916.5 423.3l-1.6 .7M683.1 530.1l-1.6 1.5M647.2 534.3l-.9 0M755.2 490.3l1.4 .1M786.1 523.9l.5 .9M917.4 436.8l-.8 .7M662.6 478.9l-1.9 1.9M817.2 550.9l2.5 .9M905.9 561l1.4 1.3M832.1 497.4l1.2 2M798 511.1l1.2 1.4M773.3 604.1l.9 1.5M896.6 459l-1.4 2.1M913.8 578.5l.2 2.1M823.6 494.3l-.1 2M677.8 524.8l1 1.2M797.3 414.7l1 .7M658.6 408.1l-2.5 .5M873 422.3l.7 2.1M862.1 572.1l.2 2.6M865.2 550.7l-1.9 1.1M725.8 414.4l.6 1.5M762.8 434.1l1.2 1.3M742.8 497l-2 0M720.3 446.5l.6 1.2M650.6 555.4l.3 2.2M688 571.8l-2 1M836 415.4l-2 .2M875.4 455.8l1.5 1.2M891.4 558.5l-1.2 .7M843.1 551.2l2.3 .9M667.3 599.2l-.7 1.5" stroke="#0c6ee6"/>
<path d="M897.6 582l2.1 1.4M733.5 427.4l1 1M877 466.3l-1.9 1.8M675.5 549.8l1.1 1.6M737.2 418.2l2.3 1.2M898.7 425.7l-.6 2.6M804.8 604.8l-.9 1.4M795.5 551.2l-.1 2.3M687.1 553.2l1 .3M676.6 583.4l.4 1.4M735.3 437.8l-1.2 .5M860.9 454.3l.2 2.4M761.6 441.2l-.7 1.7M808.3 499.6l-1.9 .5M834.8 512l-.6 1.7M896.6 574.3l1.8 .9M840.3 462.1l.7 2.2M657.3 462.3l1.3 .1M738.1 526.2l-1.3 1.1M660.7 601.9l-.2 1.3M756.7 442.8l-.6 1.7M700.6 496.1l-.3 2M890 597.3l-1.2 .4M802.5 539.7l-2.2 .4M728.7 595.7l0 1.4M657.4 549.2l-2.4 1.1M741.8 506.4l-2.5 .9M833.8 462.3l.5 2.2M653.4 428.6l-1.2 1.9M858.2 508.5l2.6 0M753.4 524.8l.2 1.9M675.7 499.1l-1.3 .6M725 601l-1.3 .7M802.8 441.2l-.4 .8M838.6 580.6l-.9 1.9M650.3 468.9l-2.1 1.3M774.5 438.9l-.7 1.1M692 530.3l2.3 1.3M711.1 479.6l.9 .7M724.4 477.6l1.1 1.5M800.8 506.6l-1.3 .9M836.4 551.8l-2.4 1.2M802.2 584.3l-.1 1.6M793.7 576.9l-.9 .5M779.8 445l2.3 .6M819.1 487.7l1.7 1.4M847.4 416l-.8 1.2M649.3 518.1l2.3 1.3M724.2 551.6l0 1M872.7 556.3l-1.4 .5M669.1 512.8l2 1.3M740.2 590.5l-2 1.1M728.9 491.8l-.8 .4M866.8 564.5l-.6 .7M895.5 454.1l1.1 0M828 556.2l-2.3 .5M702.9 460.8l-.2 1.5M675.1 567.1l-1.5 1M668.3 588.6l-.3 1.7M743.5 585.2l1.4 .9M763.9 468.5l2 .3M900.1 450.3l1.7 1.7M841.2 412.9l1 1.8M753.1 475.1l1.5 1.2M682.8 461.9l.3 1.1M787.6 515l.3 1.1M847.6 520.8l-.2 2.5M832.7 479.4l.1 1.8M737.4 499.2l.5 2.5M745 449.5l-.8 .6M878.5 578.5l.1 .9M875.3 430.3l.8 1.4M912.6 595.9l-.2 2.6M699.9 532.3l.3 1.3M699.7 548.9l-.7 1.8M703.8 479.6l.8 .6M722.1 417.1l-2.2 1.1M814 574.8l-1.2 .1M654.6 584.2l-.6 1.1M887.2 408.3l2.2 1.3M702.7 576.2l1.1 .3M650.1 547.4l2.6 .6M906.2 522.8l1.2 1M758.5 580.7l1.6 1.6M685.4 595.2l-.4 .9M899 412.4l1.9 .1M816.4 429.2l-1.2 .7M781.6 405.5l-.2 1.3M795.9 542.7l-1.7 1.5M719.1 602.3l-1.5 1.5M728.8 470.7l-1.5 .9M750.9 460.2l-1.2 1M882.2 575l1.4 .7M772.4 443.5l-2 1.6M774.9 475.3l1.6 1.2M773 486.9l-1.2 1M697.2 481.5l.1 1.2M800 546.2l-.4 1.9M688.6 496.7l-.2 .9M673.5 427.1l-1.3 .3M787.1 452.8l-.7 .5M790.2 538.2l-2.1 1M769.1 450.7l-.7 .9M688.5 479.1l1.6 1.7M656.6 608.2l.2 1.6M757.4 509.5l.6 1.2M913.5 568.1l-1.7 1.2M838.4 540.2l-.4 1.9M851.5 473.9l-2 .8M755 560.5l-1.4 1.5M704 419.7l-1.7 .6M672.4 535l1.1 2M743.1 511.3l2.3 .2M759.4 505.4l-.9 .1M651.1 409l-2.1 .5M765.1 596.2l-.2 1.4M888.8 520.2l-1.1 0M692 565.7l2.4 .5M714.1 581.5l-.6 2.1M724.9 593.4l-1 .8M647.1 598.6l1.4 .2M766.3 408l2.2 1.6M690.8 457.8l2.2 1.2M819.3 581l-2.1 .5M799.6 486l-1.3 1.3M723.3 515.7l.2 1M837.2 588.7l-.8 .8M656.6 438.7l-1 .6M853.3 446.4l1.5 .7M815.8 611.7l1.2 0M719.2 519.1l-.5 1.2" stroke="#10a2e6"/>
<path d="M881.4 538.8l-.3 1.3M876.5 593l.7 1.8M739.6 431.3l.4 2.2M762.4 473.9l2.1 1.6M737.7 561.4l-.2 2.2M743.4 575.7l1.1 1.1M784.4 563.2l-1.5 1.6M764.4 544.1l.4 1M689.6 448.8l1.4 1.1M717.9 508.2l-.1 1.1M901.8 490.4l.9 1.6M878.7 612.7l-2.6 .2M709 510.9l-.2 1.5M830.4 489.4l-.2 .9M786.8 580.8l1.2 2.4M674.7 469.6l.9 .4M871.3 597.4l.9 1.7M856.7 416.2l1.3 .9M732.5 482l-1.3 1.3" stroke="#1cdcc4"/>
</g></g>
<g clip-path="url(#mc13)">
<rect x="928" y="405.9" width="275.3" height="207" fill="#020a08" />
<g filter="url(#bl2)" stroke-linecap="round" fill="none" stroke-width="3.2">
<path d="M934.3 448.1l1 .4M950.7 555.2l.2 2.2M1104 569l.5 .9M1026.6 410.9l-.5 2.1M958.1 410.8l-.5 1.3M1024 584.4l2.2 0M934.4 419.5l-.3 2.7M1141 608.1l.7 1.9M1081.2 460.6l-1.1 1.6M1097.3 413.5l-.9 .2M964.6 448.2l1.3 .5M1161.7 477.8l0 1.5M1139 514.4l-.8 2.2M941.5 567.3l-2 .4M1020.7 513.8l-.5 .8M1190.1 412.4l-1.1 1.1M973.6 448.9l-.1 1.9M1134.2 531.9l-1.9 1.6M1050 506.9l-.5 1.4M935.2 412.3l-1 1M1086.6 472.3l.8 .9M978.7 448.8l.5 2.5M1120.3 429.3l1.4 1.5M1133.8 499.1l1.2 1.7M1065.8 503.2l-.9 .4M986 532l2.3 1.1M1126.4 412.2l1.9 .8M1032.5 439.2l2 .3M1038.9 429.4l-1.5 1.1M1174.2 463.7l1.8 .4M969.9 595.1l1.9 .3M1019.2 489.7l-1.1 .4M1173 469.7l.9 2.4M1108.2 563.7l-2.1 .6M1055.1 438l-2.1 1.4M947.6 473.2l-1.3 1.9M1027.2 495.5l.6 .8M1118.9 553.7l1.2 .3M1148.2 458.9l.6 2.4M945.1 424.8l-.9 1M1092.8 457.8l1.8 .7M1009.8 590.4l-1 1.7M1140 588.5l-2.5 .9M1048.8 436.5l-.5 .8M975.5 508.5l-1 .7M1172.3 441.7l1.3 2M1144.2 416.8l-.2 1.5M996.7 428.9l-1.6 2.1M1042.9 592.5l-.4 1.2M1018.3 607.2l-1.1 1.2M1102.2 518.2l-.6 1M991.6 548.3l-.6 1.6M1186.8 565.1l1.2 1.8M1099.9 605l-.7 1.4M1036.5 529.1l.5 2M927.1 477.9l2.4 .3M1002.9 558.7l-1.3 1.5M1026 557.5l-1.1 .1M1088.5 596.6l-2.2 .3M1127.6 534.8l1.9 .4M989.9 565.4l1 1.7M1179.9 423.6l-2.6 .7M1082.7 582.2l-1.9 1.7M1051.4 468.3l1.4 .1M1093.7 601.5l-.4 2.1M1022.5 451.9l-1 2.3M1123.3 482.9l1.1 .4M1103.7 594.5l.5 .8M958.6 421.2l1.8 .5M1040.4 494.1l1.7 1.6M1200.8 608.2l.5 1.7M1015.3 525.7l1.6 .3M1111.8 526.4l1.7 2.1M1096.9 475l-1.8 1.1M1068.5 512.1l.3 2.5M984.8 453.6l1.4 1.4M1181.9 588.6l1.7 .4M1134.5 581.1l-1.2 1.4M942.2 435l.6 1.4M1008.7 496.7l-1.8 .8M1054.9 556.3l.1 1.2M980.7 521.4l-1.3 .4M1059.5 501.1l-1.3 1.4M1138.1 602.7l-.6 .8M1030.8 505.7l-.7 1.4M928.5 528l1 1.1M1164.2 441.6l1.6 .1M1071.6 604.8l-1.7 1.5M931.6 505.1l1.1 .1M1151.6 531.8l-1.3 .2M1139.2 525.2l1.7 .1M972.3 485l1 .2M1117.2 447l-1.5 1.3M1028.8 595.7l-1.5 1.2M1110.1 470.4l2.7 0M1190.3 457l.6 .8M1090.5 545.7l1.6 1.7M1041.9 462.6l1.2 .3M1144.7 596l2 1.7M1200.2 538.3l-.3 1.4M980.2 440.4l1.5 .6M1152.6 481.7l1.2 1.2M931.4 572.7l1 2.1M1025.8 605.9l2.3 .3M1160.8 532.9l-.3 2.1M1079.4 574.2l.3 1.6M1143.6 576l-1.8 1.3M1103.2 423.2l-2.4 .2M1196.1 513.8l-2.4 .9M1128 522.2l1.8 1.8M1006.4 481.3l-1.3 1M1154.5 440l-.2 2.5M1079.7 547l1.6 1.3M993.5 542.1l-1.1 1.3M1150.4 447.1l.4 2.5M1046.1 551.6l1.1 .7M1138.3 530.2l1.3 1.8M991 468.6l-1.3 1.7M1017.2 496.2l0 1.4M1024 575.1l1.4 .5M993.3 463l1.7 1.1M1056.5 547.4l.7 .7M1071.7 593.8l1.2 1.8M1097 507l-.7 2M1013.4 557l-1.2 1.9M969 586.9l-.5 1.4M1051 412.6l-.5 1.5M1113.3 539.4l-.2 1.2" stroke="#0a25a8"/>
<path d="M1193.1 526.2l-1.5 .6M970.2 580.3l-1.3 1.4M1036.2 536.1l2 0M937.3 553.6l-2.3 1.3M1142.2 435.9l-1.6 .7M1178 579.7l-1.6 1.3M1184.2 425.1l.3 1M948 588.3l1.1 .6M1026.6 475.2l.5 2.1M1093.2 420.9l.4 2.6M1019 464l1.9 1.3M1156.5 589.3l.6 .7M961.6 585.2l-1.7 .9M1166.4 428.2l-.7 .7M1095.6 462.6l.9 .6M957.7 452l2.2 0M1128.5 558.2l1.1 0M1072.9 474.4l2.1 1M1166.1 549.2l1.1 1.4M1076.4 444.6l-.3 2.6M1033.7 468.6l1.5 1.9M951.7 516.6l.5 .8M1037.4 476l-1.1 2M948.2 608.5l-.1 1.7M940 578.9l.5 1.2M948 479l-.5 1.3M1202.5 578.4l1.5 .7M1011.2 605.4l.3 1.7M1048.7 407.4l-.7 .6M1010.2 506.4l1 2.2M1111.6 611.4l-.6 2.6M1110.4 501.3l.9 2.4M982.7 485.7l.3 1.2M1028.2 539.5l-1.3 1M960.6 604.1l2.2 1.1M1059.1 417l1.4 .9M1122.1 561.4l-1.1 .3M1124.2 476.6l0 1.1M1026 428.5l.7 .7M1004.4 413.9l-1.9 1.1M1081.1 601.2l.4 1.9M1195.8 506.8l1.1 .8M1100.8 469.7l-2 .3M989.7 611.2l1.4 .3M978 405.9l1 .3M1061.7 593.9l-1.2 2.3M1158.1 505.9l.9 1.2M987.9 433.1l.5 1.1M1141 476.5l1.5 1.9M973.4 539.2l2.3 1.2M944.2 585.9l-1.7 0M1063 572.6l1.7 .4M1000.3 475.7l-.3 1.9M1184.1 583.5l1.6 .2M941.7 550l2.2 1M1082.8 563.2l.2 1.3M1030.6 486.7l.5 .8M1113.2 576.4l-.9 .9M1144.4 521.4l.9 1.3M1059.3 525.4l-1 .3M1102.2 580.9l-1.6 1M975.1 569l2 .8M1022.8 508.2l1.2 1.2M1104.4 477.2l-1.1 .8M1074 568.9l-1.3 1.1M1174.8 523.4l.9 .8M1055.8 461.7l-1 .8M1066.9 539.3l-.1 1.4M1145 564.4l-1.3 1.3M1085 575.6l-.1 .9M967 543.5l2.2 1.1M1107.8 602l2 .1M1041.2 422.8l-1.6 .3M1176.4 550.8l-.9 1.5M931.6 437.9l1.7 1.8M997.5 458.4l-1.2 .7M1159.2 584.1l2 .6M1099.2 431.4l-1.3 .2M1115.4 439.5l.1 1.8M957.7 512.3l1.4 1.1M964.3 530.3l.5 2.4M980 411.8l1.4 1M1098 523.9l-.2 1.2M995.7 532.2l-.8 2.2M1024.2 406.4l-1.9 1.6M1056.8 508.2l-1.7 .8M985.6 556.8l0 1.5M982.5 536.1l-.1 2.3M1129.3 422.8l-.9 .8M994.7 594.3l-.4 1M1062 477.9l1.5 0M985.1 424l.4 1M1028.1 461.2l-.8 1.3M1131.4 416.5l2.1 .8M1176.2 412.7l.2 1.3M1120.4 518.7l-.8 1.4M1048.1 588.8l.1 1.7M1055.9 601.2l1.2 2.3M1044 582.8l-1.8 1M1032.3 447.7l-.9 .9M1116 452.5l1.4 .6M996.3 418.7l-.4 .8M1094 578.3l1 1.3M1001.3 442.9l1.8 1.7M964.3 575.3l1.4 1.8M940.9 560.5l-1.9 1.1M1054.8 570.6l-.3 2.6M1024.8 566.6l-1.3 0M1007.1 582.8l.5 .8M1171.8 537.3l.6 1.1M1137.8 485.3l.4 2.4M946 569.3l.1 1.5M997.1 434.9l.5 1.4M1111.8 479.8l1.2 .3M965.6 453.7l.2 1M1058.2 567.4l-1.4 .4M1183.2 594.3l-1.1 .3M929.2 458.5l-1.6 .1M1104.1 587.1l0 2.7M1134.7 537.7l-1.8 .5M957.9 565.7l1.4 .9M980.8 552l-1.6 1M941.8 611.3l-.2 .9M1058.8 453.8l-1.5 .2M1108.5 417.7l-1.8 1.6M1183.3 607.5l-.1 2M1193.5 441.6l0 1.1M1180.5 535.5l.3 .9M990.1 459.8l1.5 .2M1187.5 486.4l-.5 2.6M1188.5 551.1l.6 .9M964.9 597.3l1.7 0M1013.7 418.4l.8 1.5M978.6 585.5l-.6 .9M1157 528.8l-.4 1.4M1179.4 446.3l1 .8M937.6 498.5l.3 1.6M1201.8 507.1l-1 0M1014.3 517.6l1.6 1.1M1070.6 547.4l1.1 .5M1001.4 541.8l.3 1.9M1114.5 414.3l2 .2M1112.6 448.2l-1.7 2.1M1181.5 574.2l-2.4 .4M1015 564.7l-1.1 1.7M1022.2 478.2l-1.3 .5M990.2 514.4l.3 2.5M1146.1 431.8l1.1 1.8M1078.7 519.8l.4 1.9M928.6 445.1l1.4 1.1M973.4 469.6l-1.7 2M988.5 583.1l-.4 1.3M1116.8 499.6l1 .7M1176.3 454.2l-.5 1.2M1120.9 419.5l-.4 .9M1198.9 416.1l.5 2.4M1169.2 507.8l-1 2M1107.6 508.2l-1.8 1.4M1094.5 490.4l1.8 1.9M1122.8 609.9l-1 .6M1175 588.8l.7 1.9M986 506.3l-1.5 .7M1082.3 515.7l-.2 2.4M1172.7 432.1l.5 .8M1110.6 557.6l-2 .6M936.5 492.1l2.6 .4M1045.5 444.7l-1.5 1.4M1156.8 611.9l.8 1.8M1059.2 443.1l-.8 .9M968.2 465.1l1.2 .4M1170.8 584l1.2 .9M973.4 501.7l1.3 .3M1161.2 500.8l.3 2.4M1133.8 564.9l.4 1M1125.9 543.5l1.2 2.2M1135.9 569.7l.5 1.7M1063.9 449l1.2 .4M1040.7 489.5l.8 .4M1068.1 498.5l-1.9 .4M959.8 592.5l-1.6 .9M1197.8 574.5l-.5 1.4M1065.1 527.8l.7 2.6M987.9 592.5l2.7 .3M1191.8 420.2l1 .4M1066 470.1l2.2 .5M1123.7 450.8l-1.1 2.3M960 535.5l2.1 1.1M1070.4 586.8l1.2 1.2M1076 465l2.1 .6M1135.6 448l1.6 .3M1144.5 405.7l0 1.2M1201.7 511.5l1.2 2.2M968.3 523.9l-1 .5M976.3 442.7l-2 1.2M1069.4 444.5l-.7 .7M1019.6 537.4l1.3 1M1077.5 416l2.4 .8M1032.7 607.9l-.4 2.5M1191.7 598.8l1.3 2.3M1096 515.6l.9 .8" stroke="#0a36e2"/>
<path d="M933.9 405.3l-1.7 1.6M1081.3 405.9l-1 .2M945.7 562.8l-1.5 1M991 443l.2 1.3M936.4 433l-1.9 1.6M1193.1 560.2l-2 .6M1158.5 512.1l-1.2 .8M984.4 480.2l1.9 .7M1136.2 410.4l-.3 2.1M932.7 543.3l-2 1.4M1089.4 451.1l2.3 .6M1145.9 551.7l-2 .9M956.7 571.3l.3 1.3M993.7 604.6l-1.5 1.6M1148.5 525.8l.9 .5M1154.3 500.1l-.3 1.7M1005.2 456.3l-1.9 1.5M1118.9 538.2l.1 1.9M968.8 552.9l2.4 .5M1053.7 582.2l.2 2.2M1057 408.7l1.9 1M945.6 446.8l.2 1.1M959.3 426.1l.1 1.6M1115.5 488.4l.6 1M1048 601l-.7 .7M1076.4 410.8l-.4 1M1159.7 492l2 1.3M985.7 464.8l1 .9M1070.4 562.5l-1.7 .8M975.1 421.9l-1.9 1.2M956.1 442.4l.3 2.5M1130.8 458.2l.3 1.5M1090.6 412.7l2.1 .3M989.1 411.5l.7 1.5M1062.4 512.9l.5 1.8M1005.8 525.9l.3 .9M937.5 511.5l-.7 .8M1190.2 423.7l-1.4 2M1016.5 434.1l-.3 1.6M1193.3 431.6l.2 1.9M965.5 416.8l-.7 1.2M1013.9 447.3l1.6 .5M1104.1 494.6l-1 .9M1078.3 422.8l1.7 .1M957.1 553.3l2 1.5M940.5 466.7l.2 2.2M1057.2 426.8l-.4 1.7M1196.6 551l.4 .9M1182.8 518l1.2 1.5M1148.1 577.5l1.2 1.8M1076.3 589l.8 .5M932.6 549.2l-1.3 2M1078.8 454.4l-.3 1.3M1170.3 559.4l1.1 .5M1152.7 428.1l-1.5 .5M1019.2 414.5l-.3 .9M1099.5 503.6l1.7 .2M1082.6 555.6l-.3 1.3M938.9 439.3l-2 .1M1111.8 517.7l-.8 1.1M975.2 604l-.9 .6M968.4 409l-2.3 .6M1127.9 480.3l1.5 1.3M962.5 570.7l-.4 1.2M1101.8 538.4l-1.4 2.1M1149.4 408l-1 2.1M1100.8 409.1l1.1 .4M996.9 517.9l.2 1.1M1022.3 500.7l-.4 .9M940 453.9l-.3 1.3M968.8 532.1l1.6 2.1M1129.7 448.3l.6 .7M1076.5 581.8l-.2 2.1M1084.5 609l.4 .9" stroke="#0c6ee6"/>
<path d="M1042.1 538.7l1.1 1.5M1149.1 476.9l.8 1.1M1048.5 489.9l-1.6 2.1M1067.3 409.9l-1.1 0M1137.5 507.8l.6 .8M1172.4 482.2l.5 2.1M1162.2 567.4l2.2 .2M996.9 500.8l.9 1.8M1173 570.5l-1.9 .8M1110.8 494.2l1.4 1.8M1150.7 599.9l-1.3 2.2M948.4 547.9l1 0M1071.8 482.3l-2.1 .4M1190.2 577.5l-.9 1.3M1060.4 542.9l.8 2.3M1136.9 441.9l-2.1 .3M1172.7 578l-1.1 2.3M1040.1 557.7l-1.4 .5M1151.3 588l-1.9 .8M1194.7 609.2l-1.3 1.7M933 595.2l-1.7 .1M930.7 428.1l-.7 2.3M1105.7 577l-.7 .9M997.5 446l-.3 1.5M1048.8 517.1l-.6 1.1M1038.8 408.1l-1.2 1.4M1031.4 582l-.1 1.3M1131.2 509.4l-.3 1.5M1014.6 549.3l-.2 1.4M1079.1 436.3l1.2 1.1M961.4 458l-1.2 1.1M1199.8 449.6l1.3 .4M986.4 539.6l1 .7M972.2 513.6l1.3 1.1M971.8 431l1.7 1.5M1014.4 601.1l.6 1.4M931.1 463l2.1 .5M947.3 493.2l1.4 .7M993.4 476.5l.7 2.1M1180.3 560l-.9 1.1M1164.7 416.6l-.1 2.6M1080.3 489.9l-.4 2M941 427.6l-1.5 1.3M936.4 608.9l-1.9 .8M952 581.4l2.3 .7M1012.5 574.1l1.4 .7M1087.5 443.2l-1.4 1.2M959.8 529.4l-1.8 1.2M963.1 540.7l-1.5 .5M1169.9 477.9l.6 1.1M1201.4 556.1l-1.6 1.4M1177 518.3l-.4 1.3M1118.6 494.2l1.5 1.5M1038.4 524.3l1.2 .3M1043 472.6l-1 .6M1061.3 466.7l-.4 1M965.8 501.9l-1.1 .2M1031.7 425l-.7 .6M1007.7 595.9l-.6 1.8M1148.3 487.2l-1 1.1M1145.5 607.5l2.1 1M1148.4 543l-2.3 .2M1062 518.6l-.1 1.2M1079 470.5l-1.6 .5M1197 498.2l.2 2.1M951.5 465.9l-.4 .9M1142.4 603.4l.8 1M1165.6 453l-1.1 .8M1185.2 439.6l.3 1.1M1148.4 570.1l.9 .5M1163.1 538l0 1.2M1021.4 531.8l-1.3 1.8M979.5 459.3l1.7 .2M1097.5 560.4l-1.7 1.9M1061.4 550.3l1.3 .4M1039.7 551.1l-1 .7M1073.5 459.4l1.2 .7" stroke="#10a2e6"/>
<path d="M1027.7 416l-1 2.5M1009.5 416l-2.4 .7M1049.9 473.2l.1 1.1M1041.9 609.3l-.4 1.4M1027.4 450.3l1.1 2.3M1123.8 584.4l1.5 .8M1011.3 535.8l2.3 .5M1123.5 549.1l-1.2 1.6M1126.8 604l1.2 1.2M957.5 502l-2.6 0M990.9 502.9l1.5 .1M1078.2 539.5l-1.9 .7M1005.9 449.7l-1.1 .3M1181.3 508.8l-.8 1.2M1118 459l-1.6 0M1132.6 428.7l-.4 1.7M966.9 426.9l-1.2 1M930.5 605.8l-.5 .8M1134.1 589.2l-1.9 1.1M1039.5 546.1l2.6 .6M1023.4 424.6l-2.7 .4" stroke="#1cdcc4"/>
</g></g>
<g clip-path="url(#mc14)">
<rect x="1213" y="405.9" width="275.1" height="207" fill="#030d0c" />
<g filter="url(#bl2)" stroke-linecap="round" fill="none" stroke-width="3.4">
<path d="M1394.5 536.4l.4 1.4M1247.3 577.6l1.3 .9M1325.8 430.5l-1 1.6M1213.7 496.5l.3 1M1331.4 416.2l1.4 1.1M1325.3 464.3l-.7 .6M1229.4 516.3l1.2 1.3M1474.1 439.5l1.8 .9M1485.1 464l-1.2 .6M1346.8 575.6l.9 .5M1223 525l-1.2 .5M1406.4 526.8l-.9 0M1427 591.2l-.8 .8M1357 490.2l.8 .2M1215.4 485.1l.5 1M1418.9 466.2l.3 1.9M1420.9 562l.7 1.2M1434.6 531.8l.2 .9M1313.8 481.6l-.8 .9M1318.1 495.2l1.5 .6M1484.6 455.7l0 1.3M1339.9 468.5l1.4 .1M1374.8 452.1l-.1 2M1444.9 534.7l-.8 .5M1352.1 409.4l-.4 1.1M1330.6 451.1l.5 1.3M1375.2 425.7l1 1.7M1393 582.7l.7 1.1M1348.2 605.3l-1.6 1M1228.9 485.6l.8 1.8M1297.7 521.6l-1.1 1.5M1384.7 443.4l-1.2 .6M1454.9 492.7l-1.4 .2M1332.6 461.1l1.3 .1M1418.8 523.5l1 .7M1254.3 443.5l-.3 1M1318.4 579.4l-2 .9M1375.3 467.1l2.1 .7M1216.7 567.1l.2 1.4M1343.3 434.4l1.2 .2M1383.7 418.7l.8 2M1382 597.8l2.1 .6M1299.5 428.9l-1.1 1.9M1320.7 522.3l.2 1.4M1269.6 574.8l1.9 .3M1262.1 529.4l2 .8M1316 538.7l-1.1 .1M1461.8 587.6l1.4 .6M1425.4 583.9l-1.8 .3M1473.9 488.7l.4 1.2M1446.4 513.9l-1 .3M1485.7 480l-.9 1.2M1338 554l-1 .9M1457.9 576.7l-.8 1.9M1265 607.5l2.1 .6M1236.9 487.6l-1.4 .2M1269.7 505.2l-.7 .4M1332.3 594l-1.4 0M1308.9 560.4l0 .8M1322.3 529.7l.4 .7M1402.9 562l-1.1 .6M1297.4 547.1l-.1 1.8M1333.9 566l1 .7M1328.7 442l1.7 .5M1390.4 549.7l.7 .4" stroke="#0a25a8"/>
<path d="M1222.7 429.9l1.6 .5M1479 429.7l1.5 .4M1376.8 512.7l.7 1.2M1252.5 497.3l-1.1 1.9M1467.4 460.1l.4 1.2M1225.3 468.1l0 2.2M1407.9 593.5l1.2 1.1M1272.1 467.3l-1.4 .8M1229.6 435.6l.5 .8M1400.2 549.7l.5 1.9M1481.9 574.2l-.3 .8M1220.2 585l-.7 1.1M1233.2 417.4l-.2 1M1439.5 561.2l1.5 .8M1382.8 455.9l-.7 .8M1440.6 602.8l-.9 .8M1340.6 523.2l1.8 1.2M1233.1 572l-.6 1.3M1448.4 480.7l-1.6 1.6M1383.7 501l-.4 .8M1358.1 611l.3 1M1319.8 511.7l-.9 1.5M1460.8 611.9l1.4 1.6M1367.9 448.6l-1.6 1.5M1392.7 521.7l-.8 0M1249.8 426l1.4 .5M1450.5 562.4l.7 .7M1256.6 512l-.4 2.1M1452.4 428.6l.3 1.6M1280.4 522.4l1.5 .5M1289.3 521.2l1.3 .1M1280.5 409.2l1.3 1M1265.8 481.9l.8 .7M1291 423.3l1 1.2M1227.2 476.5l-1.5 .2M1365.2 524l1.8 1.1M1293.6 434l.1 .9M1336 480.2l.7 1M1399.6 419.1l.1 .8M1349.4 446.6l.1 .9M1367.1 438.3l.7 1.2M1263.9 439.8l1.2 1.2M1430.2 453l-.7 .7M1269.3 598.5l-1.4 .4M1285.2 605.9l.5 .7M1367.6 540.5l1.3 1.6M1313.8 434.3l-.2 1.6M1385.9 530l-1.7 .7M1249.4 594.3l-.5 1M1438.6 463.8l-1.8 1M1431.5 545.3l-.7 .4M1350.3 505.7l1.4 .9M1248.4 556.9l1.4 .8M1304.5 418.8l-1.1 .1M1292.8 466.7l.5 1.9M1372.3 517.6l-1.5 .8M1460.6 499.5l-1.7 .6M1323.8 553.9l-1.8 1.3M1329.4 513l-.9 .6M1461.1 439.2l1.3 .5M1443.6 442.8l-2.2 .3M1320.5 586.2l-.4 1.4M1216.8 533.9l1.9 .1M1367.6 466.8l-.2 1.5M1223 597.8l1.6 .9M1237.4 559.3l-1.2 1M1441.1 417l.4 1.6M1350.7 497.6l-1.2 .8M1239.7 605.1l1.7 1.1M1213.8 431.3l1.1 1.9M1397.9 470.3l-.8 .7M1222 438.6l2 .8M1224 421.5l.5 2.1M1224.3 563.6l-1.3 .9M1289.6 488.9l-1.6 1.3M1235.3 408.8l.6 .7M1387.4 570.6l0 1.5M1301.1 591.7l-.4 .6M1325 565l-.5 .8M1360.6 431.4l1.1 1.7M1337 408.4l-1 .3M1343.1 612l1.2 1M1348.2 417.6l1.6 1.1M1391.7 444.3l.9 .8M1260.4 409.2l1 1M1374.9 477.5l1.5 .8M1356.7 502l1.1 .2M1327.7 506.2l-1.4 .5M1236.9 567l1.6 1M1325.7 479.7l2.1 0M1477.4 406.5l1.6 0M1472.4 602.2l.6 1.4M1258 565.2l.7 1.3M1358.1 564.9l.1 1.3M1419 430.3l-1.2 1.9M1330.4 577.2l-.5 1M1332.4 538.6l-1 1.1M1342.7 506.4l1.5 .4M1223.7 507.1l.3 .9M1484.8 523.2l.8 .8M1412.3 530.1l1 .2M1369.3 421.4l1.6 .1M1380.5 607.9l.8 1M1298.9 491.7l.2 1.4M1340.6 545.2l1 .9M1423.7 422.9l.1 1.2M1350 569.5l2.1 .4M1482.3 438.3l1.4 1.5M1462.5 467.4l-1.5 .7M1440.8 505.9l1.1 1.2M1394.9 597.2l.9 .3M1396.4 608.6l.9 1.1M1442 473.8l-.5 1.9M1335.7 431.9l1.7 .5M1373.4 529.3l.9 1.5M1479.1 446.7l-1.8 .3M1486.2 420.3l-1.5 .6M1282 457.4l1.6 1.3M1228.6 545.6l1.9 .5M1382 537.8l1.3 .3M1390.1 514.4l-1 .1M1318.4 447.2l1.5 .7M1385.4 554l-.5 1.3M1306.5 550.7l-.8 .6M1323 472.5l0 1.2M1404.4 449.7l-1.4 1.1M1370.1 485.7l.8 .2M1482.5 487.2l1.4 .6M1483.6 585.2l1 .2M1322.1 410.3l-.5 1.2M1375.8 544.3l1.3 1.7M1346.6 512.9l.7 .5M1461.4 604.4l.3 .9M1414.8 491.5l1.5 1.4M1275 585.9l.3 .8M1451.2 577.3l-1.4 1M1316.8 571.9l1.6 .7M1318.9 596.3l1.7 1.1M1254 476.1l-.7 1.5M1454.4 510.4l-.9 .3M1384.2 484.9l.6 1.8M1407 554.6l-1.8 1M1236.1 441.8l1.2 .5M1415.9 575.8l-.8 .1M1232.4 608.3l.1 1M1279.7 564.8l1.2 .8M1359.6 414.4l-.2 .9M1262 536.6l-.7 1.9M1236.9 434l.4 2" stroke="#0a36e2"/>
<path d="M1228.5 579.8l.9 1.3M1339.4 583.2l1.2 .1M1375.4 583.2l-.4 1M1232.3 600.5l0 1.5M1365.3 499.4l.9 1.2M1414.6 516.8l1.8 .7M1272 541.5l1.4 1.2M1294.5 597.9l.5 1.6M1356.3 467.1l.3 1.1M1281.2 471.6l-.4 1.3M1386.4 476l1 .9M1445.7 587.2l1.5 .1M1286.1 577.8l-1.1 .1M1449.5 473.3l.9 .8M1261.7 416.1l-1.2 1.7M1466.9 593l1.7 .7M1249.5 586.8l-1 1.7M1283.7 436.4l-1 1.9M1229.7 443.4l-1.8 1.2M1436.4 500.4l1.5 .5M1292 589.2l.8 .2M1475.2 525.2l.5 .8M1216.6 456.8l-.1 .9M1352.4 521l-.7 1.6M1436.2 447.2l-.4 1.7M1286.4 506.8l-.5 1.8M1352.4 474.4l-1.2 1M1438.4 524.4l-1.2 1M1218.5 575.1l.8 2.1M1402.1 437.7l.9 1.1M1271.3 555.6l-.9 .4M1368 409.5l-.3 1.6M1304.8 521.3l.1 .8M1261.7 427.6l1 .3M1467.4 430.6l-.7 1.4M1296.1 500.2l1.9 1.2M1411.3 583.1l1.4 .8M1272.6 425.6l1.6 1.1M1298.5 412.4l1 1.8M1275.5 442.7l0 1.1M1417.8 588.6l-.4 1.2" stroke="#0c6ee6"/>
<path d="M1281.1 495.6l.8 0M1265.5 497.9l1.5 0M1439.8 576.3l-.5 1.9M1391.2 456.9l.9 .7M1294 537.5l1.1 .1M1462.8 530l1.4 .7M1448 595.3l.9 .6M1212.3 605l1.9 .9M1358.3 525.2l1.2 .4M1441.9 453.6l1.1 .2M1242.2 419.8l-.7 2.1M1361.5 581l.1 1M1281.8 551.9l0 .9M1422.1 611l1.2 .8M1257.3 505.5l1.1 1.1M1333.4 424.9l-.4 1.8M1222.5 554.7l0 1.6M1245.9 441.7l-1 1.6M1408.8 456.9l-1.5 1.4M1449.2 498.7l-.4 .7M1461.4 428.3l-1.5 .1M1351.8 486.4l-1.9 .7M1246.9 540.6l-1.2 1.4M1454.2 458.8l1.2 1.9M1431.1 478.3l1.2 1.5M1386.3 561.2l1.1 1.1M1290.2 477.5l-.2 1.1M1397.3 576.6l0 .9M1369.6 564.7l-.8 .3M1412.7 542.3l1.8 .9" stroke="#10a2e6"/>
<path d="M1225.9 532l-.3 1.2M1290.9 550l-1.3 .4M1276.7 594.8l1.7 .8M1259.1 457.2l1.3 1.5M1455.6 551.6l2.2 .2M1470.6 584.2l.2 1.3M1470.1 480.5l-1.6 .5M1354 592.8l.9 .7M1305.8 439.9l-1.2 .1M1395.2 480.2l-1.6 .9M1430.3 525.7l-.9 .6M1453 521.2l-1.3 1.3M1296.8 451.1l.6 .9M1270.3 413.6l.5 1.8M1270.5 448.8l.1 .9M1359 535.8l.4 .6M1399.4 411.3l-.7 1.4M1448.5 488.7l-.9 1.1M1299.6 484.1l0 1M1409.6 475l-1.2 1M1437.3 427.9l-.2 1.2M1307.6 509.9l-.2 1.7M1308.7 466.7l1.5 1.2M1338 516.1l.5 .9M1408.5 603.8l.7 1.8" stroke="#1cdcc4"/>
</g></g>
<text x="90" y="429.6" font-size="23.4"><tspan fill="#12aa4e">Ki67</tspan> <tspan fill="#0e78c8">Hoechst</tspan></text>
<rect x="1444.6" y="598.4" width="32.4" height="4" fill="#fff" />
</g>
<g id="p_c">
<text x="6.8" y="668.6" font-size="29" font-weight="bold">c</text>
<rect x="130.4" y="783.44" width="41.7" height="177.26" fill="#a1a0a5" />
<path d="M151.25 783.44V753.99M140.95 753.99h20.6" stroke="#a1a0a5" stroke-width="1.9" fill="none"/>
<rect x="203.2" y="794.41" width="41.7" height="166.29" fill="#ff0066" />
<path d="M224.05 794.41V748.79M213.75 748.79h20.6" stroke="#ff0066" stroke-width="1.9" fill="none"/>
<rect x="276.3" y="777.66" width="41.7" height="183.04" fill="#138080" />
<path d="M297.15 777.66V743.6M286.85 743.6h20.6" stroke="#138080" stroke-width="1.9" fill="none"/>
<rect x="348.9" y="838.87" width="41.7" height="121.83" fill="#0000fe" />
<path d="M369.75 838.87V813.46M359.45 813.46h20.6" stroke="#0000fe" stroke-width="1.9" fill="none"/>
<rect x="421.9" y="849.26" width="41.7" height="111.44" fill="#aa66ff" />
<path d="M442.75 849.26V833.09M432.45 833.09h20.6" stroke="#aa66ff" stroke-width="1.9" fill="none"/>
<rect x="494.3" y="753.99" width="41.7" height="206.71" fill="#66ccff" />
<path d="M515.15 753.99V733.78M504.85 733.78h20.6" stroke="#66ccff" stroke-width="1.9" fill="none"/>
<path d="M109.8 672V960.7H557.5" stroke="#000" stroke-width="2.2" fill="none" stroke-linecap="square"/>
<path d="M109.8 960.7h-8.4M109.8 931.83h-4.4M109.8 902.96h-8.4M109.8 874.09h-4.4M109.8 845.22h-8.4M109.8 816.35h-4.4M109.8 787.48h-8.4M109.8 758.61h-4.4M109.8 729.74h-8.4M109.8 700.87h-4.4M109.8 672h-8.4M295.9 960.7v8.6M514.8 960.7v8.6" stroke="#000" stroke-width="2.1" fill="none"/>
<text x="98.2" y="965.9" font-size="15" text-anchor="end">0</text>
<text x="98.2" y="908.16" font-size="15" text-anchor="end">10</text>
<text x="98.2" y="850.42" font-size="15" text-anchor="end">20</text>
<text x="98.2" y="792.68" font-size="15" text-anchor="end">30</text>
<text x="98.2" y="734.94" font-size="15" text-anchor="end">40</text>
<text x="98.2" y="677.2" font-size="15" text-anchor="end">50</text>
<text transform="translate(73.2 817.5) rotate(-90) scale(.868 1)" font-size="17.6" text-anchor="middle">Ki67 Positive Nuclei (%)</text>
<text x="295.2" y="985.1" font-size="15.8" text-anchor="middle">poly(CEP)</text>
<text x="513.6" y="985.1" font-size="15.8" text-anchor="middle">Media only</text>
<g><circle cx="151.1" cy="745" r="2.9" fill="#000"/><circle cx="151.1" cy="764.5" r="2.9" fill="#000"/><circle cx="151.1" cy="788.7" r="2.9" fill="#000"/><circle cx="151.1" cy="796.3" r="2.9" fill="#000"/><circle cx="151.1" cy="821.7" r="2.9" fill="#000"/><circle cx="223.9" cy="715.1" r="2.9" fill="#000"/><circle cx="223.9" cy="802.6" r="2.9" fill="#000"/><circle cx="218.3" cy="809.4" r="2.9" fill="#000"/><circle cx="229.4" cy="813.8" r="2.9" fill="#000"/><circle cx="223.9" cy="829.3" r="2.9" fill="#000"/><circle cx="296.6" cy="719.9" r="2.9" fill="#000"/><circle cx="296.6" cy="776.8" r="2.9" fill="#000"/><circle cx="296.6" cy="786.7" r="2.9" fill="#000"/><circle cx="291" cy="801.8" r="2.9" fill="#000"/><circle cx="302.2" cy="801.8" r="2.9" fill="#000"/><circle cx="369.4" cy="803.4" r="2.9" fill="#000"/><circle cx="369.4" cy="831.7" r="2.9" fill="#000"/><circle cx="363.8" cy="839.6" r="2.9" fill="#000"/><circle cx="375" cy="845.2" r="2.9" fill="#000"/><circle cx="369.4" cy="873.8" r="2.9" fill="#000"/><circle cx="442.2" cy="829.3" r="2.9" fill="#000"/><circle cx="442.2" cy="838" r="2.9" fill="#000"/><circle cx="442.2" cy="846" r="2.9" fill="#000"/><circle cx="436.6" cy="865.4" r="2.9" fill="#000"/><circle cx="448.1" cy="864.7" r="2.9" fill="#000"/><circle cx="515" cy="723.5" r="2.9" fill="#000"/><circle cx="509.3" cy="754.9" r="2.9" fill="#000"/><circle cx="520.5" cy="750.1" r="2.9" fill="#000"/><circle cx="515" cy="760.9" r="2.9" fill="#000"/><circle cx="515" cy="780.8" r="2.9" fill="#000"/></g>
<circle cx="369.8" cy="729.9" r="0.9" fill="#3a7bd5"/>
<text x="115.7" y="730.4" font-size="13.8"><tspan font-style="italic">P</tspan> = 0.6452</text>
<text x="188.1" y="701.3" font-size="13.8"><tspan font-style="italic">P</tspan> = 0.3201</text>
<text x="261.2" y="705.7" font-size="13.8"><tspan font-style="italic">P</tspan> = 0.8209</text>
<text x="333.7" y="789.2" font-size="13.8"><tspan font-style="italic">P</tspan> = 0.0020</text>
<text x="406.9" y="814.7" font-size="13.8"><tspan font-style="italic">P</tspan> = 0.0005</text>
<rect x="105" y="1002.2" width="19.6" height="6.6" fill="#a1a0a5" />
<text x="135" y="1009.8" font-size="12.9" >0.001 wt%</text>
<rect x="207.6" y="1002.2" width="19.6" height="6.6" fill="#ff0066" />
<text x="237.2" y="1009.8" font-size="12.9" >0.01 wt%</text>
<rect x="303" y="1002.2" width="19.6" height="6.6" fill="#138080" />
<text x="332.2" y="1009.8" font-size="12.9" >0.1 wt%</text>
<rect x="388.2" y="1002.2" width="19.6" height="6.6" fill="#0000fe" />
<text x="418" y="1009.8" font-size="12.9" >0.5 wt%</text>
<rect x="475.6" y="1002.2" width="19.6" height="6.6" fill="#aa66ff" />
<text x="506" y="1009.8" font-size="12.9" >1.0 wt%</text>
<text x="208" y="1030.2" font-size="12.9" text-anchor="middle">Below CMC</text>
<text x="422" y="1029.8" font-size="13.1" text-anchor="middle">Above CMC</text>
<path d="M104.3 1026.6V1035.6H292.2V1026.6M297.9 1026.6V1035.6H553.1V1026.6" stroke="#333" stroke-width="1" fill="none"/>
</g>
<g id="p_d">
<text x="589" y="672.1" font-size="29" font-weight="bold">d</text>
<rect x="655.4" y="686.7" width="357.2" height="307.5" fill="none" stroke="#5a5a5a" stroke-width="0.8"/>
<path d="M655.4 994.2h3.4M1012.6 994.2h-3.4M655.4 963.45h3.4M1012.6 963.45h-3.4M655.4 932.7h3.4M1012.6 932.7h-3.4M655.4 901.95h3.4M1012.6 901.95h-3.4M655.4 871.2h3.4M1012.6 871.2h-3.4M655.4 840.45h3.4M1012.6 840.45h-3.4M655.4 809.7h3.4M1012.6 809.7h-3.4M655.4 778.95h3.4M1012.6 778.95h-3.4M655.4 748.2h3.4M1012.6 748.2h-3.4M655.4 717.45h3.4M1012.6 717.45h-3.4M655.4 686.7h3.4M1012.6 686.7h-3.4M655.4 994.2v-3.4M655.4 686.7v3.4M726.84 994.2v-3.4M726.84 686.7v3.4M798.28 994.2v-3.4M798.28 686.7v3.4M869.72 994.2v-3.4M869.72 686.7v3.4M941.16 994.2v-3.4M941.16 686.7v3.4M1012.6 994.2v-3.4M1012.6 686.7v3.4" stroke="#5a5a5a" stroke-width="0.8" fill="none"/>
<g font-size="11.8" fill="#3a3a3a"><text text-anchor="end" transform="translate(650.8 998.8) scale(.9 1)">0</text><text text-anchor="end" transform="translate(650.8 968.05) scale(.9 1)">10</text><text text-anchor="end" transform="translate(650.8 937.3) scale(.9 1)">20</text><text text-anchor="end" transform="translate(650.8 906.55) scale(.9 1)">30</text><text text-anchor="end" transform="translate(650.8 875.8) scale(.9 1)">40</text><text text-anchor="end" transform="translate(650.8 845.05) scale(.9 1)">50</text><text text-anchor="end" transform="translate(650.8 814.3) scale(.9 1)">60</text><text text-anchor="end" transform="translate(650.8 783.55) scale(.9 1)">70</text><text text-anchor="end" transform="translate(650.8 752.8) scale(.9 1)">80</text><text text-anchor="end" transform="translate(650.8 722.05) scale(.9 1)">90</text><text text-anchor="end" transform="translate(650.8 691.3) scale(.9 1)">100</text><text text-anchor="middle" transform="translate(655.4 1011.1) scale(.9 1)">0</text><text text-anchor="middle" transform="translate(726.84 1011.1) scale(.9 1)">20</text><text text-anchor="middle" transform="translate(798.28 1011.1) scale(.9 1)">40</text><text text-anchor="middle" transform="translate(869.72 1011.1) scale(.9 1)">60</text><text text-anchor="middle" transform="translate(941.16 1011.1) scale(.9 1)">80</text><text text-anchor="middle" transform="translate(1012.6 1011.1) scale(.9 1)">100</text></g>
<text font-size="16.5" text-anchor="middle" transform="translate(619.6 835.5) rotate(-90)">Mean confluence (%)</text>
<text x="841.8" y="1041" font-size="16.5" text-anchor="middle">Time point (h)</text>
<path d="M655.4 943.46L698.26 937.31L730.41 915.79L762.56 905.03L801.85 878.89L830.43 857.36L869.72 808.16L898.3 768.19L919.73 757.43M655.4 937.31V949.61M655.4 937.31H658.4M655.4 949.61H658.4M698.26 931.16V943.46M695.26 931.16H701.26M695.26 943.46H701.26M730.41 903.49V928.09M727.41 903.49H733.41M727.41 928.09H733.41M762.56 892.73V917.33M759.56 892.73H765.56M759.56 917.33H765.56M801.85 860.44V897.34M798.85 860.44H804.85M798.85 897.34H804.85M830.43 835.84V878.89M827.43 835.84H833.43M827.43 878.89H833.43M869.72 783.56V832.76M866.72 783.56H872.72M866.72 832.76H872.72M898.3 746.66V789.71M895.3 746.66H901.3M895.3 789.71H901.3M919.73 735.9V778.95M916.73 735.9H922.73M916.73 778.95H922.73" stroke="#3c8fb4" stroke-width="0.9" fill="none"/>
<path d="M655.4 945L698.26 937.93L730.41 917.33L762.56 900.41L801.85 880.43L830.43 861.98L869.72 812.78L898.3 771.26L919.73 757.43M655.4 938.85V951.15M655.4 938.85H658.4M655.4 951.15H658.4M698.26 933.32V942.54M695.26 933.32H701.26M695.26 942.54H701.26M730.41 914.25V920.4M727.41 914.25H733.41M727.41 920.4H733.41M762.56 891.19V909.64M759.56 891.19H765.56M759.56 909.64H765.56M801.85 871.2V889.65M798.85 871.2H804.85M798.85 889.65H804.85M830.43 854.29V869.66M827.43 854.29H833.43M827.43 869.66H833.43M869.72 802.01V823.54M866.72 802.01H872.72M866.72 823.54H872.72M898.3 760.5V782.03M895.3 760.5H901.3M895.3 782.03H901.3M919.73 748.2V766.65M916.73 748.2H922.73M916.73 766.65H922.73" stroke="#c98a6a" stroke-width="0.9" fill="none"/>
<path d="M655.4 936.39L698.26 931.16L730.41 908.1L762.56 895.8L801.85 871.2L830.43 855.83L869.72 806.62L898.3 766.65L919.73 755.89M655.4 931.78V941M655.4 931.78H658.4M655.4 941H658.4M698.26 926.55V935.78M695.26 926.55H701.26M695.26 935.78H701.26M730.41 903.49V912.71M727.41 903.49H733.41M727.41 912.71H733.41M762.56 891.19V900.41M759.56 891.19H765.56M759.56 900.41H765.56M801.85 866.59V875.81M798.85 866.59H804.85M798.85 875.81H804.85M830.43 849.68V861.98M827.43 849.68H833.43M827.43 861.98H833.43M869.72 802.01V811.24M866.72 802.01H872.72M866.72 811.24H872.72M898.3 762.04V771.26M895.3 762.04H901.3M895.3 771.26H901.3M919.73 752.81V758.96M916.73 752.81H922.73M916.73 758.96H922.73" stroke="#e8c860" stroke-width="0.9" fill="none"/>
<path d="M655.4 937.93L698.26 933.32L730.41 917.94L762.56 908.1L801.85 888.11L830.43 885.04L869.72 851.21L898.3 826L919.73 822.92M655.4 934.85V941M655.4 934.85H658.4M655.4 941H658.4M698.26 931.78V934.85M695.26 931.78H701.26M695.26 934.85H701.26M730.41 914.87V921.02M727.41 914.87H733.41M727.41 921.02H733.41M762.56 905.03V911.18M759.56 905.03H765.56M759.56 911.18H765.56M801.85 886.58V889.65M798.85 886.58H804.85M798.85 889.65H804.85M830.43 882.88V887.19M827.43 882.88H833.43M827.43 887.19H833.43M869.72 847.52V854.9M866.72 847.52H872.72M866.72 854.9H872.72M898.3 819.85V832.15M895.3 819.85H901.3M895.3 832.15H901.3M919.73 811.85V833.99M916.73 811.85H922.73M916.73 833.99H922.73" stroke="#a878b8" stroke-width="0.9" fill="none"/>
<path d="M655.4 937.31L698.26 932.7L730.41 921.02L762.56 914.87L801.85 900.41L830.43 901.34L869.72 891.8L898.3 876.74L919.73 877.97M655.4 931.16V943.46M655.4 931.16H658.4M655.4 943.46H658.4M698.26 926.55V938.85M695.26 926.55H701.26M695.26 938.85H701.26M730.41 913.33V928.7M727.41 913.33H733.41M727.41 928.7H733.41M762.56 905.64V924.09M759.56 905.64H765.56M759.56 924.09H765.56M801.85 890.57V910.25M798.85 890.57H804.85M798.85 910.25H804.85M830.43 897.03V905.64M827.43 897.03H833.43M827.43 905.64H833.43M869.72 883.19V900.41M866.72 883.19H872.72M866.72 900.41H872.72M898.3 856.13V897.34M895.3 856.13H901.3M895.3 897.34H901.3M919.73 855.83V900.11M916.73 855.83H922.73M916.73 900.11H922.73" stroke="#a4c47c" stroke-width="0.9" fill="none"/>
<path d="M655.4 941.93L698.26 937.31L730.41 916.4L762.56 909.64L801.85 883.5L830.43 865.05L869.72 818.93L898.3 771.26L919.73 760.5M655.4 934.24V949.61M655.4 934.24H658.4M655.4 949.61H658.4M698.26 926.55V948.08M695.26 926.55H701.26M695.26 948.08H701.26M730.41 907.18V925.63M727.41 907.18H733.41M727.41 925.63H733.41M762.56 900.41V918.86M759.56 900.41H765.56M759.56 918.86H765.56M801.85 869.66V897.34M798.85 869.66H804.85M798.85 897.34H804.85M830.43 849.68V880.43M827.43 849.68H833.43M827.43 880.43H833.43M869.72 803.55V834.3M866.72 803.55H872.72M866.72 834.3H872.72M898.3 752.81V789.71M895.3 752.81H901.3M895.3 789.71H901.3M919.73 740.51V780.49M916.73 740.51H922.73M916.73 780.49H922.73" stroke="#7fd0ec" stroke-width="0.9" fill="none"/>
<rect x="664.4" y="695.7" width="92.1" height="135.2" fill="#fff" stroke="#4a4a4a" stroke-width="0.8"/>
<path d="M667.7 708.9H700.8M684.3 700.9V716.9M681.3 700.9h6M681.3 716.9h6" stroke="#3c8fb4" stroke-width="0.9" fill="none"/>
<text transform="translate(702.8 715.8) scale(.86 1)" font-size="17.6" fill="#1a1a1a">0.001</text>
<path d="M667.7 730.78H700.8M684.3 722.78V738.78M681.3 722.78h6M681.3 738.78h6" stroke="#c98a6a" stroke-width="0.9" fill="none"/>
<text transform="translate(702.8 737.68) scale(.86 1)" font-size="17.6" fill="#1a1a1a">0.01</text>
<path d="M667.7 752.66H700.8M684.3 744.66V760.66M681.3 744.66h6M681.3 760.66h6" stroke="#e8c860" stroke-width="0.9" fill="none"/>
<text transform="translate(702.8 759.56) scale(.86 1)" font-size="17.6" fill="#1a1a1a">0.1</text>
<path d="M667.7 774.54H700.8M684.3 766.54V782.54M681.3 766.54h6M681.3 782.54h6" stroke="#a878b8" stroke-width="0.9" fill="none"/>
<text transform="translate(702.8 781.44) scale(.86 1)" font-size="17.6" fill="#1a1a1a">0.5</text>
<path d="M667.7 796.42H700.8M684.3 788.42V804.42M681.3 788.42h6M681.3 804.42h6" stroke="#a4c47c" stroke-width="0.9" fill="none"/>
<text transform="translate(702.8 803.32) scale(.86 1)" font-size="17.6" fill="#1a1a1a">1</text>
<path d="M667.7 818.3H700.8M684.3 810.3V826.3M681.3 810.3h6M681.3 826.3h6" stroke="#7fd0ec" stroke-width="0.9" fill="none"/>
<text transform="translate(702.8 825.2) scale(.86 1)" font-size="17.6" fill="#1a1a1a">Control</text>
<line x1="935.7" y1="734.8" x2="935.7" y2="781.8" stroke="#000" stroke-width="1.5" />
<text x="946" y="764.3" font-size="14.5" font-style="italic">ns</text>
<text x="928.5" y="826.5" font-size="16.4"><tspan font-style="italic">P</tspan> = 0.0017</text>
<text x="928.5" y="882.9" font-size="16.4"><tspan font-style="italic">P</tspan> &lt; 0.0001</text>
</g>
<g id="p_e">
<text x="1049.2" y="669.5" font-size="29" font-weight="bold">e</text>
<rect x="1165.9" y="926.09" width="32.6" height="23.81" fill="#a1a0a5" />
<path d="M1182.2 926.09V922.98M1174.2 922.98h16" stroke="#a1a0a5" stroke-width="1.5" fill="none"/>
<rect x="1214.55" y="927.94" width="32.6" height="21.96" fill="#ff0066" />
<path d="M1230.85 927.94V922.27M1222.85 922.27h16" stroke="#ff0066" stroke-width="1.5" fill="none"/>
<rect x="1263.2" y="923.97" width="32.6" height="25.93" fill="#138080" />
<path d="M1279.5 923.97V917.59M1271.5 917.59h16" stroke="#138080" stroke-width="1.5" fill="none"/>
<rect x="1311.85" y="926.66" width="32.6" height="23.24" fill="#0000fe" />
<path d="M1328.15 926.66V919.01M1320.15 919.01h16" stroke="#0000fe" stroke-width="1.5" fill="none"/>
<rect x="1360.5" y="926.94" width="32.6" height="22.96" fill="#aa66ff" />
<path d="M1376.8 926.94V920.43M1368.8 920.43h16" stroke="#aa66ff" stroke-width="1.5" fill="none"/>
<rect x="1409.15" y="921.99" width="32.6" height="27.91" fill="#66ccff" />
<path d="M1425.45 924.82V916.74M1417.45 916.74h16M1417.45 924.82h16" stroke="#000" stroke-width="1.7" fill="none"/>
<rect x="1457.8" y="703.6" width="32.6" height="85.3" fill="#b4a774" />
<rect x="1457.8" y="807.8" width="32.6" height="142.1" fill="#b4a774" />
<path d="M1474.1 695.9V711.5M1466.1 695.9h16M1466.1 711.5h16" stroke="#9a9a9a" stroke-width="1.5" fill="none"/>
<path d="M1150.6 692.8V789M1150.6 812V951.1M1139.5 949.9H1509" stroke="#000" stroke-width="2.5" fill="none"/>
<path d="M1144.2 783.4L1156.4 796M1144.2 800L1152.6 808.2" stroke="#000" stroke-width="2.5" fill="none"/>
<path d="M1150.6 703.6h-10.6M1150.6 722.48h-5.8M1150.6 741.35h-10.6M1150.6 760.23h-5.8M1150.6 779.1h-10.6M1150.6 843.62h-5.8M1150.6 879.05h-10.6M1150.6 914.48h-5.8M1150.6 949.9h-10.6M1182.2 949.9v10.4M1230.85 949.9v10.4M1279.5 949.9v10.4M1328.15 949.9v10.4M1376.8 949.9v10.4M1425.45 949.9v10.4M1474.1 949.9v10.4" stroke="#000" stroke-width="2.5" fill="none"/>
<text transform="translate(1137.2 709.8) scale(.93 1)" font-size="19.7" text-anchor="end">100</text>
<text transform="translate(1137.2 747.55) scale(.93 1)" font-size="19.7" text-anchor="end">80</text>
<text transform="translate(1137.2 785.3) scale(.93 1)" font-size="19.7" text-anchor="end">60</text>
<text transform="translate(1137.2 814.4) scale(.93 1)" font-size="19.7" text-anchor="end">10</text>
<text transform="translate(1137.2 885.25) scale(.93 1)" font-size="19.7" text-anchor="end">5</text>
<text transform="translate(1137.2 956.1) scale(.93 1)" font-size="19.7" text-anchor="end">0</text>
<text font-size="20.8" text-anchor="middle" transform="translate(1096 821.8) rotate(-90)">LDH Release (%)</text>
<text font-size="20.2" text-anchor="end" transform="translate(1189.4 980.2) rotate(-45)">0.001 wt%</text>
<text font-size="20.2" text-anchor="end" transform="translate(1238.05 980.2) rotate(-45)">0.01 wt%</text>
<text font-size="20.2" text-anchor="end" transform="translate(1286.7 980.2) rotate(-45)">0.1 wt%</text>
<text font-size="20.2" text-anchor="end" transform="translate(1335.35 980.2) rotate(-45)">0.5 wt%</text>
<text font-size="20.2" text-anchor="end" transform="translate(1384 980.2) rotate(-45)">1 wt%</text>
<text font-size="20.2" text-anchor="end" transform="translate(1432.65 980.2) rotate(-45)">Media only</text>
<text font-size="20.2" text-anchor="end" transform="translate(1481.3 980.2) rotate(-45)">Lysis</text>
<g><circle cx="1169.9" cy="929.7" r="3.4" fill="#000"/><circle cx="1182.3" cy="923.5" r="3.4" fill="#000"/><circle cx="1194.5" cy="925.9" r="3.4" fill="#000"/><circle cx="1224" cy="923.1" r="3.4" fill="#000"/><circle cx="1224" cy="933.7" r="3.4" fill="#000"/><circle cx="1237.7" cy="927.2" r="3.4" fill="#000"/><circle cx="1272.5" cy="929" r="3.4" fill="#000"/><circle cx="1279.3" cy="916.9" r="3.4" fill="#000"/><circle cx="1286.5" cy="925" r="3.4" fill="#000"/><circle cx="1321" cy="933.4" r="3.4" fill="#000"/><circle cx="1328.1" cy="918.8" r="3.4" fill="#000"/><circle cx="1335.3" cy="927.2" r="3.4" fill="#000"/><circle cx="1369.4" cy="933.4" r="3.4" fill="#000"/><circle cx="1369.4" cy="920.7" r="3.4" fill="#000"/><circle cx="1383.4" cy="927.5" r="3.4" fill="#000"/><circle cx="1413" cy="923.5" r="3.4" fill="#000"/><circle cx="1425.4" cy="916.3" r="3.4" fill="#000"/><circle cx="1437.5" cy="922.8" r="3.4" fill="#000"/><circle cx="1473.9" cy="695" r="3.4" fill="#000"/><circle cx="1466.7" cy="707.1" r="3.4" fill="#000"/><circle cx="1480.7" cy="707.1" r="3.4" fill="#000"/></g>
</g>
<g id="p_fp">
<text x="5.4" y="1114" font-size="30" font-weight="bold">f</text>
<text x="352.6" y="1106" font-size="29.7" text-anchor="middle">- TNT</text>
<text x="992.8" y="1104.4" font-size="29.7" text-anchor="middle">+ TNT</text>
<path d="M169 1138.5V1120Q169 1115.5 173.5 1115.5H572.3Q576.8 1115.5 576.8 1120V1138.5M792 1138.5V1120Q792 1115.5 796.5 1115.5H1194.9Q1199.4 1115.5 1199.4 1120V1138.5" stroke="#000" stroke-width="1.8" fill="none"/>
<text x="167.4" y="1166.9" font-size="29.7" text-anchor="middle">Media</text>
<text x="373.4" y="1166.9" font-size="29.7" text-anchor="middle">0.1wt%</text>
<text x="581.4" y="1166.9" font-size="29.7" text-anchor="middle">1.0wt%</text>
<text x="788.9" y="1166.9" font-size="29.7" text-anchor="middle">Media</text>
<text x="995" y="1166.9" font-size="29.7" text-anchor="middle">0.1wt%</text>
<text x="1200.8" y="1166.9" font-size="29.7" text-anchor="middle">1.0wt%</text>
<text font-size="29.7" text-anchor="middle" transform="translate(58.6 1257) rotate(-90)">0 h</text>
<text font-size="29.7" text-anchor="middle" transform="translate(58.6 1420) rotate(-90)">12 h</text>
<text font-size="29.7" text-anchor="middle" transform="translate(58.6 1589) rotate(-90)">24 h</text>
<text font-size="29.7" text-anchor="middle" transform="translate(58.6 1754) rotate(-90)">36 h</text>
<g clip-path="url(#fc)">
<rect x="60" y="1170" width="1250" height="670" fill="#89897d"/>
<rect x="60" y="1170" width="1250" height="670" filter="url(#nz)" opacity="0.2"/>
<g fill="#8381e9" stroke="#f6f6f2" stroke-width="1.3" stroke-linejoin="round">
<path d="M108.7 1173.7L109.1 1176.7L109.2 1179.7L108.9 1182.7L110 1185.6L110.2 1188.6L110.4 1191.7L111.4 1194.6L111.2 1197.6L111.5 1200.6L111.6 1203.8L111.7 1206.9L113.3 1209.9L113.2 1213.1L114 1216.2L113 1219.5L113.6 1222.6L114.3 1225.7L115.4 1228.8L114 1232.1L114.4 1235.3L115.3 1238.4L115.7 1241.6L116.8 1244.7L116.5 1247.9L117.8 1250.8L117.4 1254L118.7 1256.9L118.9 1259.9L119.3 1262.9L119.3 1266L119.6 1269.2L118.2 1272.2L117.7 1275.2L116.5 1278.2L116.5 1281.3L116.1 1284.6L115.5 1287.8L115.4 1291.1L114.7 1294.3L114.7 1297.6L114.3 1300.8L114.6 1304L113.1 1307.1L113 1310.3L113.2 1313.5L113.3 1316.7L113.9 1319.9L113.9 1323L113.7 1326.2L114 1329.4L112.6 1332.5L113.2 1335.7L112.9 1338.9L198.3 1338.9L197.6 1335.7L196.7 1332.5L197.1 1329.1L196.4 1325.9L193.6 1323.3L190.3 1321.7L189.6 1318.2L190.3 1314.7L193.4 1314.4L196.4 1313.3L196.1 1309.8L196 1306.3L197.5 1302.9L197.8 1299.5L197.7 1296L197.8 1292.5L198.6 1289.1L197.7 1285.8L198.8 1282.5L197.8 1279.1L198.3 1275.8L199.2 1272.3L199.1 1268.8L199.3 1265.3L199.7 1261.8L200.1 1258.6L198.7 1255.4L199.8 1252.1L199.5 1248.8L199 1245.6L198.3 1242.4L199.1 1239.2L198.1 1236L197.9 1232.8L199.1 1229.7L199.7 1226.5L199.5 1223.3L199.2 1220.1L198.5 1216.9L198.7 1213.7L199.6 1210.5L198.9 1207.4L197.7 1204.2L198.5 1201L198.3 1197.8L197.5 1194.8L198.7 1191.8L199 1188.8L197.4 1185.8L197.2 1182.8L198.1 1179.7L197.2 1176.7L197.8 1173.7Z"/>
<path d="M308.5 1173.7L309.7 1176.6L308.5 1179.8L310.3 1182.7L310.6 1185.7L310.1 1188.8L311.4 1191.8L311.8 1194.8L311.9 1197.8L312.9 1200.9L313.2 1204.1L312.6 1207.4L313.5 1210.5L313.1 1213.8L313.8 1216.9L313.8 1220.1L314.3 1223.1L313.8 1226.2L315 1229.1L315.2 1232.2L315 1235.3L316.1 1238.2L314.4 1241.3L311.9 1243.8L312.5 1246.8L311.2 1249.8L311.3 1252.8L312.3 1255.8L312.4 1258.8L311.9 1261.8L311.2 1265.1L310.6 1268.3L311.7 1271.6L310.2 1274.8L310 1278L310.5 1281.3L310 1284.6L310 1287.8L310.2 1291.1L310 1294.4L308 1297.5L308.5 1300.8L308.6 1304.1L307.4 1307.3L307.9 1310.6L306.5 1313.7L306.5 1317L306.3 1320.3L306.9 1323.6L307.4 1326.8L306.6 1330.2L308 1333.4L308 1336.7L307.7 1340L394.6 1340L394 1336.4L394.6 1332.9L395.4 1329.4L395.4 1325.9L394.4 1322.6L394.3 1319.2L394.2 1315.9L393.8 1312.5L394 1309.2L393.2 1306L393.3 1302.8L393.6 1299.6L394.3 1296.4L392.5 1293.3L393.6 1290.1L393.2 1286.9L392.9 1283.4L393.5 1279.9L393.3 1276.5L394.6 1273L393 1269.5L394 1266L392.3 1263.4L391.2 1260.5L390.7 1257.4L392.5 1254.5L392.7 1251.5L392.8 1248.4L392.2 1245.4L392.6 1242.4L392.3 1239.2L392.5 1236L392 1232.8L392.2 1229.6L393.3 1226.5L393.7 1223.3L393.2 1220.1L392.9 1216.9L393.1 1213.7L393.3 1210.5L393.3 1207.3L392.5 1204.2L392.6 1201L392 1197.8L393.1 1194.9L392.9 1191.8L391.7 1188.7L393 1185.8L392.5 1182.7L392.2 1179.7L392.9 1176.7L393.2 1173.7Z"/>
<path d="M519 1173.7L518.7 1176.8L519.9 1179.8L519.7 1182.9L519.9 1186L520.8 1189L521.1 1192L521.8 1195L521.7 1198.3L521 1201.4L520.6 1204.6L521.2 1207.8L519.9 1210.9L519 1214L519.5 1217.3L518.1 1220.9L517.6 1224.7L517.3 1228.4L518.1 1231.7L518.1 1235L519 1238.2L519.8 1241.4L519.7 1244.8L520.9 1247.9L521.9 1251.2L521 1254.6L522.6 1257.9L521.9 1261.3L522.3 1264.6L521.8 1268L521.7 1271.4L520.3 1274.6L520.1 1278L519.5 1281.3L519.6 1284.6L519.2 1287.9L520.7 1291L521.3 1294.3L521 1297.5L520.9 1300.8L520.2 1304.1L520.7 1307.6L520.3 1310.9L518.6 1314.1L519 1317.5L518.8 1320.7L519.2 1323.9L518.5 1327.2L519.6 1330.4L519.1 1333.6L520 1336.8L519.5 1340L598.3 1340L599 1336.7L599 1333.4L598 1330.1L599.5 1326.9L598.8 1323.6L598.9 1320.3L600 1316.9L600.7 1313.5L599.8 1309.8L600.8 1306.4L600.3 1302.8L599 1299.5L597.9 1296L597.5 1292.5L598.1 1289.3L596.4 1286.2L597.7 1283L596.6 1279.9L599.4 1278.5L600 1274.8L599.1 1271.1L598.9 1267.4L597.8 1264.2L597.8 1261L598.5 1257.7L597.9 1254.4L597.5 1251.2L597.5 1247.9L597.8 1244.8L598.4 1241.6L598.5 1238.4L598.3 1235.2L599.1 1232.1L599.1 1228.9L598.9 1225.7L597.8 1222.5L598 1219.2L597.5 1216L597.3 1212.7L597.7 1209.4L597.5 1206.2L598.7 1203L598.9 1199.6L599 1196.1L599.9 1192.9L600.2 1189.5L599.2 1186.4L598.7 1183.3L598.5 1180.1L598.8 1176.8L598.3 1173.7Z"/>
<path d="M736.6 1174.2L737.7 1177.2L737 1180.4L737.6 1183.4L737.5 1186.5L738 1189.5L735 1192.1L732.5 1195L732.6 1198.4L733 1201.7L734.2 1204.9L735.8 1207.9L736 1211.3L736.6 1214.5L737.3 1217.7L737.7 1220.9L736.9 1224.1L736.6 1227.3L737.6 1230.4L737.5 1233.6L737.2 1236.8L737.1 1240.2L736.1 1243.4L736 1246.8L735.4 1250.1L735.2 1253.5L735.5 1256.7L736.8 1259.7L736.8 1263L738 1266L738.6 1269.1L741.1 1271.3L741.6 1274.4L739.1 1277.5L738 1281.3L737.4 1284.6L738.2 1287.9L737.4 1291.1L736.9 1294.3L736.1 1297.5L736.6 1300.8L737 1303.8L736.8 1306.9L736.4 1309.9L736.7 1312.9L736.5 1315.9L737.5 1318.9L735.8 1321.7L736.1 1324.7L736 1327.8L737 1330.8L736.3 1333.9L736.4 1337L737.2 1340L820.1 1340L819.7 1336.4L820.4 1332.9L820.3 1329.4L820.7 1325.9L818.9 1321.8L817.9 1317.5L817.9 1314.1L817.1 1310.8L817.2 1307.4L817.1 1304.1L816 1300.8L815.3 1297.5L816.2 1294.3L815.6 1291L816.2 1287.8L816 1284.6L816.8 1281.3L816.9 1277.9L817.8 1274.6L818.9 1271.4L819.4 1268.1L819.3 1264.6L818.7 1261.6L819.4 1258.5L819.5 1255.4L818.3 1252.4L818.7 1249.3L816.4 1246.6L812.8 1245.5L810.4 1242.9L811.2 1239.9L810.4 1236.8L813.6 1235.4L816.8 1234L816.5 1230.7L817.1 1227.5L817.5 1224.3L818.3 1221.1L818 1217.8L817.9 1214.5L817.6 1211.3L817.8 1208.1L819.2 1205L818.7 1201.8L819.4 1198.6L819 1195.4L820.1 1192.3L819.1 1189.3L819.1 1186.3L820.2 1183.2L819.2 1180.3L819.2 1177.3L819.3 1174.2Z"/>
<path d="M936.8 1175.3L936.9 1178.6L937.7 1181.7L937.8 1185L937.3 1188.3L937.4 1191.5L939 1194.6L938.7 1197.8L941.5 1199.8L944.8 1200.6L944.3 1206.2L941.7 1208.5L940.5 1211.7L938.7 1214.5L938.8 1217.7L939.7 1220.8L939.3 1223.9L939.5 1227.1L942.9 1229.8L941.5 1233.1L939.9 1236.3L938.7 1239.6L939.2 1242.9L937.1 1245.8L937.5 1249.1L937.3 1252.3L936.2 1255.4L936.2 1258.7L935.9 1261.8L935.7 1265.1L935.1 1268.3L936 1271.6L934.9 1274.8L934.9 1278.1L934.5 1281.3L933.3 1284.5L932.9 1287.7L933.6 1291.1L932.7 1294.3L932.9 1297.7L931.7 1300.8L932.1 1304.1L931.6 1307.3L931.7 1310.6L932.7 1313.8L933.2 1317L933.1 1320.3L933.5 1323.7L932.5 1327L931.7 1330.4L932.9 1333.8L931.5 1337.1L931.7 1340.6L1017.5 1340.6L1018.1 1337.3L1016.9 1334L1017.5 1330.7L1016.7 1327.4L1018 1324.1L1017.7 1320.8L1017.2 1317.5L1016.9 1314.3L1017.9 1311.2L1018.2 1308L1017 1304.8L1016.9 1301.6L1018.4 1298.4L1018 1295.2L1017.5 1291.9L1018.8 1288.8L1019.1 1285.5L1018.2 1282.2L1018.6 1279L1019.4 1275.8L1018.9 1272.7L1019.7 1269.6L1018.5 1266.5L1018.9 1263.4L1018.3 1260.3L1018.8 1257.2L1018.5 1254.1L1018.4 1251L1018.6 1247.9L1019 1244.7L1019 1241.6L1018.3 1238.4L1018.4 1235.2L1018.4 1232L1018.2 1228.8L1018 1225.7L1017.8 1222.5L1018.2 1219.3L1017.9 1216.1L1017.2 1212.9L1017.7 1209.7L1016.4 1206.6L1016.6 1203.4L1017.1 1200.2L1016 1197.2L1016.3 1194L1016.1 1190.9L1015.2 1187.8L1015.8 1184.7L1015.7 1181.5L1015.8 1178.4L1014.7 1175.3Z"/>
<path d="M1150.2 1174.8L1150.5 1178.1L1150.1 1181.4L1151.3 1184.6L1151.1 1187.9L1150.3 1191.3L1150 1194.6L1150.8 1197.8L1150.2 1201.1L1152 1204.1L1151.5 1207.4L1151.3 1210.6L1152 1213.7L1151.9 1216.9L1152.5 1220.1L1152.5 1223.7L1152.1 1227.2L1151.5 1230.6L1150.2 1234L1151.4 1237.2L1150.9 1240.5L1151.3 1243.8L1151.6 1247L1152.7 1250.2L1152.5 1253.5L1153.1 1256.7L1153.2 1259.8L1152.1 1263.1L1151.9 1266.2L1152.1 1269.4L1153.7 1272.6L1153 1275.8L1153.5 1279L1151.5 1281.9L1152 1285.2L1151.6 1288.3L1146.6 1289.1L1146.4 1292.8L1147.3 1296.3L1147.3 1300L1147.5 1303.6L1148.3 1306.9L1149.2 1310.2L1149.8 1313.7L1151.6 1316.7L1151.6 1320.3L1151.5 1323.3L1151.6 1326.4L1153 1329.3L1152.8 1332.3L1152.6 1335.4L1153.5 1338.4L1153.6 1341.4L1232.3 1341.4L1232.2 1338.3L1232.1 1335.3L1232.6 1332.2L1232 1329.2L1231.5 1326.1L1232.3 1323.1L1235.1 1321.7L1235 1318.5L1233.8 1315.5L1233.2 1312.3L1232.9 1309.2L1231.8 1306.3L1231.1 1303.2L1229 1300.8L1229.4 1297.1L1230 1293.4L1230.1 1289.7L1230.6 1286.4L1229.2 1283.4L1229.5 1280.1L1228.5 1277L1228.2 1273.8L1228.1 1270.6L1228.2 1267.4L1228.4 1263.5L1229.3 1259.8L1231 1256.3L1232 1252.8L1232.1 1249.2L1233 1245.7L1234.3 1242.4L1234.1 1239.1L1234 1235.8L1235.4 1232.7L1234.7 1229.3L1234.6 1226.1L1235.7 1222.9L1234.5 1220.1L1233.2 1217.4L1232.3 1214.5L1231 1211.7L1230.6 1208.7L1230 1205.7L1230.2 1202.7L1229.9 1199.7L1229.6 1196.7L1230.1 1193.7L1235.7 1192.3L1236.3 1188.7L1235.1 1185.3L1235.5 1181.7L1235.1 1178.2L1234.3 1174.8Z"/>
<path d="M123.5 1339.2L123.1 1343.2L123.1 1347.2L122.6 1351.1L119.1 1350.6L115.7 1351.6L112.3 1352.3L113.7 1356.3L115.7 1360L116.6 1363L117.7 1366L120.6 1368L121.2 1371.2L121.6 1374.5L121.9 1377.7L123.3 1380.9L123.6 1384.1L124.8 1387.3L124.6 1390.7L125.4 1393.7L125.4 1396.9L126.1 1400L126.1 1403.2L125.2 1406.4L126.2 1409.5L126.5 1412.6L126.8 1415.7L125.3 1418.9L125.3 1422.4L123.9 1425.6L123.9 1429L123.5 1432.4L122.6 1435.5L123.6 1438.9L122.3 1441.9L121.7 1445.1L122.7 1448.4L120.8 1451.4L121.2 1454.7L123.5 1458.6L124.6 1463L124 1466.8L123.9 1470.6L122.6 1474.2L119.1 1476.3L115.7 1478.3L115.5 1481.6L116.5 1484.8L115.7 1488.1L117.4 1491L120.4 1492.6L122.6 1495L122.6 1499.5L122.6 1503.9L178.3 1503.9L179.3 1500.3L178.8 1496.7L178.8 1493L179.7 1489.5L183 1487.9L186.6 1488.1L189 1485.3L191 1482.3L193.6 1479.7L193.2 1476.2L194.4 1472.8L190.3 1468.6L190.3 1465.4L190.9 1462.1L189.7 1458.8L190.7 1455.6L190.8 1452.4L190.8 1449.1L193.6 1447.1L196.9 1446.3L196.9 1440.8L196.4 1437.2L193.6 1434.6L193 1431L197.2 1428.2L196.6 1424L197.8 1419.9L193.7 1418.4L189.4 1418.5L188 1414.4L187.5 1410.1L186.6 1407.1L187.3 1403.9L186.4 1400.8L186.6 1397.6L190.3 1396.8L193.6 1394.8L194.4 1389.3L189.4 1387.9L189.4 1383.7L193.1 1383.8L196.4 1382.3L196.8 1378.6L197.3 1374.9L196.4 1371.2L195.5 1368.2L193.5 1365.8L193 1362.7L191.4 1360L191.2 1356.6L190.9 1353.1L191.5 1349.6L191.2 1346.2L190.7 1342.7L190.8 1339.2Z"/>
<path d="M317.5 1339.2L317.8 1342.6L318.6 1346L319.5 1349.3L320.3 1352.6L320 1356.1L321.2 1359.4L321.1 1362.8L321.3 1366L321.1 1369.2L321.6 1372.4L322.1 1375.5L321.7 1378.7L322.2 1381.9L322.2 1385.1L321.4 1388.3L321.5 1391.6L320.3 1394.8L320.1 1398L320.1 1401.3L320.2 1404.6L320.3 1407.8L320.1 1411L318.3 1414L318.1 1417.2L318 1420.5L318.1 1423.7L317.5 1426.8L317.6 1430.1L316.7 1433.3L316.6 1436.6L316.4 1439.8L316.1 1443.1L316.1 1446.3L315.8 1449.6L317.1 1452.8L317.2 1456L316.1 1459.4L316.5 1462.6L317.5 1465.8L317 1469.1L318.7 1472.3L318.9 1475.5L318.8 1478.8L318.7 1482L318.8 1485.3L318.7 1488.7L319.7 1492L319.1 1495.4L320 1498.8L320.1 1502.2L319.4 1505.6L382 1505.6L382.7 1502.4L383.1 1499.1L382.1 1495.8L383.1 1492.7L382.6 1489.4L383.1 1486.2L383.1 1483L383.4 1479.7L383.8 1476.6L383.5 1473.6L381.8 1470.8L382.8 1467.6L382 1464.6L381.5 1461.6L386.2 1458.9L386.1 1455.4L385.6 1451.9L384.6 1448.6L384.6 1445.3L384.7 1441.9L384.8 1438.5L384.3 1435.2L383.1 1431.9L383.4 1428.5L383.7 1425.2L382.6 1421.9L382.9 1418.5L383.7 1415.2L383.9 1411.8L384.7 1408.5L384.2 1405.1L385.1 1401.8L384.1 1398.5L383.1 1395.2L383.6 1391.6L382.9 1388.3L381.5 1385.1L382.3 1380.7L384.3 1376.7L383.8 1373.7L384.3 1370.6L379.5 1369.8L380.1 1366.3L380.1 1362.8L380.9 1359.5L380.7 1356.1L381.1 1352.7L381 1349.3L381.4 1346L381.4 1342.6L382 1339.2Z"/>
<path d="M529.8 1339.5L529.9 1342.8L531.2 1346L531.2 1349.3L530.8 1352.6L531.5 1355.9L529.5 1358.8L528.4 1362.3L526.8 1365.6L524.5 1368.4L524.9 1371.9L524.4 1375.4L525.2 1378.8L525.1 1382.3L526 1385.3L525.2 1388.4L525.7 1391.4L525.3 1394.4L525.5 1397.5L526.5 1400.4L523.7 1403.2L523.2 1406.3L524.4 1409.3L524 1412.4L525.2 1415.4L525.1 1418.5L526.1 1421.9L526.7 1425.4L526.4 1429.1L527.9 1432.4L525.6 1434.8L524.9 1438.2L522.9 1440.8L522.9 1444L522.7 1447.3L522.6 1450.5L522.3 1453.8L522.1 1457L521.8 1460.2L522.9 1463.9L522.9 1467.7L523.7 1471.4L522.2 1474.7L521.8 1478.3L523.3 1481.2L524.4 1484.2L526.5 1486.7L526.7 1489.9L527.7 1493L527 1496.3L527.1 1499.5L528.5 1502.6L528.4 1505.8L594.7 1505.8L594.1 1502.1L594.1 1498.3L594 1494.6L594.7 1490.9L593.8 1487.4L593 1483.9L593.2 1480.3L591.7 1477L591.9 1473.3L596 1472L600.2 1471.4L601.6 1467.2L598.6 1465.4L596.1 1463L595.5 1459.7L595 1456.4L594.1 1453.1L593 1449.8L593.3 1446.3L594.3 1442.9L594.9 1439.4L594.9 1435.8L596.1 1432.4L595.9 1429.1L595.3 1425.8L596.1 1422.4L595.9 1419L595.2 1415.7L594.8 1412.5L594.4 1409.2L595.3 1405.9L594.3 1402.7L595.1 1399.4L594.1 1396.2L592.8 1393.1L592.5 1389.8L593.1 1386.4L592.4 1383.1L590.6 1380.1L590.5 1376.7L591.1 1373.4L592.7 1370.2L592.1 1366.6L593.1 1363.3L594.1 1360L593.1 1356.7L593.7 1353.2L593.6 1349.8L593.5 1346.4L594.3 1342.9L593.3 1339.5Z"/>
<path d="M743 1339.5L742.4 1342.9L742.4 1346.2L743 1349.5L743.3 1352.8L743.1 1356.2L743 1359.5L743.6 1362.8L746 1365.1L748.3 1367.4L750.5 1369.8L750.9 1372.9L749.6 1375.9L748.8 1378.9L749.7 1382.1L749.2 1385.1L745.8 1386.4L742.2 1386.5L743.4 1389.9L743.6 1393.4L744.8 1396.7L746.2 1400L746.1 1403.7L748.8 1406.6L749.2 1410.1L750.2 1413.6L750.5 1417.1L754.2 1417.1L757.5 1418.5L755.9 1422.6L754.7 1426.8L751.4 1431L751.1 1434.4L752.3 1437.6L752.7 1440.9L752.2 1444.2L752.1 1447.6L751.7 1450.9L753.4 1454.1L752.8 1457.5L756.7 1460.2L756.7 1465.8L751.9 1468.6L751.2 1472.6L749.7 1476.2L747.8 1479.7L748.4 1483L748.6 1486.2L747.9 1489.5L748.3 1492.8L749.1 1496L749.4 1499.3L749.4 1502.5L749.2 1505.8L814 1505.8L814.4 1502.4L813.5 1499L813.7 1495.5L812.2 1492.2L812.6 1488.7L812.6 1485.3L809.1 1484.6L805.7 1483.9L805.3 1480.8L806.7 1477.9L806.9 1474.9L807.6 1471.9L807.9 1468.9L807.6 1465.8L806 1462.2L804.5 1458.5L803.4 1454.7L803.8 1451.3L805.5 1448.3L806.2 1444.9L809.2 1444.5L812.3 1444.9L815.1 1443.5L815.6 1440.2L814.8 1436.9L814.2 1433.5L815.1 1430.2L810.7 1429.5L806.2 1429.6L805.7 1426.2L805.2 1422.7L805 1419.2L804.3 1415.7L807.6 1412.9L807.1 1409.7L807 1406.6L808.7 1403.4L808.4 1400.2L808 1397L807.3 1393.8L808.2 1390.7L807.2 1387.2L806.8 1383.6L804.9 1380.4L804.8 1376.7L804 1373.6L805 1370.5L804.4 1367.4L804.3 1364.2L807.9 1363L811.8 1362.8L813.4 1358.6L815.1 1354.5L815.3 1350.7L814.4 1347L815.3 1343.2L814.6 1339.5Z"/>
<path d="M949 1339.5L948.7 1343.1L950.2 1346.6L948.9 1350.2L949.1 1353.7L949.8 1357.3L949.7 1360.5L951.4 1363.5L951.4 1366.8L951 1370L952.5 1373.1L952.3 1376.3L952.6 1379.5L952.8 1382.7L952 1385.9L952.8 1389.1L952.5 1392.3L953.6 1395.4L952.8 1398.6L953.5 1401.8L952.5 1405.3L950.5 1408.5L950.8 1412.5L949 1415.7L947.8 1419.1L948.3 1422.8L947.1 1426.1L946.5 1429.6L946.2 1432.9L946.7 1436.2L945.2 1439.3L945.9 1442.6L945.7 1445.9L945.1 1449.1L944.6 1452.6L943 1455.7L941.5 1458.9L939.3 1464.4L940.6 1467.5L941.4 1470.8L943.3 1473.7L944.3 1476.9L944.1 1480.1L945.3 1483.3L944.9 1486.5L945 1489.7L944.2 1492.9L944.6 1496L945.1 1499.2L946.4 1502.3L945.7 1505.6L1007.5 1505.6L1008 1502L1007.1 1498.5L1007.5 1495L1011.1 1493.6L1010.8 1490.2L1011.8 1486.7L1011.7 1483.2L1011.1 1479.7L1013.6 1476.8L1014.3 1472.9L1016.6 1470L1015.5 1466.4L1013.9 1463L1010.2 1462L1006.9 1460.2L1006.6 1456.5L1005.7 1452.9L1006.3 1449.1L1010.2 1444.9L1010.2 1439.4L1008.1 1435.7L1005.5 1432.4L1006.5 1428.8L1008.8 1425.7L1010.1 1422.1L1011.1 1418.5L1009.9 1414.9L1009.4 1411L1008.3 1407.4L1009.7 1404.3L1011 1401.2L1011.8 1397.9L1013 1394.8L1012.1 1391.5L1011.2 1388.2L1009.7 1385.1L1006.8 1383.9L1004.1 1382.3L1003.7 1378.5L1001.7 1375L1001.3 1371.2L1003.5 1367.8L1006.9 1365.6L1006.3 1362.4L1004.2 1360L1002.7 1357.3L1004 1354.4L1005.9 1351.9L1006.9 1348.9L1006.3 1345.8L1006.7 1342.6L1006.3 1339.5Z"/>
<path d="M1158 1340.3L1159.2 1343.8L1159.5 1347.6L1161 1351L1162.2 1354.5L1163.2 1358.6L1162.8 1362.8L1161.1 1365.9L1158.6 1368.4L1159.9 1371.8L1160.6 1375.2L1160.8 1378.8L1161.4 1382.3L1157.8 1385.1L1158.9 1388.5L1158.6 1392.1L1162.1 1392.8L1165.5 1392.1L1165.7 1395.3L1165.5 1398.6L1165.5 1401.8L1165.7 1405.2L1165.8 1408.5L1166.1 1411.9L1167.3 1415.1L1167.5 1418.5L1167.6 1421.7L1167.2 1424.8L1167.6 1428L1166.7 1431L1165.9 1434.1L1165.2 1437.2L1165.3 1440.4L1165.5 1443.5L1162 1444.7L1158.6 1446.3L1158.7 1449.5L1160.1 1452.5L1159.9 1455.7L1160 1458.9L1156.6 1463L1157.8 1466.4L1158 1470.1L1159.8 1473.3L1160 1476.9L1157.8 1479.7L1158.2 1483.2L1158.2 1486.7L1157.9 1490.2L1158.6 1493.6L1161.9 1495.6L1165.5 1496.4L1166 1499.8L1167.4 1503L1167.5 1506.4L1224 1506.4L1224.3 1502.6L1225.4 1498.9L1225.4 1495L1228.3 1493L1231.8 1492.3L1232.5 1489.2L1231.9 1485.9L1233.5 1482.9L1233.2 1479.7L1229.9 1479.2L1226.8 1478.3L1225.7 1475.2L1225 1472L1225.4 1468.6L1225.4 1465L1227.2 1461.7L1227.4 1458.1L1228.2 1454.7L1225.8 1452L1223.5 1449.2L1221.2 1446.3L1219.8 1443.4L1220.5 1439.9L1218.3 1437.1L1218.4 1433.8L1221.6 1432.5L1224 1430.2L1226.8 1428.2L1227.9 1425.1L1227.9 1421.5L1229.6 1418.5L1230.7 1415.1L1230.9 1411.5L1231.9 1408L1232.9 1404.6L1229.9 1403.4L1226.8 1403.2L1227.3 1399.8L1226.9 1396.4L1226 1393.1L1225.2 1389.7L1226.3 1386.3L1225 1382.9L1225.4 1379.5L1225.6 1376.1L1226.5 1372.8L1226.2 1369.4L1227.2 1366.1L1228.2 1362.8L1228.7 1359.6L1228 1356.4L1228.2 1353.2L1227.8 1350L1227 1346.8L1227.2 1343.6L1227.6 1340.3Z"/>
<path d="M124.6 1504.8L123.1 1507.8L123.2 1511.4L121.7 1514.4L121.5 1517.9L119.8 1520.9L121.6 1523.6L122.2 1526.7L121.8 1530.2L122.8 1533.2L124.2 1536L125.4 1539L126.3 1542.2L126.2 1545.7L126.7 1549.1L127.8 1552.3L128.2 1555.7L129.2 1559L130 1562.3L132.5 1565.1L133.3 1568.5L134 1571.9L135.1 1575.1L137.2 1579.1L137.9 1583.5L136.7 1586.4L135 1589L134.3 1592.1L132.3 1594.6L131 1597.4L130.3 1601L128.8 1604.3L128.1 1607.9L126.8 1611.3L125.4 1615.4L124.6 1619.7L125.9 1622.8L125.4 1626.2L126.2 1629.4L127.8 1632.7L128.2 1636.4L126.9 1639.4L127 1642.6L126.8 1645.8L126.2 1648.9L123.1 1649.8L119.8 1650.3L119.8 1653.1L123.3 1654L126.8 1654.5L127 1658L127.5 1661.4L128 1664.9L129.1 1668.2L129.6 1671.7L176.9 1671.7L175.4 1668.9L175.3 1665.7L173.3 1663.1L172.7 1660L175.1 1657.8L176.9 1654.9L179.7 1653.1L180.8 1650.2L181.7 1647.1L183.9 1644.7L184.5 1640.3L186.6 1636.4L184.4 1633L181.1 1630.8L181.1 1627L180.3 1623.4L179.7 1619.7L182.3 1617.1L184.4 1614.1L187.4 1612.2L189.8 1609.4L192.5 1607.2L190.3 1603L189.6 1598.6L189.7 1594.1L186.4 1593.3L183 1594.1L182.8 1597.3L183 1600.6L182.9 1603.9L183 1607.2L178.8 1606.6L179.5 1603.3L179.6 1600L178.7 1596.7L179.2 1593.4L178.4 1590.1L178.7 1586.8L178.8 1583.5L181.9 1580.7L182 1577.5L182.2 1574.3L183 1571.3L183.9 1568.2L184.3 1565L183.5 1561.9L182.1 1558.9L182.5 1555.7L184 1552.9L185.2 1550.1L186.6 1547.3L190.1 1547L193.6 1546.8L193.6 1543.1L190.8 1541.3L188.9 1538.6L186.6 1536.2L186.8 1532L186.6 1527.8L185.9 1524.1L184.2 1520.6L183.9 1516.7L182.8 1512.8L182 1508.9L182.5 1504.8Z"/>
<path d="M324.4 1504.8L324.6 1508.3L324.2 1511.8L326 1515.2L325 1518.8L325.8 1522.3L327.8 1524.7L328.6 1527.8L329.2 1531.3L329.2 1535L331.6 1538.1L331.4 1541.7L332 1545.1L332.1 1548.4L332.2 1551.8L332.8 1555.1L332.2 1558.4L329.4 1561.2L328.5 1564.3L328.4 1567.5L329 1570.6L328.6 1573.8L323 1575.1L324 1578.6L324.4 1582.1L327.4 1583L330.5 1583.5L331.1 1587L330 1590.5L325.9 1592L321.6 1591.8L320.2 1597.4L319.8 1600.7L321 1603.9L320.9 1607.2L320.4 1610.5L320.5 1613.7L321.6 1616.9L321.9 1620.1L322.6 1623.2L322.6 1626.4L321.7 1629.7L321.9 1632.8L323.4 1635.9L323 1639.2L322.7 1642.6L323.8 1645.8L323.9 1649.2L324.7 1652.5L324.4 1655.9L329.4 1658.6L328.6 1664.2L326.6 1667.7L325.8 1671.7L371.7 1671.7L372.3 1668.6L372.7 1665.5L372.3 1662.4L372 1659.2L372.6 1656.2L373.1 1653.1L376.3 1654L379.5 1654.5L379 1651.2L379.2 1648L379.5 1644.7L382.3 1643.3L381.5 1637.8L378.1 1636.6L374.5 1636.4L374.6 1632.6L374.1 1628.9L373.1 1625.2L373.4 1621L374.5 1616.9L378.8 1615.8L382.9 1614.1L383.8 1610L383.7 1605.8L380.1 1604.4L378.3 1601.5L375.5 1599.7L373.1 1597.4L371.7 1593.8L371.5 1590.1L371.2 1586.3L375.9 1583.5L377.6 1580.2L377.6 1576.4L378.4 1572.9L380.1 1569.6L377.9 1564L377.6 1559.8L378.7 1555.7L376.9 1552.7L374.5 1550.1L371.7 1547.6L369.5 1544.5L371.4 1542L372.7 1539.3L373.1 1536.2L371.2 1530.6L369.8 1527.6L370.3 1524.2L368.9 1521.3L368.4 1518.1L371.7 1516.7L372.1 1512.7L370.5 1508.8L371.2 1504.8Z"/>
<path d="M539.6 1504.8L539.1 1508.2L539.8 1511.6L540.8 1514.9L540.4 1518.3L541.7 1521.6L541.2 1525L539.7 1528L540 1531.3L539.1 1534.4L538.5 1537.6L535.2 1538.2L532.1 1539L533.2 1542.4L532.6 1545.9L533.5 1549.4L533.4 1552.9L533.2 1556.4L532.1 1559.8L532 1563.1L533.8 1566L533.9 1569.2L534 1572.4L532 1574.9L531.2 1578.2L529.3 1580.7L530.6 1584.3L531 1588.2L532.1 1591.8L533.1 1595L532.3 1598.4L533.4 1601.6L530.2 1601.4L527.3 1603L528.5 1606.2L528.2 1609.7L528 1613.1L529.1 1616.3L529.3 1619.7L525.9 1622.5L528.5 1625.8L532.1 1628L532.2 1631.1L532.8 1634.2L532.2 1637.3L532.2 1640.4L532.8 1643.5L532.3 1646.6L532.2 1649.7L532.8 1652.8L532.9 1655.9L534.5 1658.7L535.5 1661.7L537.6 1664.2L537.3 1668.2L537.6 1672.2L591.9 1672.2L591.7 1668.6L592.2 1665L591.9 1661.4L590.8 1657.8L588.5 1654.8L586.3 1651.7L587 1648.2L586.3 1644.7L588.1 1642.2L588.6 1638.9L590.5 1636.4L589.5 1633.2L588.5 1629.9L587.7 1626.6L583.7 1627.4L579.7 1625.9L575.8 1626.6L574.6 1630.3L572.4 1628.1L571 1625.2L571 1621.1L574.2 1621L577.3 1620.2L580.4 1619.8L583.5 1619.2L586.7 1619.6L589.7 1618.3L590.3 1614.8L589.7 1611.3L588.5 1608.3L586.3 1605.8L586.4 1601.5L587.7 1597.4L591.4 1595.2L595.2 1593.2L594.7 1590L594.7 1586.8L594.7 1583.5L593 1580.2L590 1577.9L587.7 1575.1L587.1 1571.5L587.3 1567.7L586.3 1564L585.3 1560.5L584.7 1556.9L582.7 1553.7L582.2 1550.1L580.7 1546.5L579.8 1542.8L579.4 1539L581.5 1536.6L583.9 1534.4L585.5 1531.5L587.7 1529.2L588.5 1526.1L587.6 1522.9L588.9 1519.9L588.6 1516.7L587.5 1512.8L588 1508.8L587.7 1504.8Z"/>
<path d="M747.2 1505.3L747.6 1508.5L748.4 1511.5L748.2 1514.7L749.5 1517.7L749.2 1520.9L751.5 1524.7L754.7 1527.8L756.8 1530.3L758.3 1533.2L759.5 1536.2L754.2 1539L755.1 1543.1L754.7 1547.3L756.2 1550.3L757.7 1553.2L759.5 1555.9L761.7 1558.4L760.2 1561.3L757.7 1563.2L755.6 1565.4L756 1568.6L756.4 1571.9L756.1 1575.1L756.7 1578.9L759.7 1581.8L760.3 1585.6L761.7 1589.1L765 1589.1L768.3 1589L771.4 1587.7L772.3 1591.8L769.4 1593.4L766.2 1593.8L763.1 1594.6L762.5 1600.2L763.3 1603.2L765.6 1605.4L766.5 1608.4L767.2 1611.3L771.4 1615.5L767.2 1619.7L763.1 1619L758.9 1619.7L758.8 1624L757.5 1628L761.1 1630.7L764.5 1633.6L763.4 1636.5L761.7 1639.2L763.2 1641.9L765.1 1644.4L766.6 1647.1L767.2 1650.3L765 1654.2L764.5 1658.6L764.1 1661.9L764.3 1665L765.4 1668.2L765 1671.4L797.9 1671.4L797.6 1667.8L798.2 1664.3L798 1660.7L799.3 1657.3L796.1 1656.5L793.1 1655.5L789.9 1655.1L786.7 1654.5L790.1 1654L793.4 1653.1L796.5 1651.7L799.3 1647.5L797.4 1644.3L794.5 1642L792.3 1639.2L794.6 1636.7L796.2 1633.8L797.9 1630.8L796.5 1625.2L792.3 1624.7L788.1 1625.2L790.1 1622.6L792.9 1620.8L795.1 1618.3L796.6 1614.5L799.3 1611.3L798 1607.6L796.5 1603.9L795.1 1600.2L795.8 1595.8L797.9 1591.8L800.4 1589.4L802.6 1586.7L805.7 1584.9L802.9 1582.3L800.6 1579.3L795.1 1577.9L794 1573.7L792.3 1569.6L795 1567.7L796.3 1564.5L798.7 1562.4L800.6 1559.8L797.6 1557L793.7 1555.7L793.7 1551.5L796.4 1549.2L799.3 1547.3L795.2 1545.2L792.3 1541.7L794 1539.1L795.3 1536.3L795.8 1533.1L797.9 1530.6L799.3 1527.8L802 1524.9L803.8 1521.3L806.2 1518.1L802.9 1513.9L802.9 1509.6L802 1505.3Z"/>
<path d="M962.9 1504.8L964.2 1507.6L964.6 1510.6L965.8 1513.4L965.5 1516.6L966.5 1519.5L967.5 1523.6L967.9 1527.8L965.7 1530.9L962.9 1533.4L966.1 1535.6L967.9 1539L968.2 1542.2L967.7 1545.3L967.1 1548.4L966.5 1551.5L964.6 1554.4L963.8 1557.6L963.4 1561L961.8 1564L963.2 1566.7L964.7 1569.3L964.6 1572.7L966.5 1575.1L967.5 1578.6L967.5 1582.2L968.2 1585.7L969.3 1589.1L966.1 1590.8L964.3 1594.4L961 1596L958.9 1599.5L956.5 1602.6L954 1605.8L955.7 1609.3L955.2 1613.4L956.8 1616.9L956 1621.2L954.6 1625.2L955.3 1628.2L957 1630.8L958.2 1633.6L956.8 1639.2L959 1643.1L959.6 1647.5L958.4 1650.4L957.2 1653.3L956.1 1656.2L954 1658.6L954.5 1662L953.6 1665.3L954.4 1668.7L953.5 1671.9L995.2 1671.9L995 1668.6L995.7 1665.3L994.5 1662L995.2 1658.6L995.1 1654.8L996.2 1651.2L997.2 1647.5L998.7 1644.5L1001.3 1642.2L1002.7 1639.2L1001.1 1635.6L1000.6 1631.8L999.9 1628L997.9 1625L994.6 1623L993 1619.7L993.9 1616.7L995.8 1614.1L994.3 1611.4L992.8 1608.7L992.4 1605.4L990.2 1603L993.2 1601.5L995.2 1598.8L993.1 1595L990.2 1591.8L992.3 1589.2L994.2 1586.5L995.8 1583.5L992.5 1581.6L988.8 1580.7L989.4 1577L991.4 1573.8L992.5 1570.3L993.5 1566.8L992 1564.2L991.5 1561.1L990.5 1558.2L988.8 1555.7L990.8 1552.2L991.3 1548.1L993 1544.5L992.3 1540.4L992.4 1536.2L993.7 1533.2L993.7 1529.8L995.6 1527L995.8 1523.7L994.6 1520.2L993.5 1516.7L994 1512.7L994.4 1508.8L994.4 1504.8Z"/>
<path d="M1161.4 1505.3L1162.1 1508.7L1161.5 1512.1L1161.6 1515.5L1161.4 1518.9L1165.7 1518.7L1169.7 1520L1170.4 1523.5L1171 1527.1L1171.1 1530.6L1172.8 1533.4L1174.8 1536L1176.1 1539L1176.6 1542.3L1176 1545.7L1175.7 1549L1176.1 1552.4L1175.3 1555.7L1175.2 1558.9L1176.2 1562.1L1176.7 1565.4L1176.5 1568.6L1176.6 1571.9L1176.7 1575.1L1177.5 1578.6L1177 1582.1L1177 1585.6L1177.5 1589.1L1177.5 1592.6L1178.1 1596L1172.5 1597.4L1173.8 1600.5L1173.6 1603.9L1173.9 1607.2L1171.7 1609.6L1169.8 1612.4L1166.9 1614.1L1166.4 1618.3L1165.5 1622.5L1166.8 1625.7L1166.4 1629.1L1166.7 1632.5L1167.4 1635.8L1167.8 1639.2L1164.2 1641.9L1164.5 1645.7L1164.6 1649.4L1164.2 1653.1L1167.5 1652.9L1170.6 1654.5L1170.9 1658L1170.1 1661.5L1170.8 1665L1171.4 1668.4L1171.1 1671.9L1210.1 1671.9L1210 1668.3L1209.8 1664.6L1210.1 1660.9L1210.1 1657.3L1215.1 1655.9L1215.4 1652.8L1214.9 1649.7L1214.5 1646.7L1215.3 1643.6L1214.3 1640.6L1218.5 1640.3L1222.6 1639.2L1224 1633.6L1221.1 1632.5L1218.4 1630.8L1218.4 1627.5L1218 1624.2L1217 1621.1L1214 1619.8L1210.6 1619.7L1208.8 1615.7L1208.7 1611.3L1210.1 1605.8L1210.9 1602.3L1211.5 1598.9L1211.7 1595.3L1212.3 1591.8L1216.5 1592.2L1220.7 1591.3L1221.8 1588.2L1221.2 1584.9L1218.4 1583.5L1218 1579.9L1219.3 1576.6L1218.8 1573L1219.8 1569.6L1218.1 1566.3L1217.8 1562.5L1216.4 1559.1L1215.1 1555.7L1215.3 1552.2L1215.1 1548.7L1215.1 1545.2L1215 1541.7L1214.8 1538.2L1215.6 1534.8L1212.3 1533.4L1212.4 1530.1L1213 1526.7L1212.2 1523.3L1213 1520L1213.4 1516.7L1217 1516.1L1220.7 1515.3L1221.4 1512L1220.7 1508.7L1221.2 1505.3Z"/>
<path d="M131.8 1670.9L131.9 1674.3L132.3 1677.7L132.1 1681.1L132.9 1684.5L133.9 1687.7L136.5 1689.9L137.9 1692.8L135 1693.6L131.9 1693.1L129 1694.2L130 1697.9L129.9 1701.7L131 1705.4L135.1 1706.4L139.3 1706.7L137.8 1709.4L136.2 1712L135.2 1714.9L134.6 1717.9L136.4 1721.2L136.8 1724.9L138.2 1728.3L139.3 1731.8L139.9 1735L140.9 1738L141.8 1741.1L142.1 1744.3L143.6 1747.8L145.8 1750.8L147.7 1754.1L147.7 1757.8L147.2 1761.5L146.3 1765.2L143.6 1766.9L141 1768.5L137.9 1769.4L135.9 1772.6L134.4 1776.2L131.8 1779.1L131.8 1783L131.1 1786.7L129.6 1790.2L131 1793.8L130.7 1797.7L131.8 1801.4L136.5 1802.8L136 1805.6L132.9 1806.9L129.6 1806.9L129.6 1812.5L133.3 1813.8L136.8 1815.8L140.7 1816.7L141.4 1820.2L142.1 1823.6L145.3 1825.2L147.7 1827.8L147.3 1831.3L147.6 1834.7L148.5 1838.1L172.7 1838.1L171.8 1834.7L172.2 1831.2L171.3 1827.8L168.6 1826.1L165.6 1825.3L162.4 1825L162.4 1820.9L166.1 1819.8L169.9 1819.5L170.8 1815.3L169.9 1811.1L171.7 1808.4L174.7 1806.9L171.3 1804.2L170.8 1800.9L172 1797.7L171.8 1794.4L172.4 1791.2L172.2 1787.9L172.7 1784.7L175.6 1783.4L177.2 1780.3L180.2 1779.1L179.2 1775.7L179.7 1772.2L178.9 1769.1L179.2 1765.8L178.2 1762.9L177.5 1759.8L176.3 1756.8L175.9 1753.8L176.3 1750.8L176.6 1747.8L175.2 1744.8L175.1 1741.8L175.5 1738.8L171.3 1737.9L167.2 1741.5L166 1737.9L164.9 1734.2L164.4 1730.4L162.4 1726.9L160.2 1723.4L163.9 1721.9L167.4 1720.1L171.3 1719.3L171.4 1715L172.7 1710.9L175.8 1709.8L179.1 1709.5L179.7 1705.4L176.2 1704.6L172.7 1704.5L172.7 1709L167.2 1706.7L167.5 1703L166.8 1699.3L167.2 1695.6L170.5 1695.7L173.7 1694.5L177 1694.8L180.2 1694.2L179.4 1690.5L179.7 1686.7L175.5 1686.3L171.3 1685.9L170.8 1681.7L173.8 1680.7L176.3 1678.9L177.4 1675L176.9 1670.9Z"/>
<path d="M334.2 1670.9L333.5 1674.2L335.3 1677.2L335.2 1680.5L335.9 1683.6L335.2 1686.9L335.5 1690L336 1693.4L336.7 1696.7L337.2 1700L336.8 1703.5L337.8 1706.7L337 1710.1L337.8 1713.4L337.5 1716.8L336.9 1720.1L336.9 1723.4L338.6 1727.2L341.1 1730.4L337.7 1733.3L335.5 1737.4L335 1740.9L333.8 1744.3L333.4 1747.8L332.8 1751.3L328.6 1754.1L328.8 1758.3L330 1762.4L324.4 1763.8L321.1 1768L323.3 1771.9L324.4 1776.3L326.3 1779.6L327.2 1783.3L330.4 1784.8L332.8 1787.5L331.5 1791.1L332.3 1794.9L331.4 1798.6L332.8 1801.4L334.2 1804.2L334.8 1807.4L334.5 1810.7L334.2 1813.9L331.4 1815.3L335.2 1815.9L338.3 1818.1L338.1 1821.4L338.8 1824.8L337.8 1828.1L338.4 1831.4L338.4 1834.7L337.8 1838.1L357.3 1838.1L357.2 1834.2L357.6 1830.3L357.3 1826.4L362 1823.6L361.5 1819.9L362.2 1816.2L362 1812.5L366.2 1813.3L370.3 1812.5L370.6 1808.7L370 1805L368.9 1801.4L365.6 1799.9L362 1800L362.9 1796.9L362.3 1793.7L362.4 1790.5L363.4 1787.5L366.2 1785.5L368.9 1783.3L368.8 1779.6L370.3 1776.3L375.9 1774.9L375.2 1771.5L375.9 1768L372.1 1768.3L368.5 1766.7L364.8 1766.6L361.8 1764L359.2 1761L358.9 1757.9L359.1 1754.8L360 1751.6L359.2 1748.5L362 1747.1L362.2 1743.9L361.4 1740.6L362 1737.4L364.8 1736.1L367.6 1734.6L368 1730.4L368.4 1726.2L365.3 1723.1L363.4 1719.3L360.5 1717.4L357.3 1716.5L356.7 1713.2L357.9 1710L358.8 1706.8L359.3 1703.6L359.2 1700.3L359.2 1697L362.3 1694.3L366.2 1692.8L364.4 1689.5L362.1 1686.7L359.2 1684.5L359.4 1681.1L359 1677.7L358.6 1674.3L358.4 1670.9Z"/>
<path d="M544.6 1670.9L545.9 1673.8L546 1676.8L545.1 1680L547.2 1682.8L546.8 1685.9L547.3 1690.1L547.9 1694.2L544.5 1695.9L541.8 1698.4L538.9 1701.6L536.8 1705.4L537.6 1709.5L543.2 1710.9L542.5 1713.9L542.9 1717L542 1719.9L541.7 1722.9L541.6 1726L541.8 1729L539.6 1731.4L539.7 1734.9L537.6 1737.4L535.1 1739.7L534.1 1743L532.1 1745.7L531.7 1748.8L532.5 1752L531.3 1755.1L532.1 1758.2L535.4 1759.6L537.6 1762.4L536.8 1766.6L533.4 1769.4L533.3 1773.5L533.4 1777.7L537.6 1779.1L537.9 1782.3L537.4 1785.5L537.3 1788.7L536.5 1791.8L536.1 1795L536.7 1798.2L536.2 1801.4L536.1 1804.7L536.7 1808.1L537 1811.4L535.9 1814.8L536.8 1818.1L538.3 1821.7L539.9 1825.3L540.4 1829.2L540.7 1832.5L540 1835.9L540.4 1839.2L589.1 1839.2L588.3 1836L588.6 1832.8L589.2 1829.6L588.6 1826.4L586.2 1823.3L584.5 1819.8L582.2 1816.7L581.6 1813.6L582.1 1810.4L580.2 1807.4L580.8 1804.2L583.7 1803L586.3 1801.4L586.4 1798.3L585.7 1795.4L584.9 1792.5L581.4 1792.9L577.9 1792L574.6 1790.8L571 1790.8L571 1786.1L574.2 1786.4L577.2 1785.2L580.4 1785.5L583.5 1785.6L586.5 1784.1L589.7 1784.7L589.8 1781.2L589.7 1777.7L584.9 1776.3L582.8 1773.9L582.2 1770.8L582.4 1767.4L580.8 1764.3L580.8 1761L584 1759.9L586.9 1758.2L585.9 1754.8L586.9 1751.2L585.2 1747.9L585.8 1744.3L582.2 1740.1L582.4 1736.4L583 1732.8L583 1729L582.4 1725.5L581.5 1722L580.8 1718.4L577 1717L573 1717.3L572.8 1713.4L572.4 1709.5L577.4 1708.1L578.1 1705.1L578.8 1702.1L579.3 1699L579.6 1696L579.4 1692.8L582.4 1691.1L585.8 1690L583.5 1685.9L583.3 1682.1L582.8 1678.4L583.7 1674.6L583 1670.9Z"/>
<path d="M758.3 1673.3L757.3 1677.5L757.5 1681.7L758.7 1684.6L760.3 1687.3L763.3 1688.2L766.4 1689.2L769.5 1690L772.3 1692.8L768.6 1697L770 1702.6L765.9 1706.7L761.6 1706.7L757.5 1705.4L754.7 1709.5L754.1 1713.7L754.7 1717.9L755.8 1721.5L757.5 1724.8L761.2 1726.2L764.8 1727.9L768.6 1729L770.2 1731.7L771.4 1734.6L776.2 1737.9L778.6 1736.2L781.1 1734.4L783.9 1733.2L788.1 1729L786.7 1723.4L784.1 1721.2L781.2 1719.3L780.8 1715.5L780.3 1711.8L779.8 1708.1L781.1 1704.2L783.9 1701.2L782.6 1695.6L784.2 1692.9L785.3 1690L786.1 1686.7L787.2 1683.4L788 1680.1L789.4 1676.9L789.5 1673.3L786.4 1674L783.3 1673.4L780.2 1672.5L777 1672.9L773.9 1673.7L770.8 1672.9L767.7 1672.5L764.6 1673.5L761.5 1672.7L758.3 1673.3Z"/>
<path d="M968.8 1837L967.1 1834.2L967.5 1830.7L965.6 1828L964.6 1825L966.8 1822.4L970 1820.9L972.1 1818.1L972 1814.7L972.1 1811.3L971.5 1808L971.1 1804.7L970.2 1801.4L972.5 1797.9L974.9 1794.4L974.7 1791L972.1 1788.4L972.4 1784.8L970.7 1781.9L969 1778.2L966.5 1774.9L968.3 1772.1L971.1 1770.1L972.7 1767.2L974.9 1764.6L976.9 1768.4L979.1 1772.2L982.7 1771.8L986 1770.2L987.5 1773.1L988 1776.3L985.2 1779.4L981.8 1781.9L980.9 1786L980.5 1790.2L984.1 1790.2L987.4 1791.6L988.4 1794.7L989.2 1797.9L990.8 1800.8L992.3 1803.7L993 1806.9L993.9 1810L995.2 1812.8L997.2 1815.3L996.3 1818.7L996.4 1822.2L995.4 1825.7L995.8 1829.2L994.5 1833L994.4 1837L991.2 1837.6L988 1837.2L984.8 1837.7L981.6 1837.8L978.4 1837.3L975.2 1836.4L972 1836.4L968.8 1837Z"/>
<path d="M1162.8 1671.5L1164.1 1674.6L1164.7 1677.9L1165 1681.2L1165.5 1684.5L1169.5 1686.5L1173.9 1687.3L1175.1 1690.1L1176 1693.2L1178.8 1695.3L1179.5 1698.4L1180 1702.9L1182.2 1706.7L1182.3 1710.1L1181.1 1713.2L1180.9 1716.5L1185 1720.7L1183.4 1724.2L1182.8 1728L1182.2 1731.8L1184.2 1735.8L1185 1740.1L1182 1743.4L1179.5 1747.1L1180.3 1750.2L1181.7 1753.2L1181.8 1756.4L1182.2 1759.6L1182.9 1763.1L1182.7 1766.6L1183.7 1770L1183.6 1773.5L1179.5 1777.7L1173.9 1779.1L1174.4 1782.6L1175.3 1786.1L1179.4 1787.8L1183.6 1788.9L1182 1792.6L1179.5 1795.8L1182.5 1796.6L1185 1798.6L1182.1 1799.7L1179.5 1801.4L1176.7 1802.8L1175.9 1806.5L1173.9 1809.7L1173.1 1813.5L1171.1 1816.7L1172.3 1819.9L1174.7 1822.4L1176.7 1825L1180.1 1824.1L1183.6 1823.6L1183.1 1827.3L1180.7 1830.5L1180.2 1834.2L1179.5 1837.8L1196.2 1837.8L1197 1834.7L1199.2 1832.2L1200.3 1829.2L1202.9 1826.9L1205.5 1824.7L1207.1 1821.4L1210.1 1819.5L1210.4 1816.3L1209.5 1813.2L1209.5 1810L1208.7 1806.9L1209.1 1803.7L1209.7 1800.6L1211.1 1797.6L1211.5 1794.4L1210.1 1788.9L1207.1 1786.1L1205.5 1782.3L1203.1 1779.1L1199.9 1776L1196.2 1773.5L1199 1772.3L1202.1 1771.5L1204.6 1769.5L1207.3 1768L1208.5 1765.1L1209.7 1762.2L1211.7 1759.7L1212.2 1756.5L1214.3 1754.1L1215 1749.9L1215.6 1745.7L1214.4 1742.1L1213.2 1738.4L1212.9 1734.6L1208.8 1732.8L1204.5 1731.8L1204.8 1727.9L1206.7 1724.5L1207.3 1720.7L1206.9 1717.6L1207.2 1714.5L1206.1 1711.5L1206.5 1708.4L1205.9 1705.4L1202.4 1705.2L1199.4 1703.5L1196.2 1702.6L1199 1700.5L1201.7 1698.4L1199.1 1695.5L1196.2 1692.8L1197 1688.5L1198.9 1684.5L1202.4 1685.3L1205.9 1685.9L1208.2 1689.2L1210.1 1692.8L1212.8 1691L1214.8 1688.3L1217 1685.9L1217 1682.2L1216.6 1678.6L1215.6 1675.1L1215.6 1671.5Z"/>
</g></g>
<rect x="227.8" y="1822" width="32.4" height="3.6" fill="#000" />
<rect x="433.5" y="1823" width="32.4" height="3.6" fill="#000" />
<rect x="639.8" y="1822.3" width="32.4" height="3.6" fill="#000" />
<rect x="844.6" y="1822.3" width="32.4" height="3.6" fill="#000" />
<rect x="1052.3" y="1822.3" width="32.4" height="3.6" fill="#000" />
<rect x="1263.8" y="1822.8" width="32.4" height="3.6" fill="#000" />
</g>
<g id="p_g">
<text x="-0.8" y="1897.3" font-size="30.3" font-weight="bold">g</text>
<rect x="152.1" y="2233.18" width="27.9" height="74.12" fill="#a1a0a5" />
<path d="M166.05 2233.18V2224.68M159.55 2224.68h13" stroke="#a1a0a5" stroke-width="2.3" fill="none"/>
<rect x="193.8" y="2228.42" width="27.9" height="78.88" fill="#66ccff" />
<path d="M207.75 2228.42V2222.98M201.25 2222.98h13" stroke="#66ccff" stroke-width="2.3" fill="none"/>
<rect x="235.5" y="2244.4" width="27.9" height="62.9" fill="#ff0066" />
<path d="M249.45 2244.4V2228.42M242.95 2228.42h13" stroke="#ff0066" stroke-width="2.3" fill="none"/>
<rect x="277.2" y="2213.8" width="27.9" height="93.5" fill="#138080" />
<path d="M291.15 2213.8V2205.98M284.65 2205.98h13" stroke="#138080" stroke-width="2.3" fill="none"/>
<rect x="318.9" y="2215.5" width="27.9" height="91.8" fill="#aa66ff" />
<path d="M332.85 2215.5V2205.64M326.35 2205.64h13" stroke="#aa66ff" stroke-width="2.3" fill="none"/>
<rect x="360.6" y="2229.78" width="27.9" height="77.52" fill="#5a5af8" />
<path d="M374.55 2229.78V2223.66M368.05 2223.66h13" stroke="#5a5af8" stroke-width="2.3" fill="none"/>
<rect x="430.1" y="2144.78" width="27.9" height="162.52" fill="#a1a0a5" />
<path d="M444.05 2144.78V2136.62M437.55 2136.62h13" stroke="#a1a0a5" stroke-width="2.3" fill="none"/>
<rect x="471.8" y="2144.78" width="27.9" height="162.52" fill="#66ccff" />
<path d="M485.75 2144.78V2129.82M479.25 2129.82h13" stroke="#66ccff" stroke-width="2.3" fill="none"/>
<rect x="513.5" y="2171.98" width="27.9" height="135.32" fill="#ff0066" />
<path d="M527.45 2171.98V2151.58M520.95 2151.58h13" stroke="#ff0066" stroke-width="2.3" fill="none"/>
<rect x="555.2" y="2088.68" width="27.9" height="218.62" fill="#138080" />
<path d="M569.15 2088.68V2076.1M562.65 2076.1h13" stroke="#138080" stroke-width="2.3" fill="none"/>
<rect x="596.9" y="2105" width="27.9" height="202.3" fill="#aa66ff" />
<path d="M610.85 2105V2093.78M604.35 2093.78h13" stroke="#aa66ff" stroke-width="2.3" fill="none"/>
<rect x="638.6" y="2133.9" width="27.9" height="173.4" fill="#5a5af8" />
<path d="M652.55 2133.9V2123.7M646.05 2123.7h13" stroke="#5a5af8" stroke-width="2.3" fill="none"/>
<rect x="707.8" y="2052.3" width="27.9" height="255" fill="#a1a0a5" />
<path d="M721.75 2052.3V2041.08M715.25 2041.08h13" stroke="#a1a0a5" stroke-width="2.3" fill="none"/>
<rect x="749.5" y="2056.72" width="27.9" height="250.58" fill="#66ccff" />
<path d="M763.45 2056.72V2035.98M756.95 2035.98h13" stroke="#66ccff" stroke-width="2.3" fill="none"/>
<rect x="791.2" y="2118.6" width="27.9" height="188.7" fill="#ff0066" />
<path d="M805.15 2118.6V2091.4M798.65 2091.4h13" stroke="#ff0066" stroke-width="2.3" fill="none"/>
<rect x="832.9" y="1979.88" width="27.9" height="327.42" fill="#138080" />
<path d="M846.85 1979.88V1974.1M840.35 1974.1h13" stroke="#138080" stroke-width="2.3" fill="none"/>
<rect x="874.6" y="1993.82" width="27.9" height="313.48" fill="#aa66ff" />
<path d="M888.55 1993.82V1982.6M882.05 1982.6h13" stroke="#aa66ff" stroke-width="2.3" fill="none"/>
<rect x="916.3" y="2042.1" width="27.9" height="265.2" fill="#5a5af8" />
<path d="M930.25 2042.1V2023.06M923.75 2023.06h13" stroke="#5a5af8" stroke-width="2.3" fill="none"/>
<path d="M138.5 1965.7V2308.9M123.4 2307.3H959.6" stroke="#000" stroke-width="3.2" fill="none"/>
<path d="M138.5 2307.3h-15.2M138.5 2264.8h-8.6M138.5 2222.3h-15.2M138.5 2179.8h-8.6M138.5 2137.3h-15.2M138.5 2094.8h-8.6M138.5 2052.3h-15.2M138.5 2009.8h-8.6M138.5 1967.3h-15.2M269.5 2307.3v13.8M548 2307.3v13.8M825.9 2307.3v13.8" stroke="#000" stroke-width="3.2" fill="none"/>
<text x="118.4" y="2317.1" font-size="27.6" text-anchor="end">0</text>
<text x="118.4" y="2232.1" font-size="27.6" text-anchor="end">25</text>
<text x="118.4" y="2147.1" font-size="27.6" text-anchor="end">50</text>
<text x="118.4" y="2062.1" font-size="27.6" text-anchor="end">75</text>
<text x="118.4" y="1977.1" font-size="27.6" text-anchor="end">100</text>
<text x="268.6" y="2351.6" font-size="27.3" text-anchor="middle">12</text>
<text x="547.1" y="2351.6" font-size="27.3" text-anchor="middle">24</text>
<text x="825" y="2351.6" font-size="27.3" text-anchor="middle">36</text>
<text font-size="30.3" text-anchor="middle" transform="translate(54.4 2137) rotate(-90)">Wound Recovery (%)</text>
<text x="547.6" y="2395" font-size="25.8" text-anchor="middle">Hours post-scratch</text>
<rect x="992.2" y="2074.5" width="36.2" height="14.2" fill="#a1a0a5" />
<text transform="translate(1048.4 2090.5) scale(.945 1)" font-size="24.6">Media only</text>
<rect x="992.2" y="2102.2" width="36.2" height="14.2" fill="#66ccff" />
<text x="1048" y="2118.2" font-size="24.6" >0.1wt% poly(CEP)</text>
<rect x="992.6" y="2130.9" width="36.2" height="14.2" fill="#ff0066" />
<text x="1048.4" y="2147.1" font-size="24.6" >1.0wt% poly(CEP)</text>
<rect x="993.4" y="2159.1" width="36.2" height="14.2" fill="#138080" />
<text x="1049.4" y="2175.3" font-size="24.6" >TNT</text>
<rect x="993.9" y="2188.8" width="36.2" height="14.2" fill="#aa66ff" />
<text x="1049.9" y="2205.3" font-size="24.6" >0.1wt% poly(CEP) + TNT</text>
<rect x="994.6" y="2219.5" width="36.2" height="14.2" fill="#5a5af8" />
<text x="1051.1" y="2236.8" font-size="24.6" >1.0wt% poly(CEP) + TNT</text>
<g><circle cx="159.66" cy="2227.51" r="3.4" fill="#000"/><circle cx="172.75" cy="2225.5" r="3.4" fill="#000"/><circle cx="159.66" cy="2235.57" r="3.4" fill="#000"/><circle cx="172.75" cy="2236.58" r="3.4" fill="#000"/><circle cx="160.16" cy="2242.62" r="3.4" fill="#000"/><circle cx="196.93" cy="2220.46" r="3.4" fill="#000"/><circle cx="203.98" cy="2226.51" r="3.4" fill="#000"/><circle cx="197.93" cy="2231.04" r="3.4" fill="#000"/><circle cx="211.53" cy="2227.51" r="3.4" fill="#000"/><circle cx="218.58" cy="2229.53" r="3.4" fill="#000"/><circle cx="249.3" cy="2224.49" r="3.4" fill="#000"/><circle cx="241.75" cy="2243.63" r="3.4" fill="#000"/><circle cx="256.86" cy="2250.68" r="3.4" fill="#000"/><circle cx="249.3" cy="2265.29" r="3.4" fill="#000"/><circle cx="249.3" cy="2232.55" r="3.4" fill="#000"/><circle cx="290.6" cy="2202.33" r="3.4" fill="#000"/><circle cx="282.04" cy="2213.41" r="3.4" fill="#000"/><circle cx="300.68" cy="2213.41" r="3.4" fill="#000"/><circle cx="288.08" cy="2216.43" r="3.4" fill="#000"/><circle cx="294.63" cy="2216.43" r="3.4" fill="#000"/><circle cx="332.41" cy="2200.82" r="3.4" fill="#000"/><circle cx="322.33" cy="2213.41" r="3.4" fill="#000"/><circle cx="342.48" cy="2214.92" r="3.4" fill="#000"/><circle cx="329.89" cy="2217.44" r="3.4" fill="#000"/><circle cx="332.41" cy="2226.51" r="3.4" fill="#000"/><circle cx="367.66" cy="2223.49" r="3.4" fill="#000"/><circle cx="378.74" cy="2224.49" r="3.4" fill="#000"/><circle cx="363.63" cy="2232.55" r="3.4" fill="#000"/><circle cx="375.22" cy="2232.55" r="3.4" fill="#000"/><circle cx="385.29" cy="2232.55" r="3.4" fill="#000"/><circle cx="443.71" cy="2131.82" r="3.4" fill="#000"/><circle cx="434.14" cy="2142.9" r="3.4" fill="#000"/><circle cx="453.28" cy="2144.41" r="3.4" fill="#000"/><circle cx="442.2" cy="2147.94" r="3.4" fill="#000"/><circle cx="443.21" cy="2157" r="3.4" fill="#000"/><circle cx="485.51" cy="2126.28" r="3.4" fill="#000"/><circle cx="475.94" cy="2139.38" r="3.4" fill="#000"/><circle cx="496.09" cy="2144.41" r="3.4" fill="#000"/><circle cx="485.51" cy="2145.42" r="3.4" fill="#000"/><circle cx="485.01" cy="2167.08" r="3.4" fill="#000"/><circle cx="527.32" cy="2145.42" r="3.4" fill="#000"/><circle cx="527.32" cy="2157" r="3.4" fill="#000"/><circle cx="527.32" cy="2171.11" r="3.4" fill="#000"/><circle cx="527.32" cy="2184.71" r="3.4" fill="#000"/><circle cx="526.31" cy="2197.3" r="3.4" fill="#000"/><circle cx="562.57" cy="2076.42" r="3.4" fill="#000"/><circle cx="575.67" cy="2076.42" r="3.4" fill="#000"/><circle cx="561.56" cy="2091.53" r="3.4" fill="#000"/><circle cx="575.67" cy="2092.54" r="3.4" fill="#000"/><circle cx="569.12" cy="2104.63" r="3.4" fill="#000"/><circle cx="611.93" cy="2095.56" r="3.4" fill="#000"/><circle cx="600.34" cy="2098.08" r="3.4" fill="#000"/><circle cx="620.99" cy="2099.59" r="3.4" fill="#000"/><circle cx="609.41" cy="2106.64" r="3.4" fill="#000"/><circle cx="610.42" cy="2124.27" r="3.4" fill="#000"/><circle cx="652.22" cy="2117.72" r="3.4" fill="#000"/><circle cx="646.18" cy="2134.34" r="3.4" fill="#000"/><circle cx="659.77" cy="2135.35" r="3.4" fill="#000"/><circle cx="646.18" cy="2142.9" r="3.4" fill="#000"/><circle cx="657.26" cy="2142.9" r="3.4" fill="#000"/><circle cx="721.15" cy="2035.12" r="3.4" fill="#000"/><circle cx="714.1" cy="2051.24" r="3.4" fill="#000"/><circle cx="728.71" cy="2051.24" r="3.4" fill="#000"/><circle cx="715.11" cy="2062.32" r="3.4" fill="#000"/><circle cx="727.7" cy="2058.79" r="3.4" fill="#000"/><circle cx="762.96" cy="2037.64" r="3.4" fill="#000"/><circle cx="756.41" cy="2046.2" r="3.4" fill="#000"/><circle cx="769.5" cy="2046.2" r="3.4" fill="#000"/><circle cx="762.96" cy="2058.79" r="3.4" fill="#000"/><circle cx="763.46" cy="2091.53" r="3.4" fill="#000"/><circle cx="804.76" cy="2089.52" r="3.4" fill="#000"/><circle cx="798.21" cy="2107.65" r="3.4" fill="#000"/><circle cx="811.81" cy="2107.65" r="3.4" fill="#000"/><circle cx="804.76" cy="2125.78" r="3.4" fill="#000"/><circle cx="804.76" cy="2160.53" r="3.4" fill="#000"/><circle cx="835.98" cy="1974.18" r="3.4" fill="#000"/><circle cx="847.57" cy="1973.17" r="3.4" fill="#000"/><circle cx="836.99" cy="1984.76" r="3.4" fill="#000"/><circle cx="847.57" cy="1980.73" r="3.4" fill="#000"/><circle cx="857.14" cy="1984.25" r="3.4" fill="#000"/><circle cx="877.28" cy="1979.22" r="3.4" fill="#000"/><circle cx="888.87" cy="1986.77" r="3.4" fill="#000"/><circle cx="887.36" cy="1996.85" r="3.4" fill="#000"/><circle cx="877.28" cy="2001.88" r="3.4" fill="#000"/><circle cx="898.94" cy="2002.39" r="3.4" fill="#000"/><circle cx="924.12" cy="2020.01" r="3.4" fill="#000"/><circle cx="936.71" cy="2023.54" r="3.4" fill="#000"/><circle cx="924.12" cy="2043.68" r="3.4" fill="#000"/><circle cx="936.71" cy="2051.24" r="3.4" fill="#000"/><circle cx="930.17" cy="2062.32" r="3.4" fill="#000"/></g>
<text x="192.6" y="2187" font-size="17.6" font-style="italic">ns</text>
<text x="321" y="2177" font-size="17.6" font-style="italic">ns</text>
<text x="460.6" y="2101.6" font-size="17.6"><tspan font-style="italic">P</tspan> = 0.0463</text>
<text x="566.4" y="2051.2" font-size="17.6"><tspan font-style="italic">P</tspan> = 0.0003</text>
<text x="585" y="2012" font-size="17.6"><tspan font-style="italic">P</tspan> = 0.0259</text>
<text x="720" y="2009.9" font-size="17.6"><tspan font-style="italic">P</tspan> &lt; 0.0001</text>
<text x="746.2" y="1971.2" font-size="17.6"><tspan font-style="italic">P</tspan> = 0.0001</text>
<text x="847.4" y="1948" font-size="17.6"><tspan font-style="italic">P</tspan> = 0.0001</text>
<text x="865" y="1908.7" font-size="17.6"><tspan font-style="italic">P</tspan> = 0.0024</text>
<path d="M167.2 2199.3H250.3M294.1 2189.7H377.7M485 2115.2H526.3M568.1 2065.3H651.2M605.9 2027.6H650.7M721.2 2026.6H804.8M767 1987.3H811.3M850.1 1962.1H930.2M887.4 1923.8H931.7" stroke="#000" stroke-width="2.4" fill="none"/>
</g>
</svg>
</body></html>
